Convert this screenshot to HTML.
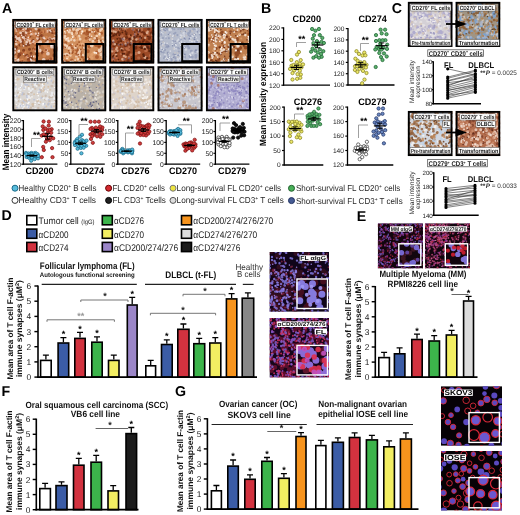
<!DOCTYPE html>
<html><head><meta charset="utf-8"><style>
html,body{margin:0;padding:0;background:#fff;}
svg{display:block;font-family:"Liberation Sans", sans-serif;text-rendering:geometricPrecision;filter:blur(0.35px);}
</style></head><body>
<svg width="520" height="515" viewBox="0 0 520 515">
<filter id="bl" x="-5%" y="-5%" width="110%" height="110%"><feGaussianBlur stdDeviation="0.45"/></filter>
<clipPath id="c1"><rect x="12.4" y="19" width="45" height="44.6"/></clipPath><g clip-path="url(#c1)">
<rect x="12.4" y="19" width="45" height="44.6" fill="#bc7444" />
<g filter="url(#bl)">
<path d="M26.6 25h0M42 21.4h0M36.6 35h0M14.1 41.6h0M13.2 38.2h0M14.7 22.2h0M31.4 56.5h0M17.2 28.4h0M40.9 62.2h0M38.5 36.5h0M57.3 20.2h0M51.7 31.5h0M18.2 23.5h0M25.9 56h0M19.9 45.1h0M41.4 35.4h0M37.1 20.9h0M14.2 27.6h0M43.4 37.9h0M26.2 45.3h0M32.7 32h0M48.7 50.6h0M22.9 44.8h0M36.1 58.8h0M45.7 31.4h0M57.5 23.5h0M31.1 53.3h0M18.5 40.8h0M13.2 49.1h0M47.3 44.7h0M52.5 32.6h0M44.1 45.7h0M38.7 39.3h0M50.9 62h0M33.7 48.9h0M14.3 50.7h0M41.8 64.3h0M50 31.3h0M29.5 49.2h0M12.5 39.5h0M19.3 23.5h0M14.2 53.8h0M17.5 29.5h0M29.8 58.6h0M15.2 38.9h0M37.2 59.2h0M49.9 58.3h0M24.5 37.4h0M28.3 59.2h0M56.4 25h0M19.7 28.8h0M22.4 40.6h0M39.1 30.2h0M11.6 37.5h0M28.8 44.4h0M56.2 50.2h0M35.6 46.8h0M43.2 20.5h0M53.7 54.3h0M52.5 55.2h0M29.8 36.6h0M16.3 47.6h0M14.3 21.1h0M21.2 25.6h0M27.4 20.5h0M11.4 25h0M16.2 34.9h0M12.6 58.7h0M40.3 24.9h0M23.3 34.2h0M28.5 23.7h0M51.3 64.3h0M33.3 40.5h0M15.4 22.8h0M27.5 30.3h0M50.4 25.5h0M12.5 62.3h0M36.2 24.8h0M36.9 19.3h0M36.2 63.6h0M52 50.4h0M23.7 35.1h0M19.3 54h0M36.4 54.3h0M26.9 28.4h0M49.5 63.9h0M51.5 55.6h0M49.9 52.5h0M22.1 42.1h0M28.1 19.4h0M12.7 31h0M23.6 50.3h0M56.4 38.8h0M55.4 64h0M56.3 35h0M21.8 28.6h0M20.6 27.5h0M40.7 60h0M50.9 40.3h0M42.1 55.3h0M15.4 48.8h0M54.2 54.5h0M46.7 40.3h0M19.8 54.8h0M27 55.3h0M57.1 36.4h0M30.3 62.1h0M45.5 25.9h0M17.4 25h0M53.9 55.6h0M18.3 56.5h0M57.5 48.6h0M27.9 43.6h0M17.6 18.7h0M57 48.3h0M36.1 61.5h0M31.8 58.6h0M50.2 27.8h0M23.2 31.7h0M22.7 45.3h0" stroke="#7a3418" stroke-width="3.0" stroke-linecap="round" opacity="0.8"/>
<path d="M23.6 37.5h0M17.6 60.4h0M28 39.4h0M38.8 60.1h0M31.2 60.8h0M35 42.8h0M36 18.9h0M32.1 26.5h0M11.6 55.2h0M19.5 40.1h0M45.5 43.9h0M26.7 42.2h0M37.5 54.5h0M16.4 44.1h0M23.1 30.9h0M47.7 41.7h0M37.8 53.4h0M54.3 38.7h0M40.2 41.6h0M35.5 50.3h0M32.7 42.9h0M33.9 61.9h0M44.3 58.8h0M55.7 30.1h0M37.7 62h0M50.9 24.4h0M17.1 38.6h0M14.8 29.2h0M14.8 49.2h0M48.2 59.8h0M18.7 51.4h0M42.4 24.7h0M52.9 63.1h0M21.7 62.4h0M30.1 40.7h0M57.9 56.8h0M19 38.1h0M35.6 33.8h0M20.6 32.8h0M45.3 18.9h0M37.4 38.5h0M12.2 33.4h0M40.7 41.9h0M14.4 63.9h0M48.5 63.3h0M16.3 30.4h0M13.3 54.3h0M24.1 24h0M31.2 60.5h0M49.9 30.1h0M18.4 60.8h0M38.2 50.6h0M15.6 20.7h0M43.7 37.8h0M14.8 61.7h0M41.2 55.4h0M15.3 57.9h0M14.5 58.2h0M32.7 33.8h0M37.4 61.2h0M24 24h0M36.2 29.1h0M16.5 25.5h0M13.8 27.4h0M26.1 32.2h0M47.1 31.5h0M34.9 26.3h0M27.7 18.8h0M23.2 18.7h0M45.9 43.7h0M20.3 40.1h0M55.3 23h0M49.9 38.1h0M34.7 56.9h0M29.9 41.6h0M43.7 63.8h0M27.5 56.8h0M44.6 47.6h0M30.4 34.2h0M14 24h0M14.7 52.5h0M23.4 25.6h0M15.4 57.2h0M52.3 49.2h0M24.7 29.3h0M25.2 39.4h0M18.8 38.8h0M23.8 62.8h0M57.1 43.5h0M22.9 63h0M25.9 34.6h0M11.5 35.8h0M33.7 41.4h0M20.8 41.5h0M11.6 30.3h0M15.6 36.6h0M13.4 19h0M25.7 28.8h0M38.9 42.7h0M46.7 48.6h0" stroke="#f2d8cc" stroke-width="2.8" stroke-linecap="round" opacity="0.85"/>
<path d="M45.1 59h0M29.7 33.2h0M57.7 25h0M45.4 48h0M13.5 56.9h0M53.3 47.2h0M45.9 55.8h0M17.9 42.4h0M35.1 56.9h0M49.2 56.5h0M38.9 59.6h0M43.5 50.3h0M22.2 19.5h0M17.7 34.8h0M16.3 56.9h0M37.7 47.3h0M40.8 49.7h0M34.4 18.2h0M48.9 52.9h0M35 42.9h0M42.4 21.1h0M46 29.8h0M14.9 30.4h0M45.7 27.6h0M46.2 63.5h0M34.6 35.8h0M33.9 49.9h0M47.4 46.8h0M41.6 21.6h0M18.3 29.8h0M46.3 32.2h0M38.1 18.6h0M14.3 30.5h0M43 50.3h0M43.2 31.6h0M35.7 39.7h0M33.3 23.5h0M53.4 27.3h0M57.4 61.6h0M12.2 39.4h0M49.9 63.1h0M32.5 30.5h0M21.3 62.1h0M21.3 45.1h0M18.1 42.4h0M56.2 24.2h0M50 41.7h0M53.1 50.8h0M22.3 59.8h0M34.2 19.2h0M11.6 40.9h0M32.6 32.1h0M18 34h0M26.3 57.2h0M11.5 53h0M50.8 23.6h0M54.9 51.2h0M53.8 31.5h0M28.9 36.3h0M58.3 45.5h0M28.4 37.9h0M24.3 20.2h0M16.2 56.9h0M24.8 61.6h0M23.1 30.4h0M35.4 26.8h0M28.9 62.6h0M53 55.8h0M41.1 60.6h0M55.6 43.6h0M45.2 20.3h0M45.8 39h0M46.8 48h0M24.9 20.3h0M55 23.9h0M33.6 34h0M25.4 52.4h0M57.3 30.1h0M42.2 32h0M37.6 36.4h0M19.3 25.5h0M21.2 60.2h0M34.8 28.3h0M54 64.4h0M32.5 24.5h0M20.4 22.2h0M27.5 22.2h0M22.6 30h0M38.2 59.3h0M46.6 37.2h0M30.9 42.4h0M29.1 33.8h0M14.3 30.9h0M56.9 23.9h0M35.1 47.3h0M52 28.1h0M24.1 29.6h0M30.2 38.8h0M56.2 57.5h0M52.4 19h0" stroke="#d88a58" stroke-width="2.6" stroke-linecap="round" opacity="0.8"/>
<path d="M12.9 51.1h0M53.5 40.1h0M39 18h0M29.8 61.2h0M50.2 57.9h0M57.1 29.6h0M16.5 25.2h0M36 49.8h0M55.7 51.6h0M41.8 53.6h0M32.9 43.7h0M13.3 54.5h0M22.3 60.9h0M41.7 32.2h0M17.4 29.7h0M41.3 50.6h0M16.7 21.3h0M36 45.2h0M29.6 28.4h0M39.6 18.5h0M25.6 39.5h0M56.5 48h0M52.9 40.1h0M22.4 29.5h0M56.5 50.8h0M25.8 19h0M34.8 49.4h0M31.1 30h0M42.8 61.1h0M22.1 19.6h0M27.3 37.6h0M43.5 27.2h0M48.9 52.4h0M35.1 27.6h0M57 32.5h0M49.9 28.8h0M21.8 53.4h0M25.3 62.4h0M34.7 26.7h0M21.9 37.4h0M42.7 62.2h0M18.3 36.3h0M21.4 63.4h0M18.1 20.4h0M14.2 36.3h0M53.6 59.2h0M45.8 64.5h0M55.2 33.3h0M20.1 61.6h0M46.5 19.5h0M42.6 35.6h0M29 33.5h0M19.4 18.1h0M24.6 34.4h0M56.3 23.8h0M56.7 27.7h0M28.2 56.3h0M50 38.2h0M13.7 40.1h0M28.9 60.8h0M20.5 35h0M53.6 19.4h0M30.7 55.8h0M47.4 19.9h0M13 20.9h0M54.6 30h0M46.5 59.9h0M27.3 30.7h0M56.4 46.8h0M23.7 51.4h0M26.3 30.8h0M11.6 53.2h0M54.5 47.5h0M55.7 19.1h0M22.4 40.1h0M56.4 62.5h0M29.6 29.7h0M31.6 41h0M55 26.5h0M49.1 52.4h0M50.1 54h0M39.9 33.3h0M26.4 34.9h0M48.2 21.7h0M20.7 53.1h0M23 21h0M13 43.8h0M26.7 63.7h0M52.9 64h0M23.8 21.9h0" stroke="#a04c28" stroke-width="2.0" stroke-linecap="round" opacity="0.85"/>
<path d="M15.9 41.2h0M44.8 38.8h0M22.4 37.4h0M40.6 49.4h0M46.6 57.5h0M42.6 23.6h0M50.9 31.7h0M38 35.4h0M46.1 27.3h0M23 29.4h0M18.6 59.2h0M38.6 33.2h0M30 64.2h0M35.2 28.8h0M49.4 48.4h0M58 22.8h0M33.7 56.2h0M50.9 60.6h0M13.3 31.7h0M17 26.8h0M57.1 45.2h0M55.1 35.3h0M52.1 38.9h0M23.6 54.2h0M55.8 22.9h0M39.4 46.9h0M21.6 35.2h0M18 27.5h0M23.4 45.9h0M42 27.5h0M11.9 33.2h0M43.3 26.6h0M26.1 27.5h0M48.8 43.5h0M14.4 22.7h0M30 43.6h0M41.4 22.2h0M19.1 50.4h0M30.7 31.2h0M25.9 62.4h0M26.1 44.4h0M28.2 37.4h0M52 64.4h0M28.5 27.2h0M45.6 27.5h0M11.7 60h0M31.3 56.2h0M30.5 59.1h0M33.1 25.6h0M12.1 43.7h0" stroke="#fff0ea" stroke-width="1.6" stroke-linecap="round" opacity="0.9"/>
</g>
</g>
<clipPath id="c2"><rect x="36" y="43" width="19.6" height="19.2"/></clipPath><g clip-path="url(#c2)">
<rect x="36" y="43" width="19.6" height="19.2" fill="#bc7444" />
<g filter="url(#bl)">
<path d="M48.8 61.3h0M36.9 55.2h0M43 52.7h0M38.2 48h0M46.3 61.6h0M37.3 52.4h0M52.4 62.5h0M39.3 44.7h0M55.4 62.7h0M45.4 43.1h0M55 50.2h0M54.5 55.2h0M52.8 45.4h0" stroke="#7a3418" stroke-width="4.050000000000001" stroke-linecap="round" opacity="0.8"/>
<path d="M52 46.7h0M43.7 59.9h0M52.9 45.9h0M39.7 50.5h0M46.2 50.1h0M37.7 47.2h0M50.7 61h0M35.9 53.9h0M51.4 42.8h0M53.1 44.5h0M47.9 53.7h0" stroke="#f2d8cc" stroke-width="3.78" stroke-linecap="round" opacity="0.85"/>
<path d="M48.5 48.5h0M44.1 54.4h0M44.2 56h0M44.7 51.3h0M35.5 55.1h0M45.6 47h0M51.5 58.5h0M44.9 45.8h0M45.2 44.3h0M37.8 51.1h0M37 51.4h0" stroke="#d88a58" stroke-width="3.5100000000000002" stroke-linecap="round" opacity="0.8"/>
<path d="M46 42.9h0M48.7 43.7h0M50.8 58.5h0M46 43.2h0M45.9 50h0M55.5 44.9h0M53.5 63.1h0M50.8 59.3h0M39.2 62.8h0M45.6 62.3h0" stroke="#a04c28" stroke-width="2.7" stroke-linecap="round" opacity="0.85"/>
<path d="M54.8 45.5h0M52 61.7h0M36.4 49.4h0M51.3 45.4h0M54.4 47.8h0" stroke="#fff0ea" stroke-width="2.16" stroke-linecap="round" opacity="0.9"/>
</g>
</g>
<rect x="37" y="44" width="17.6" height="17.2" fill="none" stroke="#000" stroke-width="2.0" />
<rect x="13.3" y="19.9" width="43.1" height="42.7" fill="none" stroke="#000" stroke-width="1.9" />
<rect x="15.7" y="21.4" width="39.3" height="6.1" fill="#fff" stroke="#444" stroke-width="0.5" />
<text x="35.3" y="26.5" font-size="6.0" font-weight="bold" text-anchor="middle" fill="#1a1a1a" textLength="37.5" lengthAdjust="spacingAndGlyphs" >CD200<tspan dy="-2.1" font-size="3.6">+</tspan><tspan dy="2.1"> </tspan>FL cells</text>
<clipPath id="c3"><rect x="61.2" y="19" width="45" height="44.6"/></clipPath><g clip-path="url(#c3)">
<rect x="61.2" y="19" width="45" height="44.6" fill="#d08e5c" />
<g filter="url(#bl)">
<path d="M98.5 24.7h0M83.8 60.9h0M70 30.2h0M84 32.9h0M61.9 26.5h0M67.8 61.6h0M92.1 59.7h0M68.1 54.6h0M65.6 42.7h0M90.1 34.8h0M101.2 43.9h0M87.5 59.1h0M65.1 64.3h0M89.8 36.4h0M97.7 30.3h0M106.8 44.9h0M77.1 53.6h0M81 26.2h0M95.1 20.3h0M98.7 29.8h0M90.2 63.9h0M87.7 48.9h0M74.9 18.1h0M61.8 25h0M89.2 38.1h0M84.3 59.7h0M66.4 28.6h0M90.9 19h0M60.3 34.5h0M65.2 34.6h0M70.7 45.2h0M87.9 27.5h0M89.5 40.1h0M66.5 61.6h0M71.6 25h0M64.7 47.7h0M101.2 54.4h0M79.1 30.3h0M60.7 48.1h0M86.6 34.3h0M90.5 38.7h0M104.2 52.2h0M71.9 60.1h0M62.3 42.8h0M79.3 29.1h0M62.9 54.3h0M60.8 43.7h0M104.4 24.6h0M69.6 46.3h0M84 47.9h0M98.4 26.1h0M74.7 32h0M62.5 59.4h0M97 51.3h0M60.5 57.4h0M95.2 39.7h0M95.1 39.1h0M70.8 22.9h0M71.1 19.8h0M76 52.9h0M92.9 57.4h0M93.6 30.4h0M86.2 38.3h0M97.3 42.4h0M72.7 47.9h0M105.6 28.1h0M101.6 18.7h0M72.4 29h0M95.2 62h0M95.3 33.2h0M101.6 33.3h0M71.4 60.3h0M89.8 50.3h0M91.5 63.6h0M82.3 57.1h0M93 58h0M80.7 51.8h0M87 32.3h0M70.2 47h0M63.9 60.4h0M67 19.3h0M65.2 61.3h0M76.4 24.6h0M61.6 19.9h0M92.8 47.5h0M93 52.3h0M63.3 45.5h0M77.3 56.1h0M98.7 59.5h0M63.3 58.4h0M103.2 62h0M65.2 27.6h0M65.5 19.6h0M100 55.8h0M90 56.4h0M89.9 31.4h0M64.9 22.6h0M95.8 27.6h0M75.2 37.7h0M61.2 30h0M73.5 51.4h0M77.5 33h0M105.5 41.5h0M100.2 46.8h0M61.7 37.2h0M80.7 54h0M76.5 50.8h0M85.5 28.1h0M100.7 22.2h0M98.7 25.9h0" stroke="#a85428" stroke-width="3.0" stroke-linecap="round" opacity="0.8"/>
<path d="M60.3 27.4h0M96 63.6h0M60.4 40.9h0M83.3 55.1h0M68.9 41h0M76.5 56.8h0M72.4 62h0M73.5 28h0M93.1 41.2h0M65.4 47.7h0M64 54.7h0M93 54.7h0M89.7 34.6h0M79.1 36.4h0M102 22h0M102 19.2h0M69.9 30.3h0M102.6 41.4h0M78 59.2h0M71.2 39.5h0M85.2 53.2h0M95.6 48.1h0M76.6 33.2h0M67.5 57.3h0M91.3 52.6h0M68.2 38.4h0M96.6 45h0M66.1 39.5h0M101.8 29.1h0M69.2 32.1h0M93.2 57.3h0M67.5 25.3h0M71.8 33.2h0M84.7 25.5h0M75.6 26.8h0M106 52h0M65 62.8h0M65 35.9h0M106.4 55h0M94.7 38.3h0M69.4 47.7h0M65.2 27.6h0M78.5 19.6h0M79 54.9h0M92.8 41.3h0M89.9 39.6h0M66.9 46.1h0M79.2 52.5h0M102.9 38h0M87.2 52.9h0M80 28.7h0M94.1 59h0M96.6 50.6h0M100.3 49.7h0M90.4 39.2h0M74.9 47.3h0M64.8 37.6h0M97 51.2h0M89.8 29.7h0M80.1 39.2h0M89.4 37.1h0M91.9 61.3h0M68.8 48.5h0M96.8 36.1h0M83.2 63.4h0M62 43.3h0M67.8 54.4h0M104.4 42.2h0M65 44.8h0M85.6 51.4h0M84.3 47.8h0M99.2 42.3h0M79.5 62.2h0M70.1 49.9h0M78.6 53.5h0M66 63.9h0M76.9 20.6h0M73.1 36.6h0M60.8 37.5h0M80 50.5h0M76.7 30.4h0M70.7 52.6h0M104.4 42.6h0M70.5 55.3h0M78.6 27.9h0M66.3 54.2h0M98.2 47.6h0M82.3 44.2h0M70.8 62.9h0M76.8 47.8h0M98.7 56h0M82.2 31.7h0M86 23.8h0M99.4 34.5h0M100.2 30.5h0M77.9 29.8h0M80.2 26.7h0M60.3 51.6h0M73.4 29.4h0M74.4 40.3h0" stroke="#f6dcc4" stroke-width="2.8" stroke-linecap="round" opacity="0.85"/>
<path d="M80.3 47.7h0M91.2 34.9h0M103.9 57.8h0M62.9 56.6h0M102.8 54.5h0M66.8 56.7h0M90 18.7h0M60.7 62.4h0M91 29.7h0M65 24.7h0M71.2 54.2h0M76.5 25.1h0M102.7 54.9h0M68.1 59.5h0M88.8 54.4h0M91.6 59.7h0M97.2 57.1h0M69.5 50.3h0M85.1 52.6h0M80.8 59.1h0M86.3 30.3h0M71.2 24.5h0M83.4 20.7h0M82.2 24.7h0M83.3 41.2h0M85.6 58.2h0M60.5 57.2h0M82.2 44.2h0M91.5 57.2h0M77.8 37.5h0M105.3 21.5h0M90.1 47.6h0M61.5 46.4h0M92.3 61.4h0M75.7 63.7h0M84.2 40.6h0M102.4 19.6h0M94 47.1h0M76.1 58.2h0M77.4 40.1h0M84.9 53.9h0M70.1 38.3h0M80.1 43.8h0M99.1 31.6h0M99.1 36.8h0M83.9 30.7h0M84 63.4h0M91 54.9h0M75.8 32.8h0M74.3 45.3h0M90 54.5h0M62.1 51.7h0M101.8 43.4h0M62.5 32h0M60.5 26.9h0M103.5 46.4h0M91.1 54.8h0M103 46.5h0M89.2 47.2h0M92.9 45.8h0M92.2 27.9h0M91.5 39.3h0M96 22.7h0M68.7 19.7h0M96.6 60.6h0M91 35.2h0M98.9 54.7h0M86.6 30h0M74.4 37.7h0M75.2 38.1h0M90.4 61.5h0M62.8 44.4h0M62.1 23.5h0M98.3 44.8h0M103.4 38.8h0M60.9 36h0M88 61.7h0M106.3 40.2h0M79.6 22.8h0M90.5 27.9h0M67.3 18.7h0M60.4 49.9h0M65.9 63h0M64.3 58.5h0M66.3 18.8h0M94 29.3h0M94.7 26.7h0M62.6 54.1h0M93.7 57.9h0M94.5 21.9h0M89.7 51.1h0M81.8 61.4h0M72.1 62.9h0M93.9 18.5h0M60.9 48.3h0M98.6 21.7h0M74.8 52h0M68 58.1h0M83.1 20.8h0M77.5 44.8h0" stroke="#e4a470" stroke-width="2.4" stroke-linecap="round" opacity="0.8"/>
<path d="M80.8 49.5h0M67 55.2h0M77.3 48.1h0M89.8 37.5h0M78.3 54.6h0M104.6 54.6h0M86.8 31.6h0M63 63.4h0M93.3 56.6h0M75.8 46.2h0M106.1 56.7h0M88.5 32.4h0M80.3 59.4h0M77.9 49.9h0M88.5 59.8h0M98.2 31.2h0M60.3 30.3h0M80.1 45.3h0M98.6 59.4h0M62.2 56.8h0M98.4 58.4h0M87.1 30.8h0M100.2 55.6h0M92.4 60.6h0M76.5 22h0M86.2 55.2h0M69.6 53h0M104 28.9h0M88.7 49.6h0M82.1 27.6h0M72.2 53h0M97.4 39.4h0M64.3 55.6h0M96.5 28.9h0M87.4 59.8h0M101.8 42.3h0M82.6 45.5h0M69.1 27h0M68.7 50.7h0M77.3 44.3h0M79.1 42.1h0M67.2 20.1h0M107.1 35.4h0M65.2 47.5h0M97.2 25.3h0M88.3 34.1h0M84.6 19h0M61.8 64.2h0M100.9 40.7h0M86.9 30.2h0M96.8 37.8h0M104.7 53.8h0M98.7 62.9h0M72.1 19.8h0M69.6 26.4h0M64.1 20.4h0M86.4 58.6h0M81.7 62.1h0M103 21h0M88.3 36.5h0" stroke="#98481e" stroke-width="1.8" stroke-linecap="round" opacity="0.85"/>
<path d="M65.8 62.7h0M72.3 44.3h0M90.3 62.6h0M91.7 36.3h0M81.3 25.4h0M105.6 64.2h0M70.6 19.8h0M72.2 34.4h0M102.6 60.2h0M99.5 20.2h0M97.2 51.1h0M90.6 63.9h0M62.8 24.7h0M95.7 61.8h0M92 31.9h0M88 53.3h0M65.2 33.1h0M72.3 23.8h0M82.8 25.9h0M71.4 24.7h0M92 18.6h0M93.9 27.1h0M61.9 61.2h0M70.6 61.5h0M100.9 59.4h0M66.8 38.8h0M64.8 61.3h0M99.8 47.3h0M81.5 33.8h0M98.9 40.3h0M89.7 24.7h0M70.6 20.6h0M93.7 43.8h0M67 58.6h0M72.7 37.2h0M67.5 30.6h0M99.7 33.6h0M68.1 40.9h0M75.1 60.1h0M65.6 63.6h0M62.9 59.7h0M91.6 27.8h0M82.6 31.3h0M72.3 27.4h0M77.3 64.2h0M107.1 61.1h0M64.8 31.5h0M102.3 20.7h0M94.3 31.7h0M106.2 18.7h0" stroke="#fff4ea" stroke-width="1.6" stroke-linecap="round" opacity="0.9"/>
</g>
</g>
<clipPath id="c4"><rect x="84.8" y="43" width="19.6" height="19.2"/></clipPath><g clip-path="url(#c4)">
<rect x="84.8" y="43" width="19.6" height="19.2" fill="#d08e5c" />
<g filter="url(#bl)">
<path d="M101.2 49.2h0M86.8 42h0M101.8 53.2h0M87.8 51.2h0M103.5 46.6h0M96.1 44.9h0M87.7 58.3h0M99.2 46.2h0M85.5 43.9h0M96.9 52.5h0M89.7 46.4h0M97 57h0" stroke="#a85428" stroke-width="4.050000000000001" stroke-linecap="round" opacity="0.8"/>
<path d="M101.3 54.4h0M88.2 43.4h0M99.6 50.7h0M99.4 43.2h0M101.3 49.1h0M102 60.3h0M94.4 42.3h0M103.5 52.1h0M102.6 47.6h0M87.8 59.6h0M91.7 45.5h0" stroke="#f6dcc4" stroke-width="3.78" stroke-linecap="round" opacity="0.85"/>
<path d="M91.8 54.6h0M83.9 53h0M93.4 52.9h0M86.4 57.1h0M101.4 60.3h0M90.7 57.1h0M92 57.9h0M85.1 60.5h0M104.4 52.5h0M94.9 53.2h0M95.4 42.4h0" stroke="#e4a470" stroke-width="3.24" stroke-linecap="round" opacity="0.8"/>
<path d="M104.7 46.7h0M87.7 44.2h0M89.2 59.3h0M84.4 44h0M98.9 46.1h0M84.2 54.7h0" stroke="#98481e" stroke-width="2.43" stroke-linecap="round" opacity="0.85"/>
<path d="M96.3 53.1h0M99 44.2h0M102.6 57.2h0M84.8 44.6h0M94.5 52.6h0" stroke="#fff4ea" stroke-width="2.16" stroke-linecap="round" opacity="0.9"/>
</g>
</g>
<rect x="85.8" y="44" width="17.6" height="17.2" fill="none" stroke="#000" stroke-width="2.0" />
<rect x="62.2" y="19.9" width="43.1" height="42.7" fill="none" stroke="#000" stroke-width="1.9" />
<rect x="64.5" y="21.4" width="39.3" height="6.1" fill="#fff" stroke="#444" stroke-width="0.5" />
<text x="84.2" y="26.5" font-size="6.0" font-weight="bold" text-anchor="middle" fill="#1a1a1a" textLength="37.5" lengthAdjust="spacingAndGlyphs" >CD274<tspan dy="-2.1" font-size="3.6">+</tspan><tspan dy="2.1"> </tspan>FL cells</text>
<clipPath id="c5"><rect x="109.2" y="19" width="45" height="44.6"/></clipPath><g clip-path="url(#c5)">
<rect x="109.2" y="19" width="45" height="44.6" fill="#9c4a26" />
<g filter="url(#bl)">
<path d="M121.3 23.7h0M127.3 24.4h0M136 58.1h0M115.1 44.7h0M143.3 25.7h0M147 61.7h0M126.5 37.6h0M147.7 42.5h0M126.8 61.9h0M144.7 33.8h0M119.5 33.6h0M128.7 63.7h0M146 60.5h0M146.5 57.5h0M110.7 42.1h0M153.2 61.5h0M119.9 37.7h0M137.9 35h0M133.1 21.2h0M128.6 41.5h0M109.2 24.5h0M153.8 54.2h0M152.2 47.5h0M146.2 59.2h0M149.8 19.6h0M138.4 30.4h0M140.1 30.7h0M133.7 61.1h0M137.4 29.7h0M132.7 38.2h0M152.9 31.4h0M122.6 48.2h0M113.9 45.7h0M153.1 41.9h0M120.8 39.7h0M133.3 24.9h0M114 24.1h0M122 36.9h0M121.8 29.3h0M112.3 43.5h0M147.7 46.4h0M135 48.3h0M117.7 51.1h0M129.9 43.5h0M137 39.9h0M122.8 29.3h0M118.6 41.9h0M126.2 45.3h0M108.8 34.4h0M148.7 29.1h0M134.4 40.9h0M121.6 64h0M122.1 54h0M115.7 21.1h0M149.1 38.5h0M111.1 36.1h0M128.9 52.3h0M113.3 28.5h0M153.3 52.4h0M115.5 33.7h0M124.8 49.5h0M137.2 57.6h0M146.8 42.1h0M142.9 52.6h0M143.9 40.1h0M145.1 51h0M151.2 23.9h0M149.1 18.2h0M144.2 45.3h0M131.6 62.9h0M135.1 37.5h0M145 58.7h0M136.7 35.7h0M129.5 39.3h0M142.2 31.7h0M126.6 43.9h0M126.3 33h0M145.2 57.6h0M131.7 38.7h0M116.9 32.2h0M115 44.8h0M135.5 22.1h0M151.4 33.1h0M147.8 57.1h0M153.3 27.5h0M128.2 60.4h0M108.7 20.2h0M134.8 41.2h0M151.5 54h0M133.5 64.5h0M132.5 42.1h0M140.4 36.2h0M125 45.7h0M124.7 62.2h0M140 42.5h0M112.9 35.4h0M127 44.2h0M135.2 59h0M153.5 40.7h0M128.9 47.1h0M155 34h0M133.1 56h0M116.2 32.8h0M154.2 56.5h0M132.3 23.1h0M150.2 50.1h0M146.8 64.1h0M149.9 37.6h0M115.6 31.5h0M132.2 41.5h0M117 26.5h0M137.8 46.1h0M124.8 64.3h0M138.1 20h0M127.5 54.7h0M122.6 50.2h0M108.4 32.2h0M147.8 45.3h0M139.6 27.2h0M131.6 43.8h0M120.7 48.1h0M133.2 64.5h0M135.2 37.2h0M113.9 25.3h0M143.9 23h0M112.9 25.9h0M132.8 56.4h0M137 55.6h0M111.1 18.6h0M144.4 33h0" stroke="#682810" stroke-width="3.0" stroke-linecap="round" opacity="0.8"/>
<path d="M141.8 34.5h0M116.2 30.4h0M112.9 60.1h0M135.6 34.3h0M129.3 36h0M110.8 59.5h0M135.6 62.7h0M128.9 46.9h0M119.9 20h0M151.9 57.8h0M123 59.9h0M146.5 32.2h0M136.5 62.7h0M131.5 62.3h0M119.6 36.2h0M142 28.3h0M122.7 58.8h0M131 54.9h0M119.6 26.1h0M125 26.7h0M153.9 31.5h0M134.6 23.4h0M133.3 36h0M127.2 21h0M114 56.5h0M124.7 29.4h0M117.2 31.2h0M119.3 19.6h0M139.4 33.9h0M115.5 50.9h0M112.6 30.6h0M147.4 24h0M129 57h0M146 25.4h0M124.8 51.7h0M125.9 62.7h0M118 62.3h0M131.9 28.6h0M129.5 24.1h0M141.4 30.2h0M150.5 45.4h0M125.5 29.5h0M136.8 27.9h0M149.2 23.7h0M132.3 43.3h0M120.9 54h0M126.3 48.6h0M134.9 32.5h0M126.5 22h0M116.5 57.7h0M123.3 48.9h0M113.3 44.2h0M125.2 41.3h0M122.2 21.1h0M122.8 28.6h0M114.1 51.4h0M121.5 36.8h0M150.9 54.1h0M149.7 58.1h0M114.4 30.9h0M109.6 49.7h0M139.4 34.4h0M127.6 48.7h0M141.1 29.6h0M148 34.4h0M137.8 26.5h0M113.6 60.5h0M142.7 51.2h0M110.1 19.9h0M115.8 27.2h0M122.4 35.7h0M110 32.5h0M138.2 26.4h0M147.7 44.6h0M141.9 29.9h0M128.6 49.9h0M124.6 18h0M147.4 54.2h0M121.7 20h0M148.3 46.3h0M110.4 29.4h0M113.4 54.9h0M118.1 60.6h0M143.4 22h0M140.8 36.3h0M143.3 56.6h0M121.4 22.2h0M152.7 37.8h0M151.9 50.2h0M142.9 56.7h0M137.7 39.1h0M110.8 50.5h0M128.3 41.9h0M151.8 23.9h0M144 20h0M141.2 55.5h0M120.5 43.5h0M153.8 47.7h0M133.8 29.6h0M111 34.7h0" stroke="#c47450" stroke-width="2.6" stroke-linecap="round" opacity="0.8"/>
<path d="M127.5 27.4h0M122.8 24.4h0M141.4 49.2h0M119.4 29.3h0M132.4 38.7h0M152.2 34.4h0M122.3 59.2h0M114.9 44.2h0M123.9 56h0M134 53.4h0M116.2 49.1h0M136.3 39.5h0M144.2 56.7h0M113.6 31.5h0M125.1 27.6h0M111 31.1h0M117.5 50.7h0M129.3 23.3h0M123.5 39.8h0M125.3 25.8h0M111.6 18.5h0M154.8 53h0M112.1 51.4h0M154.3 44.3h0M113.3 40.8h0M128.6 26.8h0M133.7 18.4h0M151.4 48h0M137.7 61.6h0M138.9 29.7h0M119.8 24.5h0M109.5 54.1h0M147.7 31.8h0M116.9 47.7h0M147.9 61.2h0M116.1 54.6h0M147.2 52.6h0M123.6 26.6h0M147 32.9h0M125.5 43.7h0M125.6 56.7h0M119.5 19.9h0M134.8 47.3h0M146.7 50.9h0M150.7 62h0M131.4 41.3h0M115.6 32h0M135.5 21.7h0M140.5 25.6h0M129 63.2h0M112.4 19.9h0M128.9 26.9h0M142.2 18.1h0M147.7 57.9h0M145.2 37.8h0M121.5 48.8h0M132.4 37.6h0M124.1 38.4h0M139.5 56.5h0M150.7 25.7h0" stroke="#e0b498" stroke-width="2.4" stroke-linecap="round" opacity="0.85"/>
<path d="M122.1 38.7h0M134.7 34.2h0M117.4 22h0M123.4 39.5h0M153.9 60.3h0M148.9 63.4h0M153.4 46.9h0M146.3 20.8h0M140 46.4h0M122.2 44.6h0M153 40.4h0M138.6 31.9h0M124.3 59.2h0M109.5 26.8h0M140.1 38.8h0M112.2 48.8h0M125.7 45.1h0M127.8 42.7h0M134.7 36.5h0M113.6 26.4h0M150 43.5h0M113.5 58.2h0M120.1 22.4h0M133.1 29.7h0M131.2 43.8h0M118.8 44.7h0M113.5 41.9h0M135.9 21.7h0M127.4 21.4h0M128.9 58.2h0" stroke="#7a6478" stroke-width="2.0" stroke-linecap="round" opacity="0.7"/>
<path d="M134.1 51.3h0M143.8 23.3h0M154.8 51.6h0M113 56.7h0M126.6 26h0M153.3 44.2h0M144.6 24.4h0M144.7 20.7h0M119.3 35.4h0M108.9 45.7h0M118.2 32h0M141.4 37.9h0M150 46.9h0M149.2 44.2h0M151.3 58.6h0M116.1 52.7h0M124.2 53.6h0M140.2 56.5h0M114 35.4h0M142.9 62.2h0M142.1 20h0M136.6 22.6h0M134 55.4h0M113.5 61.1h0M139.9 29.9h0M117.3 38.8h0M147.6 45.1h0M113.5 19h0M113.4 55.3h0M116.9 43.8h0M121.8 50h0M126.1 24.7h0M149.3 43.1h0M140.6 55.7h0M152.8 18.6h0M124.3 25h0M131.8 58.7h0M145.8 19.7h0M116.8 56.1h0M140.1 36.3h0M130.6 25.4h0M147.9 36.3h0M149.2 46.5h0M111.8 33.3h0M118.4 59.7h0M135.9 20h0M116.2 34.8h0M130.2 44.9h0M126.4 34.5h0M108.5 45h0M123.9 19h0M129.8 64h0M110.3 24.8h0M139.7 30.7h0M121 41.3h0M120.5 44.5h0M133 62.6h0M154.8 19.6h0M134.5 53.9h0M149.2 54.1h0M138 47.6h0M125.3 31.1h0M145.6 58.7h0M152.3 49.8h0M122.5 53.6h0M143 41.7h0M138.1 34.3h0M134.1 36.9h0M111 33.7h0M123.4 64.1h0M130.8 35.1h0M119.6 28.9h0M124.6 24.3h0M108.5 58.6h0M129.5 38.8h0M134.9 32.1h0M116.1 21.1h0M122.4 32.4h0M142.4 43.7h0M152.3 33.9h0" stroke="#501e0a" stroke-width="1.8" stroke-linecap="round" opacity="0.9"/>
</g>
</g>
<clipPath id="c6"><rect x="132.8" y="43" width="19.6" height="19.2"/></clipPath><g clip-path="url(#c6)">
<rect x="132.8" y="43" width="19.6" height="19.2" fill="#9c4a26" />
<g filter="url(#bl)">
<path d="M151.7 54.4h0M133.5 45.8h0M144.3 62.9h0M139.5 58.4h0M141.1 60.4h0M133.3 52.3h0M151.2 47.8h0M137.4 42.5h0M135.4 47.7h0M147 46.6h0M140.4 46.2h0M144.8 60.3h0M145.8 46.2h0M147.7 62.4h0" stroke="#682810" stroke-width="4.050000000000001" stroke-linecap="round" opacity="0.8"/>
<path d="M144.8 43.7h0M149.3 60.6h0M139.2 44.9h0M135.9 53.4h0M150.7 55.6h0M151.7 46.5h0M138.9 57.9h0M145.8 50.6h0M146.5 49.2h0M133 50.8h0M132.8 55.3h0" stroke="#c47450" stroke-width="3.5100000000000002" stroke-linecap="round" opacity="0.8"/>
<path d="M139 52.5h0M144.7 47.4h0M141.8 42.3h0M151.8 54h0M153.1 43.2h0M145.1 57.4h0" stroke="#e0b498" stroke-width="3.24" stroke-linecap="round" opacity="0.85"/>
<path d="M138.9 44h0M135.2 45h0M148.4 43.9h0" stroke="#7a6478" stroke-width="2.7" stroke-linecap="round" opacity="0.7"/>
<path d="M149.4 51h0M143.4 54.5h0M143.8 55.9h0M144.8 49h0M147.8 47.5h0M147.2 58.2h0M148.6 48.6h0M148.5 62.7h0M141.6 47.9h0" stroke="#501e0a" stroke-width="2.43" stroke-linecap="round" opacity="0.9"/>
</g>
</g>
<rect x="133.8" y="44" width="17.6" height="17.2" fill="none" stroke="#000" stroke-width="2.0" />
<rect x="110.2" y="19.9" width="43.1" height="42.7" fill="none" stroke="#000" stroke-width="1.9" />
<rect x="112.5" y="21.4" width="39.3" height="6.1" fill="#fff" stroke="#444" stroke-width="0.5" />
<text x="132.2" y="26.5" font-size="6.0" font-weight="bold" text-anchor="middle" fill="#1a1a1a" textLength="37.5" lengthAdjust="spacingAndGlyphs" >CD276<tspan dy="-2.1" font-size="3.6">+</tspan><tspan dy="2.1"> </tspan>FL cells</text>
<clipPath id="c7"><rect x="157.6" y="19" width="45" height="44.6"/></clipPath><g clip-path="url(#c7)">
<rect x="157.6" y="19" width="45" height="44.6" fill="#b6bccc" />
<g filter="url(#bl)">
<path d="M181.2 61.8h0M162.8 18.4h0M179 48.5h0M193 34.9h0M203.1 28.6h0M192.2 22.2h0M157.9 24.3h0M159.4 41.4h0M182.7 26.5h0M200.8 35h0M163.6 26.3h0M191.3 60.9h0M164.2 19.4h0M193.2 29.3h0M202.8 41.3h0M186.5 34h0M194.2 39.4h0M171.8 60.1h0M161.7 52.2h0M159.7 48.1h0M175.5 58.3h0M159.4 44.3h0M175.9 60.8h0M201 47.2h0M167.1 29.7h0M168.9 38.2h0M167.5 27.5h0M192.3 48h0M170.6 64.3h0M166.8 44.5h0M164 58.2h0M197.5 30.5h0M191.9 56.3h0M169.9 33.4h0M179.4 59.5h0M164.2 49.8h0M184.7 39.1h0M183.8 59.1h0M166.5 59.2h0M173.5 54.3h0M197.2 26.5h0M197.2 64.4h0M170.6 19.1h0M161.8 63.4h0M157 60.5h0M163.7 52.3h0M161.2 25.9h0M188.7 22.2h0M172.6 60.8h0M190.3 59.1h0M202.6 19.5h0M167.6 54.9h0M189 19.8h0M180.3 28.8h0M176.8 22.9h0M157.5 64.2h0M171.5 58.9h0M162.3 40.7h0M163 38h0M165 49.9h0M163.6 52.4h0M180.1 23.2h0M173.2 41.1h0M199.8 34.3h0M166.7 63.1h0M198.1 52.1h0M169.4 26.3h0M169 21.2h0M158.6 41.7h0M175.8 43.9h0M173.6 18.5h0M188.9 48.4h0M182.2 43.6h0M189 63.8h0M197.7 51.4h0M175.4 32.8h0M176.3 63.3h0M174.8 36h0M175.9 24.7h0M203.5 18.2h0M185.2 61.2h0M168.6 46.5h0M174.3 29.2h0M165.9 23.4h0M196.2 54.5h0M199.3 20.3h0M189.2 33.1h0M187 43.6h0M171.4 63.3h0M156.6 52.8h0M196.7 41.8h0M184.4 64.4h0M167.6 47.3h0M191.5 35.7h0M190.1 36.3h0M181.3 46.6h0M188.4 33h0M186.2 43.3h0M167.1 46.5h0M169.1 60.3h0M178.8 51.6h0M181.1 40.2h0M167 24.6h0M200.2 42.6h0M181.2 42.6h0M194.8 29.1h0M164.7 56.3h0M178.2 47.8h0M195.5 59.7h0M197.4 20h0M174.5 56.8h0M195 23.7h0M163.8 29.7h0M161.4 34.6h0M194.4 42.3h0M177.9 22.1h0M175.2 64.5h0M189.3 38.9h0M179.1 55.2h0M192.3 25h0M188.6 35.1h0M181.1 29.1h0M174 33.8h0M174.5 18.8h0M166 44.6h0M159.3 26.3h0M190.4 30.8h0M171.8 29.3h0M195.8 22.3h0M186.5 58h0M166.1 37.7h0M193.8 46.8h0M174.1 20h0M177.4 35.1h0M190.1 31.8h0M175.8 48.2h0M194.7 34.4h0M174.7 45h0M200.1 26.9h0M202.3 51.2h0" stroke="#949cb8" stroke-width="2.2" stroke-linecap="round" opacity="0.8"/>
<path d="M174.1 49h0M172.1 21.3h0M192.1 35.7h0M181.3 41.1h0M199 53.3h0M157.8 45.6h0M178.3 39.5h0M196.1 37.3h0M178.9 59.5h0M177.3 40.9h0M180.7 56.4h0M188.1 52.5h0M175.5 19.9h0M188.6 43.8h0M192.8 53.9h0M162.2 28.3h0M160.2 56.1h0M161.4 22.1h0M192 44.3h0M159.2 49.7h0M190 40.5h0M159.2 50.2h0M176.2 45.2h0M203.5 56.1h0M197.6 24.8h0M172.3 42.1h0M156.9 64.1h0M169.5 30.2h0M171.3 29.9h0M197 43.9h0M180.6 37.6h0M159 32.2h0M197.3 55.4h0M196.9 30h0M166.1 20.4h0M181.8 35.4h0M178.4 40.8h0M184 35h0M194.3 27.3h0M199.8 43.9h0M159 32.6h0M181.7 37.1h0M183.2 33.1h0M169.5 55.1h0M170.3 51.1h0M194.3 45.6h0M178 61.6h0M177.5 58.9h0M159.3 38.2h0M186.6 20.3h0M197.1 21.4h0M184.6 26.4h0M200 44.1h0M194.2 41.2h0M188.3 49.5h0M170.5 27.8h0M196 24.8h0M199.7 27.6h0M161.3 22.4h0M193.5 62.3h0M176.1 48.7h0M168.7 60.2h0M188.8 25.2h0M159.3 50.4h0M158.6 57h0M170.4 28.8h0M184 32.9h0M182.9 25.2h0M199.5 33.1h0M196.1 25.1h0M194.2 63.7h0M175 19.5h0M174.5 47.9h0M167.1 43.4h0M161 39.6h0M190.8 38h0M188.5 23.3h0M195.5 23.7h0M200 64.4h0M200.8 42.5h0M170.3 34.2h0M191.9 41.1h0M200.3 22.3h0M179.4 58.3h0M184.7 43.2h0M160.8 24.5h0M169.3 59.6h0M196.3 28.6h0M200.1 19.5h0M184.7 63.1h0M172.8 62h0M187.5 20.3h0M172.3 39h0M168.2 52.6h0M165 54.7h0M170.6 21.2h0M182.9 22.5h0M182.5 54.7h0M184.6 39.5h0M158.2 41.9h0M161.2 48.1h0M162.8 44.9h0M173.2 35.5h0M187.8 25.6h0M164.6 61.9h0M172.2 57.3h0M197.7 40.4h0M163.6 22.4h0M197.9 23.5h0M179.9 43h0M162.1 39.8h0M164.3 43h0M180.4 35.1h0M165.9 36.8h0M166.2 23.9h0M167.9 58.6h0M180.2 59.5h0M157.3 62h0M179.6 54.9h0M183.4 50.1h0" stroke="#dcdee6" stroke-width="1.8" stroke-linecap="round" opacity="0.85"/>
<path d="M167.4 53h0M163.8 30.3h0M158.1 36.3h0M181 31.6h0M198.5 21.9h0M183.8 28.9h0M184.6 54.5h0M190 20.9h0M168.2 45.9h0M202.8 19.9h0M185.7 50.2h0M194.9 33.9h0M194.7 39.5h0M199.9 18.5h0M200.8 37.2h0M175.7 22.1h0M168.1 52.2h0M188.5 25h0M172.8 24.5h0M165.9 28.2h0M172.2 63.5h0M203.5 54.9h0M179.1 41.2h0M193.2 60.3h0M191.9 47.7h0M166 47.1h0M196.3 54.7h0M160.9 51.4h0M173 25.6h0M202 49.3h0M191.6 24.3h0M195.5 61.7h0M199.1 52.7h0M195.7 55.4h0M184.3 38.3h0M195.4 54.6h0M197.5 31.9h0M201.8 42.8h0M201.1 23.4h0M202.1 54.7h0M168.4 57.1h0M167.5 27.2h0M178.1 29h0M179.8 60.3h0M188.8 51.1h0M175 54.5h0M193.9 49.8h0M200.9 56.5h0M175.7 22.1h0M187.3 57h0M172.6 45.7h0M195.9 55h0M156.8 40.8h0M157.4 23.2h0M194.8 37.5h0M185 39.3h0M172.4 28h0M173.2 57.4h0M185.7 31.6h0M160.7 30.6h0M189.6 38.6h0M187.7 55.6h0M162.3 49.8h0M158.6 56.3h0M165.3 30.7h0M201.6 34.9h0M167.1 59.5h0M185.3 59.7h0M175.1 41.3h0M201.5 41.6h0M203.1 26.8h0M195.6 25.6h0M181.4 18h0M164.8 62h0M178 55.7h0M168.4 34.4h0M161.3 43.8h0M197.1 41.9h0M174.3 61.3h0M198.6 49h0" stroke="#7880a4" stroke-width="1.4" stroke-linecap="round" opacity="0.8"/>
<path d="M160.2 47.1h0M177.5 62.6h0M173.6 48.8h0M186.3 35.5h0M181.1 49.5h0M199.2 41.2h0M173.7 63.5h0M159.3 56.9h0M188.7 44h0M177.6 53h0M198.5 52h0M191.8 19.6h0M171.9 24.4h0M201.4 59.5h0M163.4 45.4h0M183.7 20.2h0M175 52.8h0M186.8 31.1h0M192.4 31.6h0M182.2 37.6h0M202.6 48.2h0M194.4 49.5h0M174.5 62.9h0M190 50.2h0M169.6 25.5h0M183.6 56.5h0M193.9 34.2h0M163.2 42h0M197.8 25.6h0M191.3 26h0M171.3 20.5h0M170.6 35.8h0M202 62.8h0M165.4 32.4h0M201 27.2h0M171.7 38.4h0M161.7 30.1h0M175.1 36h0M201.9 30.4h0M166.2 60.3h0M177.8 57h0M186.5 54.3h0M171.4 25.1h0M192.2 39.9h0M182.9 49.3h0M192 30.8h0M173.6 60.8h0M181.5 31.4h0M186.2 30.1h0M192.9 19.9h0" stroke="#c8c4c4" stroke-width="2.0" stroke-linecap="round" opacity="0.8"/>
<path d="M195.5 44.4h0M173.2 61.8h0M169.1 29.3h0M159.9 43.6h0M192 49.6h0M176 55.6h0M161.8 32.3h0M186.9 63.1h0M186.4 50.2h0M193 36.4h0M200.8 52.6h0M172.7 36.3h0M194.5 34.3h0M165.3 58.6h0M181.6 42.3h0M188.1 60h0M162.9 33.8h0M159.7 37.3h0M180.2 57.7h0M188 44.9h0M175.6 44.7h0M169.5 57.4h0M193.7 57.1h0M163.7 49.3h0M192 41.3h0M198.8 59.9h0M191.5 56.3h0M187.1 58.9h0M162.8 50.8h0M189.7 46.5h0M169.5 21.1h0M185 56.4h0M169.4 27.9h0M167.1 22.4h0M188.4 63.4h0M194.3 34.8h0M189.5 21.4h0M196 33.2h0M156.8 47.3h0M163.1 30.8h0M159.4 38.8h0M182.7 55.6h0M158.5 56.6h0M161.8 28.5h0M186.2 33.8h0M172.2 44.5h0M166.8 55h0M166.4 57.1h0M194.6 43h0M158 54.3h0M157.9 41.5h0M176.5 20.9h0M186.2 51.8h0M184.1 36.6h0M180.7 45.4h0M167.2 58.4h0M203.4 55.5h0M201.8 33.4h0M203 21.3h0M179.1 24.2h0" stroke="#eef0f2" stroke-width="1.2" stroke-linecap="round" opacity="0.9"/>
</g>
</g>
<clipPath id="c8"><rect x="181.2" y="43" width="19.6" height="19.2"/></clipPath><g clip-path="url(#c8)">
<rect x="181.2" y="43" width="19.6" height="19.2" fill="#b6bccc" />
<g filter="url(#bl)">
<path d="M190 56.5h0M195.5 51.6h0M187.6 46h0M188.9 48h0M184.4 57.6h0M191.4 51.3h0M184.5 56.9h0M184.4 47.6h0M192.3 56.9h0M201.2 57.9h0M200.7 61.5h0M195.8 57.3h0M181.6 46.4h0M180.5 60.3h0M195.8 55.4h0" stroke="#949cb8" stroke-width="2.9700000000000006" stroke-linecap="round" opacity="0.8"/>
<path d="M185.9 49.5h0M183.7 55.4h0M201.6 48.5h0M181.2 45.7h0M187.9 61.1h0M197.6 51.6h0M182.4 44.3h0M183.5 58.5h0M190.4 63h0M199.9 58.8h0M190.5 59.4h0M183 44.3h0M192.4 52.8h0" stroke="#dcdee6" stroke-width="2.43" stroke-linecap="round" opacity="0.85"/>
<path d="M184.7 47.3h0M180.7 61.3h0M195.5 62h0M201.4 51.3h0M196 50.1h0M197.7 59.8h0M183.1 42.3h0M184.8 54.4h0M188.4 42.2h0" stroke="#7880a4" stroke-width="1.89" stroke-linecap="round" opacity="0.8"/>
<path d="M198.1 58.7h0M190.2 42.9h0M199.4 53.3h0M181.7 48.9h0M193.7 60.8h0" stroke="#c8c4c4" stroke-width="2.7" stroke-linecap="round" opacity="0.8"/>
<path d="M190.7 55.6h0M184.6 47.2h0M199.8 50.1h0M182.4 54.5h0M182.9 46.2h0M190.1 54.4h0" stroke="#eef0f2" stroke-width="1.62" stroke-linecap="round" opacity="0.9"/>
</g>
</g>
<rect x="182.2" y="44" width="17.6" height="17.2" fill="none" stroke="#000" stroke-width="2.0" />
<rect x="158.5" y="19.9" width="43.1" height="42.7" fill="none" stroke="#000" stroke-width="1.9" />
<rect x="160.9" y="21.4" width="39.3" height="6.1" fill="#fff" stroke="#444" stroke-width="0.5" />
<text x="180.6" y="26.5" font-size="6.0" font-weight="bold" text-anchor="middle" fill="#1a1a1a" textLength="37.5" lengthAdjust="spacingAndGlyphs" >CD270<tspan dy="-2.1" font-size="3.6">+</tspan><tspan dy="2.1"> </tspan>FL cells</text>
<clipPath id="c9"><rect x="206" y="19" width="45" height="44.6"/></clipPath><g clip-path="url(#c9)">
<rect x="206" y="19" width="45" height="44.6" fill="#c08050" />
<g filter="url(#bl)">
<path d="M234.9 50.9h0M225.7 21.1h0M239.1 20.5h0M227.1 36.7h0M236.6 51.3h0M216.3 48.3h0M237.5 40h0M211.7 60.4h0M233.2 20.9h0M216.2 64h0M215.7 36.3h0M242 56.4h0M234.8 52.6h0M206.8 22.4h0M250.9 55.4h0M206.8 20.3h0M216.3 61.4h0M215.3 49.3h0M248.7 47.8h0M248.2 30.3h0M212.2 18.8h0M240.6 22.8h0M250.7 51.1h0M213.8 55.6h0M212.7 41.9h0M210 54.7h0M246.8 60.7h0M205.1 57.7h0M231.1 56.3h0M228.6 46.9h0M232.9 55.3h0M208.6 20.5h0M230.6 31.6h0M223.7 18.4h0M240 19.1h0M244 55.8h0M226.5 23.7h0M235.6 27.7h0M225.2 23.1h0M250.9 43.4h0M221.6 22.4h0M239.3 57.6h0M244.9 22.7h0M222.3 32.1h0M240.8 24.9h0M233.5 63.6h0M241.1 18.3h0M208.5 23.3h0M237.5 45.9h0M229.4 39.2h0M224.1 46.5h0M235.5 60.7h0M239.4 55.1h0M247.9 57h0M238.7 19.4h0M237 57.6h0M225.2 58.9h0M213.5 61.9h0M225.8 50.9h0M216.9 32h0M221.4 33.1h0M209.5 38.6h0M251.1 48.5h0M248.8 53.5h0M244.3 64.3h0M240.4 30.8h0M216.7 37.2h0M206 28.8h0M246.7 60.9h0M220.4 53.9h0M241.4 59.5h0M242.3 42.8h0M209.9 56.5h0M219.7 47.2h0M222.3 43h0M250.4 25.5h0M230 48.3h0M230.3 61.7h0M224.2 60.6h0M237.4 63.1h0M209.2 27.9h0M218.5 60.2h0M205.6 30.1h0M238.6 64.1h0M213.3 38.4h0M237.3 50.2h0M240.1 53.1h0M216.7 30h0M206.3 50.2h0M214.8 30.1h0M250.3 48h0M232.8 48.6h0M233.1 50.4h0M219.3 21h0M208.1 18.7h0M222 24.6h0M210.3 41h0M250.6 50h0M217.9 53.9h0M213.4 22.7h0M219.2 37.1h0M237.4 38.7h0M239.2 22.4h0M248.8 34h0M244.1 19.4h0M244 28.5h0M245.2 55.4h0M236.5 30.9h0M205.5 26.9h0M247.5 25.4h0M236 45.4h0M236.1 26.4h0M211.8 22.5h0M251.2 35.8h0M235.7 44.5h0M215.5 21h0M205.7 57.7h0M211.1 62.9h0M222.1 51.7h0M211.5 54.7h0" stroke="#8a4420" stroke-width="2.8" stroke-linecap="round" opacity="0.85"/>
<path d="M216.8 35.1h0M229.6 23.2h0M216.7 55.1h0M218.4 35.7h0M240.9 28.4h0M214.1 28.2h0M223.1 35h0M235.1 40h0M245.9 20.4h0M236.2 57h0M216 19.4h0M225.6 23.4h0M226.6 51.2h0M209.4 23.5h0M227.5 26.1h0M215.8 38.5h0M210.6 21.2h0M222 39.9h0M249 43.9h0M208.4 28.4h0M240 44.2h0M245.9 62.9h0M245.3 23.1h0M249.4 42.5h0M216.3 26h0M245.6 27.9h0M208.9 30.4h0M248.4 39.5h0M239.4 21.5h0M226.3 32.8h0M214.7 48.9h0M222 23.6h0M251.3 40.4h0M213.5 18.5h0M235.7 42h0M206.2 39.9h0M239.8 43h0M216 41.3h0M233.4 48.3h0M211.8 55.4h0M249.4 52.5h0M245.3 35.1h0M247.4 26.5h0M215.7 45.9h0M247.4 21.8h0M215.2 19.7h0M225.6 24.5h0M214 52.9h0M232.4 61.8h0M223.9 49.6h0M205.6 62.2h0M216 40.2h0M229 62.2h0M228.1 64.2h0M234.2 28.1h0M244.2 27.4h0M252 39.3h0M215.6 62.8h0M220.1 37h0M221.1 49.2h0M206.1 35.4h0M212.6 56.6h0M205 46.3h0M217.1 39.2h0M231.4 51.2h0M211.5 29.2h0M210.7 62.7h0M212 24.4h0M229.5 45.1h0M246.7 20.7h0M216 25.8h0M232.5 39.1h0M224.2 59.4h0M236.1 58.1h0M250 30.5h0M249.3 37h0M207.4 60.6h0M209.9 18.8h0M218.6 31.5h0M250.4 58.6h0M224.7 42.7h0M244.9 55.6h0M235.7 41.9h0M210.5 29.4h0M235.9 45.3h0M242.7 59.9h0M250.2 27h0M208.6 59.8h0M231.8 26.5h0M237.5 29.9h0M216.1 35.1h0M229.6 49.6h0M208.5 52.5h0M234.3 40h0M236.6 55.3h0M205.5 40.2h0M236.9 51h0M235.4 26.4h0M250 54.6h0M215.9 38.1h0M250 27.7h0M224.2 62.8h0M247.3 28.8h0M239.6 34.8h0M236.2 53.7h0M211 28.4h0M215.1 30.4h0M206.7 24.3h0M224.1 37.6h0M208.7 45.1h0M249.3 44.9h0M221.7 50.8h0M225.5 26.2h0M227.6 18.8h0M236.8 25.5h0M222.4 62.9h0M241 56.9h0M235.2 47.6h0M238.1 63h0M214.2 53.7h0" stroke="#f4e6da" stroke-width="2.6" stroke-linecap="round" opacity="0.9"/>
<path d="M219.1 29.9h0M243.6 46h0M244.9 58.8h0M232.7 27.2h0M205.7 42.9h0M239.1 30.7h0M208.3 18.2h0M213.1 50.4h0M205.2 28.7h0M217.5 51.1h0M251.4 18.9h0M210.4 61.6h0M250.6 24.9h0M220.8 42.3h0M220 37.5h0M227.5 30h0M207.6 21.9h0M212.6 22.3h0M234.3 50.5h0M217.4 54.9h0M239.3 33.9h0M228.1 26.8h0M248.7 44.1h0M207.4 25.2h0M237.6 36h0M238.7 28.7h0M242.5 55.4h0M209.4 45.3h0M214 51h0M242.8 54.9h0M215.9 22.3h0M236.2 44.3h0M211.5 27h0M232.4 23h0M234.8 29.2h0M217.2 37.7h0M230.1 51.8h0M206.5 51.8h0M215.4 31.6h0M235.1 50.2h0M233.9 60h0M214.6 32.5h0M236.1 30.2h0M212.4 28.5h0M241.3 56.5h0M238.7 62.7h0M242.3 32.4h0M219.8 51.6h0M207.6 46.4h0M209.2 20.3h0M229.1 25h0M248.8 58.9h0M226.7 27.2h0M210.6 41.6h0M229.5 34.9h0M238.7 42.7h0M241.4 22.9h0M208.3 36h0M227.7 29.8h0M236.4 28.3h0M220 40.2h0M238.5 53.9h0M222.5 38.8h0M248.6 61.5h0M234.1 22.9h0M226.4 47.7h0M218.1 19.7h0M251.1 60.4h0M211.1 39.7h0M234.1 32h0M208.2 53h0M241.2 38.4h0M209 36.4h0M209.4 62.9h0M207.4 31.4h0M241.1 24.3h0M210 21.3h0M212.7 42.8h0M244.2 25.9h0M213.2 53.6h0" stroke="#dca070" stroke-width="2.0" stroke-linecap="round" opacity="0.8"/>
<path d="M225 33.8h0M210.8 29.3h0M250.7 23.5h0M217.2 52.5h0M246.9 60.1h0M227.2 62.6h0M233.4 31.5h0M226.9 51.4h0M239.5 24h0M214.1 62.7h0M210 55.9h0M220.9 29.6h0M217 39.9h0M251.6 24.9h0M245.2 33h0M213.1 52.7h0M221.1 26.7h0M224.7 56.3h0M245.6 44.8h0M205.5 53.6h0M233.5 59.9h0M249.7 33.2h0M244.9 56.2h0M217.5 35h0M222.6 34.4h0M222.8 23.1h0M215.7 60.4h0M224.3 47.6h0M246.7 53.2h0M216.5 60.9h0M242.8 64.2h0M239.2 53.2h0M243.2 29.8h0M235.8 35.7h0M244.5 24.2h0M230.3 33.7h0M243.6 34.1h0M244.7 57.5h0M246.3 24.5h0M249.1 52.7h0M236.8 48.4h0M207.3 58.5h0M230.7 39.2h0M220.9 54.5h0M241.8 58.5h0M215.1 33.9h0M216.7 22.7h0M220.4 19.2h0M242.4 28.6h0M208.3 21.2h0M239.8 27.2h0M226.7 36.7h0M242.7 62.5h0M219.6 47.5h0M247.1 39.9h0M247.3 52.2h0M219.6 58.7h0M231.9 22.9h0M232.6 56.6h0M229.4 40.6h0M224.6 59h0M236.3 27.7h0M222 34.9h0M250.1 50.4h0M210.9 60.6h0M206.6 45.5h0M225.3 51.4h0M225.2 22.3h0M229.6 56.2h0M242.1 34.6h0" stroke="#6a3018" stroke-width="1.6" stroke-linecap="round" opacity="0.9"/>
<path d="M215.4 52.7h0M242.7 28.2h0M246.5 64.2h0M225.4 35.7h0M238.4 61.3h0M214.5 32.1h0M220.5 52.1h0M213.8 43.5h0M228.5 49.1h0M211.7 62.6h0M252 44.1h0M242.4 26.5h0M247.8 43.7h0M240.7 58.5h0M222 61.1h0M214.7 19.1h0M228.6 59.9h0M247.3 62.5h0M229 61.5h0M231.3 24.7h0M234.7 55.4h0M224.9 46.1h0M217.2 30.9h0M224.8 41.9h0M227 22.3h0M205.3 33.9h0M238.7 52.9h0M216.1 29.9h0M229.3 26.2h0M233.3 60.1h0M214.5 45.3h0M238.9 52.9h0M238.5 51.1h0M217.8 57.1h0M248.5 20.4h0M249.4 38.6h0M209.1 21.2h0M242.5 49.6h0M211.7 39.4h0M235 64.5h0M220.8 53.7h0M216.5 27.3h0M212.6 37.1h0M234.1 32.1h0M212.6 28.2h0M209 27h0M219.8 41.5h0M213.6 40.4h0M225.7 63.3h0M227.9 62h0M227.2 27.2h0M232.8 24.7h0M213 21.4h0M238 63.1h0M224 34.5h0M225 34.4h0M237.5 36.3h0M212.2 58.3h0M231.9 18.3h0M244.9 51.9h0M221.7 47.4h0M248.3 36.7h0M225.3 31.9h0M231 48.9h0M239.5 62.2h0M211.8 35h0M245 54.9h0M232.7 49.6h0M221 62h0M230.8 36.8h0" stroke="#ffffff" stroke-width="1.6" stroke-linecap="round" opacity="0.9"/>
</g>
</g>
<clipPath id="c10"><rect x="229.6" y="43" width="19.6" height="19.2"/></clipPath><g clip-path="url(#c10)">
<rect x="229.6" y="43" width="19.6" height="19.2" fill="#c08050" />
<g filter="url(#bl)">
<path d="M232.5 44.4h0M248 59h0M229.2 48.9h0M239 52.5h0M236.5 61h0M236.2 53.3h0M248.7 55.6h0M238.9 49.1h0M237 54.9h0M245.6 47.5h0M236.6 50.2h0M236.4 61.4h0M240.2 47.8h0" stroke="#8a4420" stroke-width="3.78" stroke-linecap="round" opacity="0.85"/>
<path d="M235.8 59.4h0M232.1 56.6h0M229.1 46.1h0M229.9 59.1h0M231.8 46.8h0M229.8 47.6h0M244.4 57.3h0M248.3 62.1h0M240.5 61.5h0M230.5 61.6h0M238 46.1h0M244.8 60.2h0M236.9 44h0" stroke="#f4e6da" stroke-width="3.5100000000000002" stroke-linecap="round" opacity="0.9"/>
<path d="M247.5 58h0M241.5 62.7h0M229.4 43.2h0M231.3 42.5h0M243.9 55.4h0M231 45.4h0M232.5 54.9h0M243.1 62.6h0M236.4 62.8h0" stroke="#dca070" stroke-width="2.7" stroke-linecap="round" opacity="0.8"/>
<path d="M238 50.3h0M234.1 46.9h0M249.7 63.1h0M243.8 45.7h0M232.5 45.2h0M236.2 57.6h0M229.9 53.2h0" stroke="#6a3018" stroke-width="2.16" stroke-linecap="round" opacity="0.9"/>
<path d="M243.3 42.7h0M238.1 58.8h0M241 51.6h0M247.6 54.7h0M235.9 50.4h0M249 60.2h0M248.4 53.9h0" stroke="#ffffff" stroke-width="2.16" stroke-linecap="round" opacity="0.9"/>
</g>
</g>
<rect x="230.6" y="44" width="17.6" height="17.2" fill="none" stroke="#000" stroke-width="2.0" />
<rect x="206.9" y="19.9" width="43.1" height="42.7" fill="none" stroke="#000" stroke-width="1.9" />
<rect x="209.3" y="21.4" width="39.3" height="6.1" fill="#fff" stroke="#444" stroke-width="0.5" />
<text x="229" y="26.5" font-size="6.0" font-weight="bold" text-anchor="middle" fill="#1a1a1a" textLength="37.5" lengthAdjust="spacingAndGlyphs" >CD279<tspan dy="-2.1" font-size="3.6">+</tspan><tspan dy="2.1"> </tspan>FL T cells</text>
<clipPath id="c11"><rect x="12.4" y="66.3" width="45" height="45"/></clipPath><g clip-path="url(#c11)">
<rect x="12.4" y="66.3" width="45" height="45" fill="#dad6d2" />
<g filter="url(#bl)">
<path d="M18.1 73.5h0M29.4 97.8h0M11.6 103h0M48.3 89.5h0M11.7 102.8h0M30.9 96.8h0M38.2 99.5h0M30.6 110.4h0M56.3 109h0M40.3 80.2h0M29.1 77.9h0M53.9 102.5h0M48.4 103.9h0M58 97.6h0M26.4 100.9h0M23.7 94h0M18.8 105.6h0M34.4 78.2h0M54.8 69.2h0M55.1 100.9h0M18.4 101.1h0M38.3 107.9h0M39 85.4h0M55.3 69.4h0M47.9 70.1h0M24.4 70.6h0M52.3 86.1h0M45.5 77.4h0M45.7 95.8h0M16 88.5h0M45.3 75.4h0M42.2 78.4h0M28.8 108.5h0M55.7 112.2h0M31.5 92.2h0M49.4 101h0M32.8 105.9h0M30.3 110h0M33.6 70.9h0M46.6 72.1h0M43.3 67.8h0M57.8 90.7h0M46.2 71.5h0M41.3 83h0M23.1 103.6h0M13 87.8h0M15.5 105.3h0M53.4 66.9h0M33.2 87.3h0M45.2 99.6h0M27.5 109.1h0M20.1 71.7h0M49.7 70.9h0M20.1 88.8h0M27.2 73h0M55.1 87.6h0M48.3 77.1h0M54.3 75.7h0M54 94.1h0M57 101.5h0M41 90.3h0M51.6 86.1h0M16 108.2h0M49.3 97.4h0M46.4 76.2h0M33.2 104h0M56.6 108.7h0M18.9 97.4h0M37.4 84.3h0M19.3 71.7h0M33.5 88.5h0M24 82.6h0M37.4 101.1h0M39.1 72.9h0M53 82.6h0M56.5 111.4h0M18 92.7h0M56.8 83.4h0M37.1 80.1h0M12.7 74.9h0M17.2 78.7h0M41 91.8h0M56 97.5h0M28.4 109.9h0M41.2 90.8h0M51.9 96.8h0M28.3 93.7h0M25.5 110.9h0M22.9 111h0M14.4 65.8h0M37.4 75h0M35.3 70.9h0M50.7 96.7h0M43.6 108.9h0M58 97.2h0M44.9 65.4h0M13.7 85.3h0M56.9 80h0M38.1 65.7h0M30.9 107.7h0M39.1 104h0" stroke="#c8b8a8" stroke-width="2.4" stroke-linecap="round" opacity="0.8"/>
<path d="M12 74.8h0M19.8 104.4h0M16.2 109.1h0M24 106.7h0M35.6 80.5h0M56.8 84.3h0M44.2 68.5h0M50.4 111.4h0M16.6 100.4h0M24.1 72.3h0M28.5 96.4h0M56.2 112h0M58.1 94.6h0M42.1 72.9h0M45.5 91.2h0M28.3 107.6h0M23.4 72h0M18.8 72.3h0M39.1 102.9h0M18.9 88.9h0M38.4 91.6h0M30.8 90.8h0M12.1 68h0M31.3 76.4h0M47 76.7h0M50.1 76.6h0M15.8 87.7h0M29.6 81.1h0M47.4 75.7h0M42.9 104.5h0M32.7 88.9h0M54.8 93.7h0M19.9 68.6h0M15.3 80.9h0M15.6 95.8h0M31.3 79.8h0M35.5 109.3h0M22.9 72.6h0M25.8 80.5h0M54.2 98.5h0M31.6 73.1h0M13.5 71.1h0M51.2 95.8h0M18.8 94.7h0M14.1 89.1h0M27.2 70.1h0M46.3 99h0M35.4 73.2h0M42.9 85.7h0M42.5 69.6h0M53.8 65.5h0M21.9 84h0M20.7 69.4h0M43.7 112h0M27.1 77.8h0M42.9 75.8h0M30.2 97.7h0M31.6 72.6h0M14.7 90.8h0M58 108.5h0M16.1 88.9h0M34.4 74.4h0M42.9 88.6h0M49.4 79h0M55.3 103.6h0M33.7 71.9h0M34.1 71.3h0M43.6 98.1h0M38.6 111.2h0M13.5 98.9h0M49 70.6h0M26.5 67.8h0M38.8 99.3h0M27.8 98h0M28.6 98.8h0M24.4 111.3h0M32 65.5h0M15.7 99.4h0M52 95.2h0M18.7 106.3h0M45.1 70.7h0M29.3 96.9h0M11.6 67.3h0M28 106.4h0M58.2 80.3h0M54.1 102.2h0M52.1 92.9h0M57 95.6h0M55.9 91.9h0M20.6 89.7h0M34.1 81.2h0M29 89.3h0M39 75.8h0M24.4 88.9h0M35.1 85h0M42.6 74h0M36.4 78.3h0M47.6 98.4h0M48.1 89.6h0M23.1 108.8h0M35.4 82.9h0" stroke="#eef0f4" stroke-width="2.4" stroke-linecap="round" opacity="0.85"/>
<path d="M25 84.2h0M44.7 103.8h0M34.1 99.7h0M21.4 86.5h0M28.2 79.7h0M28.3 100.8h0M45.9 75h0M22.4 102.2h0M42.2 97.1h0M41.3 97.9h0M24.2 68.2h0M28.3 66.8h0M56.6 90h0M42.9 110.7h0M49.2 76.1h0M27.2 70.4h0M48.8 99.9h0M34.3 82.7h0M24.1 88.2h0M44.9 107.4h0M51.3 106.1h0M32 85.1h0M26.2 111.1h0M20 72.7h0M24.6 108.6h0M51.5 80.9h0M51.4 107.2h0M31.5 74.3h0M47.7 82.9h0M17 107.7h0M32.1 84h0M39.4 77.3h0M12.4 83.6h0M29.2 65.8h0M28.9 101.1h0M27 97.2h0M40.8 74.2h0M12.4 97h0M40.1 79.1h0M20.8 105.5h0M54.1 76.3h0M38.9 92.3h0M26.5 67h0M26.7 95.6h0M39.7 89.3h0M17.2 75.3h0M26 84.9h0M28.5 107.7h0M16.9 111.7h0M22.7 105.6h0M22.8 92.9h0M29.1 67.1h0M48.8 103.4h0M24.1 101.8h0M33.9 111.7h0M14 83.2h0M22.1 94.7h0M48 104.9h0M37.2 83.5h0M49 70.2h0M23.6 100.7h0M32.1 112h0M15.7 87h0M21.4 65.4h0M15.8 69.6h0M28.7 85.6h0M35.3 78.9h0M44.4 89.6h0M57.5 73.3h0M35.4 88.5h0M28.9 105.8h0M21.2 106.5h0M28.2 81.1h0M40.3 91.8h0M24.7 69.3h0M56.3 82.7h0M16.8 96.2h0M36.4 80.7h0M26.8 105h0M27.3 84.9h0M56.4 82.3h0" stroke="#b8c0d8" stroke-width="1.8" stroke-linecap="round" opacity="0.8"/>
<path d="M30.3 72.9h0M42.5 96.5h0M32.4 84.4h0M22.3 102.4h0M32.9 104.4h0M29 99.8h0M12.8 75.6h0M56.5 97.4h0M43.2 88.7h0M33.6 74.6h0M19.5 95.6h0M44 77.5h0M41.7 71.7h0M40.2 73.4h0M35.3 80.1h0M37.3 71.6h0M34.1 94.3h0M17.7 79.8h0M43.3 91h0M40.4 102h0M38.3 75.7h0M32.2 104.3h0M38 100.7h0M28.5 86.4h0M57 103.9h0M42.1 70.3h0M40.2 66.9h0M55.3 111h0M45.6 77.9h0M51.2 73.6h0M50.3 89.8h0M12.1 107.1h0M32.1 104.3h0M43.8 90.3h0M51.9 74.8h0M53.6 81.2h0M12.6 81.1h0M14.5 68.7h0M40.7 71h0M18.9 79.1h0M24.5 108.5h0M54 106.2h0M57.9 86h0M48.8 78.5h0M54.9 103.4h0M45.8 76h0M15.7 108.8h0M37.4 94.1h0M51.9 72h0M44.3 87.1h0M48.3 86.7h0M20.6 110.2h0M24.6 100.3h0M50.5 76.9h0M44.1 83.9h0M21.9 75.5h0M56.2 82.6h0M35.4 88.9h0M12.6 100.7h0M46.4 106.5h0" stroke="#d8c0a4" stroke-width="2.0" stroke-linecap="round" opacity="0.8"/>
<path d="M28.2 75.2h0M27.7 99.7h0M42.3 84.4h0M36.1 72.5h0M54.6 87.5h0M35.2 102.3h0M20.7 99.3h0M28 103.5h0M15.8 78.3h0M41.3 88h0M29.1 92.5h0M21.6 85.9h0M11.5 102.8h0M23.3 104.3h0M37.4 93.6h0M40.8 71.2h0M47.9 79h0M52 102.3h0M43.3 103.6h0M31.9 96.9h0M56.2 74.2h0M16.1 84.7h0M35.3 72.3h0M21.8 106h0M29.6 72.3h0M20 92.4h0M20.3 87.6h0M36.7 86h0M35.1 104.6h0M12.2 109h0M20.8 67.1h0M47.5 92.1h0M36.7 75.5h0M48.1 79.7h0M45.6 76h0M38.3 95.8h0M28.9 87.9h0M14.5 95.5h0M43.9 72.5h0M37.3 99.8h0M16.2 104.7h0M52.3 67.7h0M23.1 69.3h0M23.3 69.4h0M34.4 77.1h0M25.5 87h0M28.9 102.4h0M45.4 70.7h0M21.9 65.7h0M26.9 70.4h0" stroke="#ffffff" stroke-width="1.6" stroke-linecap="round" opacity="0.9"/>
</g>
</g>
<rect x="13.3" y="67.2" width="43.1" height="43.1" fill="none" stroke="#000" stroke-width="1.9" />
<rect x="16" y="69" width="37.8" height="6" fill="#fff" stroke="#444" stroke-width="0.5" />
<text x="34.9" y="74" font-size="6.0" font-weight="bold" text-anchor="middle" fill="#1a1a1a" textLength="36" lengthAdjust="spacingAndGlyphs" >CD200<tspan dy="-2.1" font-size="3.6">+</tspan><tspan dy="2.1"> </tspan>B cells</text>
<rect x="23.4" y="76.1" width="22.8" height="6" fill="#fff" stroke="#444" stroke-width="0.5" />
<text x="34.8" y="81.1" font-size="6.0" font-weight="bold" text-anchor="middle" fill="#1a1a1a" textLength="21" lengthAdjust="spacingAndGlyphs" >Reactive</text>
<clipPath id="c12"><rect x="61.2" y="66.3" width="45" height="45"/></clipPath><g clip-path="url(#c12)">
<rect x="61.2" y="66.3" width="45" height="45" fill="#bab2a8" />
<g filter="url(#bl)">
<path d="M93 102h0M107 75.1h0M61.9 100.9h0M79.6 109.1h0M78.6 80h0M63.6 109.9h0M84.3 86h0M80.7 101.4h0M99.2 87.7h0M68.6 84.4h0M102.1 84.5h0M91.3 91.6h0M81.9 92.3h0M71.7 91.5h0M100.8 69.1h0M77.5 106.7h0M106.2 65.9h0M89.7 95h0M99.8 87.4h0M66.4 79.4h0M93.7 99.5h0M69.8 95.5h0M91.1 96.2h0M61.2 86.1h0M75.5 93.4h0M76 71.3h0M91.7 78.8h0M97.4 79.7h0M85.9 103.3h0M65.6 99.7h0M63.4 109.3h0M61.4 99.3h0M77.5 73.7h0M78.8 88.9h0M79.7 71.1h0M84.8 79.4h0M105.7 83.3h0M80.7 76h0M105.7 80.4h0M90.6 104.4h0M78.7 100.8h0M73.3 70.4h0M62.2 86.4h0M101.3 74.8h0M80.9 101.2h0M73.2 72.5h0M84.6 85.3h0M104.3 107.5h0M71.4 91.7h0M79.8 66.9h0M81.1 108.3h0M74.4 92.8h0M93.6 68.3h0M103.6 70.4h0M74.4 98.9h0M61.1 82.9h0M66.2 87.5h0M60.9 72.4h0M70.7 69.1h0M64.5 74.4h0M84.5 71.7h0M98.8 84.9h0M72 76.6h0M99.7 67.5h0M95.1 69.9h0M104.6 84.5h0M88.3 105.9h0M64.9 68.3h0M92.8 92.9h0M94.1 78.4h0M83.6 74.1h0M80.7 78.5h0M87.7 79.4h0M73.1 95.5h0M64.2 103h0M83.5 76.1h0M65.6 89.2h0M83.9 99.1h0M77.8 84.7h0M102.2 78.2h0M106.3 107.2h0" stroke="#8c8ca0" stroke-width="2.0" stroke-linecap="round" opacity="0.8"/>
<path d="M106.7 109.6h0M72.3 103.6h0M89 74.9h0M107.1 95.7h0M98.3 91.5h0M63.9 105.9h0M68.4 77.5h0M89.2 74.4h0M81.9 98.8h0M64.7 96.4h0M65.1 87.7h0M90.7 97.6h0M62.2 74.3h0M105.3 83.7h0M80.2 82.9h0M92.9 100.1h0M90.8 84.2h0M87 89.5h0M69 109.9h0M105.5 101.8h0M106.9 87.2h0M99.6 76.6h0M95.1 98.9h0M104.3 104.5h0M101.5 77.9h0M97.2 87.6h0M74.9 82.6h0M97.7 104.9h0M99.9 96.8h0M68.2 72.6h0M86.9 75.3h0M76 70.1h0M67.5 99h0M70.7 105.2h0M75.7 105.2h0M74.4 77.9h0M78.8 65.9h0M80.7 83.2h0M60.8 105.8h0M77.8 65.3h0M105.3 76h0M72.1 66.4h0M64.9 98.7h0M87.6 89h0M71.8 78.8h0M105.8 82.8h0M106.7 107h0M66.1 105.2h0M61.2 98.7h0M98.3 98h0M86 103.5h0M67.5 90.7h0M72.7 84.1h0M69.2 98.6h0M87.1 101.9h0M89.7 93.5h0M103.5 103.5h0M86.8 80.6h0M103.8 82.7h0M65 81h0M93.4 109.1h0M90.5 96.4h0M104.3 101.9h0M81.1 87h0M95.9 80.2h0M65.4 94.4h0M98.2 77h0M92.3 107.3h0M66.2 71.7h0M83.4 81h0M104.8 112.1h0M81.1 102.6h0M89.9 73.5h0M105.9 73.5h0M63.8 86.6h0M61 87.9h0M79.6 110.2h0M79.6 105.2h0M96.8 92.9h0M71.4 79.6h0M83.3 83.9h0M90.5 89.1h0M75.4 93.8h0M107 74.8h0M76 65.9h0M64.6 67.9h0M80.1 104.6h0M93 110.7h0M99.5 92.8h0M87.5 65.9h0M78.2 77.6h0M89.4 68.4h0M85.7 83h0M83.3 84.3h0M65 99.7h0M97.8 93.4h0M65.6 93.5h0M101.1 111.7h0M95.8 67.5h0M101.5 96.6h0M73.2 108.5h0M99 107.4h0M71.8 92.4h0M78 79.2h0M96 94.3h0M75.8 90.8h0M103.8 91.9h0M103.1 91.9h0M106.8 66.7h0M81.8 91.3h0M94.4 110.8h0" stroke="#d8d0c6" stroke-width="2.6" stroke-linecap="round" opacity="0.85"/>
<path d="M89.5 87.8h0M90 90.4h0M93.3 109.8h0M60.9 80.4h0M101.4 68.1h0M97.3 66.8h0M90.7 102.9h0M71.4 83.2h0M70.8 98.4h0M85.1 93.8h0M75.5 92.9h0M105.1 101.9h0M104.9 76.9h0M84.5 83.4h0M76.5 103.1h0M68.4 91.6h0M96.6 109.3h0M61.1 78h0M83.4 109.3h0M67.9 104.8h0M78.9 91h0M103.8 68.3h0M75.7 72.6h0M66.5 79.6h0M93.1 92.6h0M65.9 103h0M84 72h0M98.8 103.9h0M70.4 109.5h0M98.3 76.1h0M60.2 106.1h0M99 69.9h0M96.2 101.6h0M90 104.4h0M106.5 80.7h0M99.4 108.6h0M74.9 97.4h0M92.4 105.2h0M86.8 78.3h0M72 90.8h0M66.6 105.7h0M102 76.7h0M93 96.9h0M65.9 101.9h0M96.2 79.7h0M64.8 78.5h0M96.5 87.2h0M98.5 72.8h0M65.2 81.7h0M101.6 72.9h0M63.7 100.7h0M64.5 96.7h0M64.1 76.9h0M91.4 106.4h0M79.4 86.4h0M61.7 81.3h0M71.6 102.4h0M93.8 102.2h0M85.2 98.2h0M66.2 83.4h0" stroke="#5a5a7c" stroke-width="1.6" stroke-linecap="round" opacity="0.85"/>
<path d="M74 78.6h0M94.9 75.4h0M75.5 78.6h0M100.8 95.3h0M82.8 83.2h0M103.5 109.5h0M81.3 91.9h0M100.7 77.4h0M72.4 70.1h0M83.8 101.4h0M67.6 85.6h0M106.8 87.9h0M78.2 104.8h0M102.1 83h0M66 95.2h0M95 108.7h0M91.2 79.8h0M84.4 78.8h0M81.2 87.3h0M103.1 107.9h0M103.7 87.8h0M105.5 71.8h0M103.5 95.4h0M101.2 84.7h0M106.8 66.5h0M100 103.8h0M77.8 104.2h0M70.2 100.7h0M82.2 84.6h0M69.4 102.9h0M94.6 69.5h0M106.2 75.7h0M77.8 84.8h0M87.3 107.1h0M104.6 95.1h0M77.4 70.3h0M63.4 89.7h0M87.6 86.3h0M106.4 84.7h0M76.7 85h0M68.3 109.4h0M88 90.8h0M80.2 77.1h0M75 88.5h0M81.2 111.3h0M86.7 75h0M62.7 72.8h0M76.5 102.1h0M102 76.4h0M96.9 86.1h0M85.5 90.3h0M62.2 68.4h0M91.6 97.7h0M78.1 108.5h0M98.7 79.5h0M63.3 91.3h0M91 75.8h0M62.3 88.2h0M61.8 99.9h0M89.6 78.4h0M81.1 76.2h0M68.9 73.8h0M98.5 86.6h0M93.8 81.6h0M98.1 93.3h0M90.9 83.8h0M86.6 74.3h0M106 96.9h0M85.2 95.3h0M64.9 81h0M71 104.9h0M60.8 86.2h0M101 102.1h0M94 79.5h0M71.1 98.4h0M74.2 99.3h0M76.6 101h0M87.1 103.6h0M106.5 83.1h0M106.6 65.8h0M101.4 66.7h0" stroke="#c8b49c" stroke-width="2.2" stroke-linecap="round" opacity="0.8"/>
<path d="M85.8 83.5h0M96.4 80.1h0M70 102.2h0M86.1 100.8h0M83.2 67h0M96.4 75.6h0M82.4 65.3h0M72.4 96.6h0M96.1 95.2h0M81 99.7h0M91.6 75h0M85.4 93.4h0M94.5 74.6h0M74.8 81.4h0M64.7 81.7h0M94.5 92.4h0M68.3 99.7h0M65.7 100.6h0M67.1 69.8h0M72 89.5h0M72.9 106.9h0M104.3 78.6h0M95.4 98h0M86.6 77.3h0M104.8 110.3h0M60.8 80.8h0M75.3 74.6h0M80.4 107.5h0M61.3 104.6h0M74.7 65.9h0M102.5 78.1h0M70.2 70.8h0M77.5 70.9h0M68.6 77.1h0M87.4 86.3h0M74.5 90h0M96.6 99.3h0M76.3 108.4h0M97.4 91.7h0M82.6 80.8h0M66.5 106.9h0M88.8 69.9h0M103.7 107h0M61.8 98.2h0M71.4 90.5h0M99.4 81.8h0M83.6 96.6h0M69.2 94.7h0M80.2 111.5h0M69 98.7h0" stroke="#ebe6e0" stroke-width="1.8" stroke-linecap="round" opacity="0.9"/>
</g>
</g>
<rect x="62.2" y="67.2" width="43.1" height="43.1" fill="none" stroke="#000" stroke-width="1.9" />
<rect x="64.8" y="69" width="37.8" height="6" fill="#fff" stroke="#444" stroke-width="0.5" />
<text x="83.7" y="74" font-size="6.0" font-weight="bold" text-anchor="middle" fill="#1a1a1a" textLength="36" lengthAdjust="spacingAndGlyphs" >CD274<tspan dy="-2.1" font-size="3.6">+</tspan><tspan dy="2.1"> </tspan>B cells</text>
<rect x="72.2" y="76.1" width="22.8" height="6" fill="#fff" stroke="#444" stroke-width="0.5" />
<text x="83.6" y="81.1" font-size="6.0" font-weight="bold" text-anchor="middle" fill="#1a1a1a" textLength="21" lengthAdjust="spacingAndGlyphs" >Reactive</text>
<clipPath id="c13"><rect x="109.2" y="66.3" width="45" height="45"/></clipPath><g clip-path="url(#c13)">
<rect x="109.2" y="66.3" width="45" height="45" fill="#ded4ca" />
<g filter="url(#bl)">
<path d="M110.1 78.2h0M113.7 72.3h0M133 73.5h0M145.6 69.8h0M137.5 105.8h0M114.1 75.5h0M144.2 87.4h0M152 81.2h0M126.9 110.3h0M124.4 110.7h0M150.1 74.7h0M133.9 109.5h0M113.7 105.2h0M144.6 100.5h0M136.4 70h0M153.2 70.1h0M145 99.3h0M123.1 97.5h0M127.5 100.6h0M110.2 109.2h0M126.3 103.1h0M130.4 103.5h0M122.4 90.9h0M109.4 88.3h0M111.9 105.7h0M140 85.3h0M154 109.8h0M153.2 69.2h0M141.3 99.5h0M136.7 66h0M151.6 85.9h0M136.2 103.6h0M121.1 66.7h0M151.6 78h0M110.1 71.7h0M155 100.1h0M118.1 72.2h0M150.4 96.5h0M135.6 71.5h0M127.6 109.8h0M108.4 85h0M110.9 112.2h0M113.1 110.1h0M147.7 99.7h0M110.2 98h0M131.4 88.4h0M115 89.4h0M145.9 71.5h0M149.4 85h0M120.7 76.5h0M129.8 95.7h0M135 107.1h0M132.2 89.4h0M154.7 75.4h0M109 80.7h0M122.9 71.1h0M127.9 66.9h0M151.5 88.1h0M149.5 98.1h0M142.5 101h0M122.4 99.6h0M117.9 91.4h0M136.2 101.8h0M116.1 81.5h0M146.9 103.1h0M154.2 70.9h0M118.1 70.3h0M142.2 100.3h0M138.7 101.9h0M132.4 91.7h0M151.5 95.8h0M139 93h0M131.4 100.9h0M135.1 71.4h0M128.2 85.1h0M128.5 91.7h0M125.2 83.7h0M128.3 82.8h0M153.9 69.5h0M109 99.2h0M126.8 86.4h0M136 82.5h0M119.4 66h0M149.3 109.4h0M121.6 87.2h0M123.4 68h0M150.2 104.6h0M119.5 77.3h0M141 102.7h0M130.3 83.5h0M119.2 102.8h0" stroke="#d0b89e" stroke-width="2.4" stroke-linecap="round" opacity="0.8"/>
<path d="M148.8 105.6h0M113.6 93.2h0M154.5 98.9h0M129.8 72.1h0M111 99.7h0M111.4 103.3h0M139.5 87.6h0M150.1 109.1h0M137.2 70h0M135.9 85.1h0M119.9 108.9h0M142.5 71h0M119 81.4h0M135.1 80.6h0M128.9 103.5h0M116.7 99.1h0M123.7 109.7h0M152.9 80.7h0M136.7 70.5h0M127.5 94.6h0M138.2 81.4h0M109.8 71.1h0M134.5 73.3h0M122.6 94.4h0M150.5 89.5h0M120.2 92.8h0M121.2 102.1h0M115.5 77.6h0M128.8 108h0M116 74.3h0M114.4 75.3h0M123.8 83.9h0M143.9 84.3h0M130.5 83.9h0M144.6 107.7h0M128.2 108.6h0M120 111.3h0M132.9 97.4h0M126.1 78.1h0M114.6 106.9h0M125.1 98.1h0M129.9 90.1h0M117.9 73.6h0M124 97.3h0M133.7 65.4h0M141.6 85.7h0M111.4 77.5h0M118.1 104h0M134.1 80.7h0M119.9 79h0M121.4 81.6h0M145.4 102.4h0M141 106.9h0M138.9 70.6h0M110.3 73h0M120.3 90.1h0M146.8 92.8h0M128.4 76.7h0M154.3 100.7h0M124.2 67.5h0M154.3 77.3h0M148 70.8h0M138.9 82.1h0M150 79.3h0M112.9 74.6h0M146.1 111.3h0M138.4 97.3h0M121.5 78.1h0M112.3 111.6h0M110.2 94.1h0M124.6 74.1h0M128.7 109h0M119.8 73h0M137.8 96.2h0M132.2 73.7h0M149.3 70.5h0M116.4 76.7h0M132.3 87.7h0M134.2 99.5h0M150.2 87.3h0M110.2 104.4h0M109.1 80.2h0M114.9 93.6h0M144.9 71.4h0M122 105.3h0M140.6 70.4h0M140.5 102.6h0M127.4 72.6h0M139.2 80.3h0M114.5 73h0M127.1 71.3h0" stroke="#c8c6d6" stroke-width="2.0" stroke-linecap="round" opacity="0.8"/>
<path d="M126.3 91.2h0M134.1 84.3h0M145.8 69.4h0M123.7 109.2h0M148.8 108.6h0M144.2 90.5h0M145.2 92.2h0M113.7 77.3h0M112.8 106.4h0M123.3 84.5h0M133.5 70h0M141.4 102.7h0M145.6 106.7h0M123.1 72.1h0M144 97.9h0M125.7 81.4h0M115.4 104.4h0M129.8 103.5h0M124.2 80.4h0M132.3 100.3h0M149.7 81.9h0M140.8 84.3h0M148.7 101h0M134.3 82.3h0M121.1 106.9h0M145.8 79.6h0M112.2 74.5h0M153.5 67.1h0M146.3 90.2h0M134.2 90.7h0M127.5 91.5h0M112.4 108.5h0M113 71.8h0M139.8 95.4h0M146.1 97.9h0M151.9 67.7h0M108.7 76.4h0M144.8 72.5h0M133.2 101.5h0M115.5 90.1h0M150.5 100.4h0M126.9 87.8h0M121.3 110.4h0M145 97.3h0M122.5 99.7h0M131.1 102.8h0M125.3 106.7h0M140.4 86.5h0M134.6 103.1h0M133.1 110.4h0M108.5 107.5h0M141.8 88.3h0M148.1 72.3h0M124.1 98.9h0M146.9 82.8h0M154.9 95.8h0M110.3 71.1h0M111.8 92.1h0M123.3 77.6h0M129.2 69h0M150.9 104.7h0M134.5 86.2h0M122.7 93.6h0M124.5 111.1h0M153.1 99.5h0M147 68.8h0M114 81.5h0M114.1 85.2h0M154.5 104.5h0M153.3 75.7h0M118.6 66.4h0M121.1 68h0M133 79.4h0M139.9 91.7h0M136.3 79.4h0M142.7 97.7h0M141.8 87.4h0M130 78.7h0M110.1 87.2h0M137.2 74h0M148.6 106.6h0M148.3 103.7h0M131.2 73.6h0M120.9 100h0M154.5 70.5h0M108.5 81.9h0M124.6 93.4h0M113.5 105h0M124.1 108h0M123.7 79.7h0M116.5 110.7h0M135.9 104.1h0M111.2 90.8h0M142.7 111.5h0M152.2 70.2h0M125.7 112.2h0M133.3 110.3h0M120.1 66.5h0M152.7 77.7h0M134.6 82.2h0M135.3 109.2h0" stroke="#f2eeea" stroke-width="2.4" stroke-linecap="round" opacity="0.85"/>
<path d="M152.7 106.5h0M120.3 103.9h0M109.1 84.9h0M152.6 77.3h0M125.5 92.6h0M119.3 98.6h0M138.9 69.8h0M151.4 68.7h0M140.9 81.7h0M114.9 69h0M155.1 102.9h0M129.8 102.6h0M153.8 108.8h0M133.2 78.2h0M132.6 111.4h0M142.5 96.8h0M147.8 84.5h0M134.5 105.2h0M117.6 105.7h0M109.4 90.5h0M135.2 72.2h0M151.5 86h0M116.9 84.6h0M136 85.5h0M108.3 69.6h0M141.7 71.5h0M120.2 103.3h0M148.7 106.7h0M116.4 65.5h0M143.6 93.4h0M125.3 66.2h0M128.5 76.4h0M135.8 111.4h0M118 68.8h0M140.8 70.4h0M118.7 85.9h0M154.5 80.5h0M123 87.6h0M115.8 84.2h0M141.1 80.5h0M145.6 74h0M113 94.8h0M129.5 108.5h0M113.1 100.4h0M139.7 82.7h0M114.2 94.1h0M143.8 87.5h0M130.4 97.5h0M136.8 85.2h0M116.9 87.1h0M134 107.4h0M155 91.5h0M123.6 75.8h0M137.8 100h0M119.8 97.7h0M155.2 83.7h0M152.3 85.8h0M138.9 106h0M117.8 81.5h0M154.5 68.4h0" stroke="#d4c2b0" stroke-width="2.0" stroke-linecap="round" opacity="0.8"/>
<path d="M122.6 87.7h0M143.2 94.9h0M151.9 96.8h0M108.3 68.7h0M109.9 85.6h0M109.5 90h0M137.9 74.8h0M148.4 84.7h0M153.3 82.1h0M137.3 90.8h0M120.6 102h0M108.4 77h0M123.3 106.8h0M131.7 67h0M122.3 93.9h0M146.2 70.4h0M144.8 83.7h0M132.8 85.1h0M128.8 111.9h0M151.4 108.4h0M142.8 98.2h0M114.9 67h0M147.3 96.9h0M137.8 80h0M120.8 108.6h0M133.2 66.2h0M124.2 81.7h0M111.4 111.3h0M150.6 103.6h0M108.4 84.9h0M113.4 99.4h0M146.2 102.4h0M145.4 71h0M108.8 69.7h0M147.8 104.3h0M132.5 76.3h0M148.5 71h0M123.5 65.4h0M154.4 84.8h0M144.4 103h0" stroke="#ffffff" stroke-width="1.6" stroke-linecap="round" opacity="0.9"/>
</g>
</g>
<rect x="110.2" y="67.2" width="43.1" height="43.1" fill="none" stroke="#000" stroke-width="1.9" />
<rect x="112.8" y="69" width="37.8" height="6" fill="#fff" stroke="#444" stroke-width="0.5" />
<text x="131.7" y="74" font-size="6.0" font-weight="bold" text-anchor="middle" fill="#1a1a1a" textLength="36" lengthAdjust="spacingAndGlyphs" >CD276<tspan dy="-2.1" font-size="3.6">+</tspan><tspan dy="2.1"> </tspan>B cells</text>
<rect x="120.2" y="76.1" width="22.8" height="6" fill="#fff" stroke="#444" stroke-width="0.5" />
<text x="131.6" y="81.1" font-size="6.0" font-weight="bold" text-anchor="middle" fill="#1a1a1a" textLength="21" lengthAdjust="spacingAndGlyphs" >Reactive</text>
<clipPath id="c14"><rect x="157.6" y="66.3" width="45" height="45"/></clipPath><g clip-path="url(#c14)">
<rect x="157.6" y="66.3" width="45" height="45" fill="#c8c6cc" />
<g filter="url(#bl)">
<path d="M183.9 111.7h0M193 108.9h0M201.9 69.2h0M191.9 75.9h0M171.9 81.4h0M203.1 68.1h0M177 71.3h0M203.5 88.6h0M189.6 89.7h0M192.7 81.1h0M176 100.3h0M189.6 107h0M171.1 105.2h0M191.2 92.2h0M175.8 91.9h0M160.2 69.9h0M171.2 71.1h0M158.9 99h0M191 94.2h0M166.3 99.2h0M195.4 94.4h0M167.3 91.8h0M175.2 77.9h0M163.6 105.9h0M186.3 109.1h0M164.7 77.7h0M180.5 68.1h0M170.8 90.7h0M179.2 108.1h0M183.7 95.3h0M184.1 102.2h0M173.8 65.3h0M202.7 102.5h0M162.6 70.6h0M167 96.2h0M162.8 66.2h0M179.8 65.6h0M168.8 83.3h0M166.2 65.4h0M168.8 76.8h0M171.8 84.8h0M173.5 80.5h0M157.5 104.7h0M191.3 88.5h0M156.7 76.3h0M198.9 86.8h0M166.3 103.8h0M198.5 71h0M180.1 91.7h0M162.1 80.3h0" stroke="#b08462" stroke-width="4.0" stroke-linecap="round" opacity="0.7"/>
<path d="M185.7 97h0M186.1 94.5h0M174.4 68.5h0M157.4 104.7h0M197.2 107.8h0M160.2 101.5h0M164.7 81.6h0M166 105.7h0M195.1 104.4h0M174.5 109.3h0M168.8 92.3h0M188.2 76.3h0M174.5 70h0M194 74h0M163 78.4h0M186.7 95.2h0M181.3 105.4h0M192 75.2h0M181.7 73.3h0M168 72.2h0M160.2 81.8h0M198.3 96.1h0M160.7 75.6h0M184.4 90.2h0M157.9 69.7h0M183.2 93.6h0M160.4 101.6h0M167.9 93h0M181.5 81.3h0M201.1 83.9h0M176.5 90.7h0M196.1 111.7h0M192.8 90.6h0M190.3 95.3h0M201.7 110.9h0M192.3 75.5h0M183.3 86h0M167.5 102h0M167 98.7h0M179.6 85.4h0M189.8 99.4h0M203.1 112.2h0M194.2 77.7h0M188.1 88.6h0M200.8 86.3h0M173.4 66.5h0M178.7 90.3h0M171.1 70.2h0M179.3 68.6h0M164.7 86.2h0M173 88.8h0M181.5 83.6h0M162.9 66.2h0M182.9 110.9h0M169.8 81.8h0M171.6 100.2h0M179.8 102.7h0M156.8 71.5h0M166.3 82.6h0M175.4 83.4h0M202 85.9h0M183.7 110.6h0M186.8 93.2h0M195.5 81h0M158.3 110.3h0M181.7 92.7h0M159.7 100.3h0M174.2 95.5h0M169.9 108.5h0M173.9 78.3h0M198.6 75.8h0M169.3 88.2h0M202.7 70.7h0M166.5 102.7h0M160.1 84.8h0M193.4 98.8h0M193.9 70.8h0M198.4 82.1h0M194.9 87.5h0M198.5 87.8h0M168.7 72.4h0M179.9 67.6h0M164.3 106.4h0M183.6 105.9h0M163.7 87.9h0M178.6 70.4h0M169 108.6h0M190.6 89.2h0M185.2 105.8h0M201.4 93.2h0M159 106.3h0M164.3 76.6h0M163 89.4h0M184 86.9h0M178.7 71.9h0M190.3 90.6h0M171.1 104.5h0M200.7 108.7h0M202.9 68.5h0M174.9 86.4h0M168.7 100.3h0M199.1 71.8h0M180.4 110.8h0M198.4 86.5h0M161.5 86.7h0M180.9 102.2h0M165.3 78.4h0M202.9 65.9h0M185.3 69.8h0M191.9 85.2h0M200.1 75.8h0M197.8 76h0M158.8 69.4h0M160.2 83.6h0M202.3 82h0M190.3 66.9h0M180.8 90.7h0M161.2 92.6h0M177.6 80.7h0M195.6 97.8h0M162.3 70.3h0" stroke="#dcdde6" stroke-width="2.2" stroke-linecap="round" opacity="0.85"/>
<path d="M159.1 77.7h0M186.5 110.8h0M202.1 105.9h0M162.4 102.5h0M192.4 87.5h0M203.4 93.5h0M162.2 75.4h0M162.7 94h0M185.9 105.6h0M157.1 65.8h0M202.3 77.6h0M169 106h0M161.8 102.6h0M198.7 91.7h0M185.2 65.6h0M185.1 94.1h0M192.8 89.6h0M162 75.8h0M187.3 69h0M161.6 77.1h0M194 91h0M173.4 110.6h0M183.9 76.5h0M183.2 105.5h0M173.9 85.7h0M183.7 111.7h0M186.6 73.8h0M184 80.4h0M178.8 98.8h0M157.6 89.2h0M171.4 93.5h0M195.2 87.3h0M186.2 78.9h0M168.6 89.3h0M181.6 75.8h0M192.6 88.8h0M173.3 77.2h0M195.9 107.7h0M200.7 77h0M159.9 95h0" stroke="#a47050" stroke-width="2.4" stroke-linecap="round" opacity="0.75"/>
<path d="M157.8 105.5h0M188.5 81.1h0M177.3 97.4h0M164.1 82.5h0M193.6 97.3h0M184.1 70.2h0M166.8 77.4h0M158.1 95.4h0M183.5 108.7h0M182.7 108.5h0M178.6 89.6h0M169.8 87.1h0M200.6 88.2h0M156.7 81.9h0M165.9 94.6h0M180.5 87.7h0M200.2 101.1h0M160.7 66.7h0M189.5 93.3h0M187.3 88.8h0M158.3 86.5h0M195.9 93.6h0M158.7 71.1h0M199.1 90.9h0M164.3 98.5h0M200.1 106h0M186.9 103.2h0M160.7 87.1h0M194.7 81.3h0M163.4 106h0M189.7 65.7h0M159.6 91.5h0M201.4 94.3h0M197.8 70.2h0M183.7 73.8h0M172.2 72.3h0M178.4 67.5h0M187.5 95.7h0M199.1 101.4h0M160.2 106.1h0M182.1 109.3h0M179.7 69.1h0M189.7 73.4h0M202.9 90.6h0M199 88.5h0M171.9 96.4h0M190 86.9h0M169.6 85.1h0M190.2 76h0M164 88h0M187.5 68.4h0M169.4 111h0M169.2 101.6h0M171 69.3h0M179.5 106.2h0M193.1 67.6h0M189.7 94.5h0M179.3 96.5h0M181.1 73.9h0M189.3 71.4h0M171.2 105.3h0M183.3 89.3h0M190 88.4h0M174.6 91.3h0M157.6 81.8h0M158.5 112.1h0M199.3 96h0M164 105.5h0M169.9 103.1h0M187.2 93.7h0M191.4 77.9h0M195.8 90.8h0M192.2 104.8h0M168.6 84.6h0M173.6 68.9h0M197.8 97.5h0M179.6 90.9h0M197.9 68.6h0M173.4 97.6h0M181.7 88.7h0M168.8 75.8h0" stroke="#e8e4e0" stroke-width="1.8" stroke-linecap="round" opacity="0.85"/>
<path d="M188.1 81.3h0M200.7 107.7h0M202.2 78.3h0M180.8 70.2h0M173.5 68.8h0M180.2 110.3h0M192.4 82.4h0M169.6 109.1h0M159.1 105h0M196.8 68.5h0M201.3 95.7h0M174.9 85.3h0M185.2 90.1h0M197.4 107.4h0M171.9 65.7h0M193.2 95.7h0M187.4 68.8h0M160.2 107.5h0M173.7 87.5h0M202.3 74.5h0M186.5 68.2h0M183 100h0M164 101h0M202.1 104.1h0M193.8 109.8h0M190.3 91h0M195.3 103.2h0M186.2 96.7h0M165 81.2h0M171.9 105.7h0M193.3 79h0M203.3 68.1h0M159.5 80.7h0M160.2 109.9h0M173.5 83.5h0M196.8 90.3h0M186.2 86h0M178.2 110.3h0M169.6 90h0M179.1 71.9h0M163.5 89.1h0M194.1 85.6h0M159.4 109.2h0M163.1 106.9h0M158.7 95.8h0M163.5 77.5h0M176.4 100.8h0M177.1 85h0M175.5 89.8h0M169.8 110.1h0M165.5 71.5h0M182.4 81.8h0M190.5 67.2h0M188.4 82.4h0M200.2 79.4h0M176.9 80.2h0M181.7 78.5h0M188.1 84.6h0M189.9 79h0M178.1 91.5h0M190.4 96h0M176.8 69.3h0M161.9 72.2h0M165.2 73.9h0M187.7 81.3h0M199.3 76.3h0M168.2 73.9h0M163.4 97.4h0M183.8 77.1h0M194.7 97.1h0M176.7 93.9h0M187.5 86h0M160.9 82.4h0M201.1 82.9h0M186.6 69.5h0M193 105.9h0M174.1 82.8h0M180.7 77.2h0M166.5 71.3h0M188.9 89.2h0M201.5 110.5h0" stroke="#a8aac0" stroke-width="1.6" stroke-linecap="round" opacity="0.8"/>
</g>
</g>
<rect x="158.5" y="67.2" width="43.1" height="43.1" fill="none" stroke="#000" stroke-width="1.9" />
<rect x="161.2" y="69" width="37.8" height="6" fill="#fff" stroke="#444" stroke-width="0.5" />
<text x="180.1" y="74" font-size="6.0" font-weight="bold" text-anchor="middle" fill="#1a1a1a" textLength="36" lengthAdjust="spacingAndGlyphs" >CD270<tspan dy="-2.1" font-size="3.6">+</tspan><tspan dy="2.1"> </tspan>B cells</text>
<rect x="168.6" y="76.1" width="22.8" height="6" fill="#fff" stroke="#444" stroke-width="0.5" />
<text x="180" y="81.1" font-size="6.0" font-weight="bold" text-anchor="middle" fill="#1a1a1a" textLength="21" lengthAdjust="spacingAndGlyphs" >Reactive</text>
<clipPath id="c15"><rect x="206" y="66.3" width="45" height="45"/></clipPath><g clip-path="url(#c15)">
<rect x="206" y="66.3" width="45" height="45" fill="#b0acd0" />
<g filter="url(#bl)">
<path d="M246.1 109.7h0M244.4 66.5h0M211.1 111.2h0M246.1 94.2h0M234.1 85.8h0M225 72.1h0M230.8 78.2h0M210.7 106.2h0M232 106.5h0M218.8 92.4h0M218 104.3h0M214.8 95.7h0M231.1 80.6h0M208.8 88.2h0M229.6 103.8h0M214.5 74h0M219.4 103h0M215.9 95.1h0M206.5 69.2h0M238.3 88.7h0M210.3 87.5h0M249.2 83.7h0M231.2 85.1h0M228.8 67.3h0M246.5 92.5h0M221.3 78.7h0M213.8 109.2h0M244.5 83.1h0M233.3 91.3h0M214.4 66.9h0M239.6 72.9h0M231.6 66.1h0M206 73h0M235.7 94.1h0M251.6 96.3h0M229.5 65.9h0M250 88.3h0M245.3 67.3h0M244.3 87.7h0M215.2 84.4h0M208.5 92.6h0M215.3 98.3h0M213.2 97.7h0M234 98.8h0M249.7 79.2h0M237.1 84h0M247 104.1h0M240.9 93.5h0M217.3 108h0M250.5 109.9h0M220.9 103.9h0M236.9 104.8h0M242.7 86.7h0M223.6 102.7h0M235.8 90.7h0M246.1 66.8h0M205.6 87.1h0M209.6 104.9h0M209.1 106.8h0M215.6 71.6h0M240.4 97.1h0M224.3 93.3h0M231 109.9h0M228.9 90.7h0M226.7 84.7h0M237.4 70.5h0M237.5 108.9h0M240.8 90.8h0M221.6 69.9h0M209.3 90.6h0M246.4 106h0M213.6 100.5h0M242.9 87.9h0M245.3 74.1h0M220.8 89.5h0M239.2 86.4h0M219.2 106h0M223.4 85h0M215.5 88h0M238.2 82.3h0M236.1 88.5h0M205.6 110.5h0M218.5 91h0M250.1 75h0M208 75h0M212.2 105.3h0M229.3 67.3h0M217.8 89.3h0M213.2 79.7h0M247.5 86.2h0M216 93.4h0M210.3 89.7h0M235.4 69.5h0M230.8 79.8h0M240 94.2h0M247.7 93.8h0M213.6 74h0M238.1 103.4h0M207.9 84.9h0M218.3 87.3h0M246 91.6h0M240 101.2h0M218.1 94.4h0M222.6 87.6h0M229.9 96.7h0M212.9 104.7h0M212.6 80h0M244.9 111.6h0M222.2 110h0M206.8 110.2h0M214.4 66.9h0M240.8 72.9h0M240.4 65.6h0M210.8 82.1h0M209 87.4h0M221.3 100h0M228.2 110.7h0M244.6 73.3h0M248.1 107.4h0M231.6 90.1h0M213 80.4h0M215.3 74.5h0M233.9 80.5h0M241.1 92.2h0M243.9 69.4h0M244.8 89.2h0M234.7 76.5h0M237.7 84.4h0M238.9 92.8h0M211.6 79.4h0M240.3 66.1h0M234.7 90.9h0M238.6 80.8h0M227.4 87.7h0M240.2 68.7h0M229 77.5h0M232.7 77.5h0M214.7 76.2h0M247.1 82.4h0M246.4 99.9h0M217.6 91.3h0" stroke="#8c84c0" stroke-width="2.0" stroke-linecap="round" opacity="0.85"/>
<path d="M205.4 109.1h0M234.7 70.6h0M229.4 88.6h0M236.5 78.9h0M247.8 94.6h0M208.4 103.8h0M246.6 79.6h0M238.4 105.7h0M246.5 68.6h0M244.3 77h0M242.7 97.6h0M226.9 107.7h0M242.8 112h0M250.1 92.2h0M239.5 96.8h0M223.8 88.7h0M228.9 75.4h0M217.3 105h0M244.8 98.1h0M237.4 89.3h0M231.9 96.6h0M205.3 86.2h0M250.6 75h0M227 68.9h0M217 104h0M206.5 102.8h0M242.5 106.1h0M217.1 109.1h0M222.5 86.5h0M249.7 90.9h0M237 70.5h0M205.2 77.7h0M210 104h0M216.7 110.3h0M236.9 74.3h0M238.4 80.2h0M229.8 68.9h0M244.1 102.3h0M232.3 97.8h0M221 71.3h0M220.3 100.1h0M231.5 71.6h0M216.3 87.6h0M205.7 67.4h0M226.1 71.6h0M246.8 71.4h0M240.2 102.6h0M219.8 90.8h0M251.6 94.3h0M223.2 111.2h0M217.2 110.2h0M219.6 85.1h0M219.8 95.9h0M246.5 97.7h0M213.6 111.8h0M239 89.1h0M244.9 70.3h0M233.1 102.2h0M241.5 96.9h0M207.9 87.8h0M217.6 93.9h0M223.7 86.7h0M230.3 93h0M246.8 78.6h0M217.9 74h0M210.3 105.2h0M248.2 71.2h0M221.9 107.8h0M245.6 111.3h0M251.6 79.6h0M208.1 77h0M228.6 66h0M216.9 87.5h0M237 72.6h0M210.8 80.8h0M209.3 71h0M209.8 102.9h0M246.3 67.3h0M242.8 104.9h0M235.6 79.4h0M243.5 69.1h0M207.2 110.2h0M215.4 108.3h0M240.4 67.5h0M209.4 95.7h0M211.9 96.6h0M236.6 76.2h0M227.4 75.3h0M246 94.9h0M237.5 94.5h0M207.9 106.9h0M241.6 89.5h0M232.8 88.4h0M240.5 90.4h0M218.1 89.6h0M215 65.5h0M229.5 106.2h0M238.8 75.1h0M228.9 92.7h0M232.2 86.9h0M228.9 97.6h0M246.4 89.5h0M241.9 97.3h0M210.6 77.5h0M219.7 81.9h0M228.1 79.1h0M251.9 99.8h0M222.4 98.2h0M248.5 72.8h0M234.6 110.4h0M222.6 106.5h0M242.8 80.3h0M211.8 103.2h0M224.5 81.8h0M226.8 99.5h0M247 108.4h0M241 73.6h0M222.4 65.6h0M214.4 81.3h0M213.3 87.7h0M211.2 96h0" stroke="#dcd8ec" stroke-width="1.8" stroke-linecap="round" opacity="0.85"/>
<path d="M224.3 76.9h0M237.2 80.7h0M206.1 104.7h0M240.4 106.6h0M218.8 77.7h0M237.7 72.2h0M250.4 96h0M230.8 67.7h0M218.3 85.2h0M251.1 72.1h0M232.8 69h0M250.6 100.4h0M243.2 100.5h0M213.4 76.6h0M206.8 91.2h0M208.8 74.2h0M213.2 108.5h0M242.1 78.7h0M250.6 72.8h0M211.6 83.2h0" stroke="#a87060" stroke-width="3.0" stroke-linecap="round" opacity="0.8"/>
<path d="M242.9 69.9h0M242.1 90.9h0M242.5 81.1h0M207 70h0M239 89.1h0M240.9 74.6h0M218.1 75.2h0M245 98.3h0M212.3 99.4h0M206.8 87.2h0M217.1 101.2h0M238.8 97.4h0M214.3 67.3h0M235.1 97.9h0M205.4 104.7h0M247.2 82.3h0M229.4 95.9h0M248.5 95.8h0M229.2 101.4h0M228 66.8h0M230.7 84.8h0M220.8 83.8h0M215.4 80h0M240.1 106.9h0M226.5 105h0M210.9 89.5h0M240 102h0M223.2 73.2h0M250.2 93.9h0M235.7 81.6h0M210.3 92.1h0M224 107.1h0M236.2 100.8h0M231.8 100.7h0M211.3 112.1h0M232.3 93.4h0M213.9 69.6h0M238.1 99.4h0M236.3 77.3h0M227.9 101.4h0M235.1 108.1h0M209.2 101.7h0M205.6 94.7h0M230.1 68.8h0M224.7 96.7h0M245.8 68.9h0M229 102.7h0M210.5 107.3h0M249.1 81.4h0M214.8 72.1h0M215.3 85h0M238.2 109.3h0M231.2 110.1h0M225.1 96.2h0M205 85h0M206.1 71.5h0M243 70.7h0M219.1 90h0M229.7 66.7h0M210.2 97.1h0M224 69.6h0M227.5 82.8h0M252 67.6h0M213.5 68.8h0M230.9 110.4h0M241.5 70.6h0M230.4 82.1h0M250.9 98.5h0M233.4 77.4h0M225.5 90.1h0M222.8 91.8h0M209.2 85.1h0M251.4 84.1h0M228.8 100.7h0M243.2 99.9h0M222.9 98.8h0M214.4 94.3h0M205.8 74.3h0M213.2 81.8h0M239.7 66.3h0M246.2 69.6h0" stroke="#c4c0e0" stroke-width="2.0" stroke-linecap="round" opacity="0.8"/>
<path d="M249.7 109.9h0M233.9 104.8h0M249.2 86.4h0M245.2 66.9h0M241.7 95.8h0M241.5 72.3h0M208.9 89.9h0M233.5 97.6h0M213.4 92h0M250.5 77.2h0M243.5 110.5h0M236.6 86h0M224.7 87.3h0M210.9 68.8h0M218.1 73.5h0M247.3 82.3h0M246.1 91.8h0M247.2 107.4h0M238.4 86.4h0M216.5 91.8h0M219.7 104.2h0M207 95.2h0M220.9 85h0M230.5 111.5h0M251.7 82.1h0M250 110.2h0M229.7 91.8h0M214.3 102.4h0M227.8 101.1h0M248.3 94.6h0M237.7 91.1h0M211.2 86.9h0M207.9 73.8h0M251.1 83.2h0M211.4 85.7h0M207.8 93.8h0M215.7 75.5h0M234.9 108.8h0M205.6 98.9h0M232.4 88.2h0M224.8 65.8h0M221.5 89.9h0M220.8 112h0M221 105h0M243.1 102.6h0M228.1 88.8h0M244.6 70.8h0M215.6 65.9h0M228.1 86.6h0M249.9 109h0M224.1 88.6h0M209.9 100.7h0M229.4 73.2h0M246.2 67.3h0M214 87.7h0M251.9 71.8h0M217.5 102.5h0M220.8 109h0M205.9 76.5h0M219.6 105.2h0M209.8 97h0M246.7 111.1h0M242.9 67.7h0M227.7 75.6h0M210.7 76.7h0M239.5 92.3h0M211.1 78.7h0M208.1 108.8h0M240.4 87.5h0M250.2 111.3h0M214.7 77.3h0M214 94.8h0M233 89.7h0M241.4 90.2h0M219.8 96.7h0M249.6 67.6h0M227.8 71.9h0M240.1 85.6h0M244.4 96.8h0M250.1 92.5h0M233 111.1h0" stroke="#7870a8" stroke-width="1.2" stroke-linecap="round" opacity="0.85"/>
</g>
</g>
<rect x="206.9" y="67.2" width="43.1" height="43.1" fill="none" stroke="#000" stroke-width="1.9" />
<rect x="209.6" y="69" width="37.8" height="6" fill="#fff" stroke="#444" stroke-width="0.5" />
<text x="228.5" y="74" font-size="6.0" font-weight="bold" text-anchor="middle" fill="#1a1a1a" textLength="36" lengthAdjust="spacingAndGlyphs" >CD279<tspan dy="-2.1" font-size="3.6">+</tspan><tspan dy="2.1"> </tspan>T cells</text>
<rect x="217" y="76.1" width="22.8" height="6" fill="#fff" stroke="#444" stroke-width="0.5" />
<text x="228.4" y="81.1" font-size="6.0" font-weight="bold" text-anchor="middle" fill="#1a1a1a" textLength="21" lengthAdjust="spacingAndGlyphs" >Reactive</text>
<path d="M23.4 120L23.4 164.8" stroke="#000" stroke-width="1.3" />
<path d="M21.4 164.2L23.4 164.2" stroke="#000" stroke-width="1.1700000000000002" />
<text x="21" y="166.6" font-size="6.8" text-anchor="end" fill="#222" >120</text>
<path d="M21.4 155.5L23.4 155.5" stroke="#000" stroke-width="1.1700000000000002" />
<text x="21" y="157.9" font-size="6.8" text-anchor="end" fill="#222" >140</text>
<path d="M21.4 146.8L23.4 146.8" stroke="#000" stroke-width="1.1700000000000002" />
<text x="21" y="149.2" font-size="6.8" text-anchor="end" fill="#222" >160</text>
<path d="M21.4 138L23.4 138" stroke="#000" stroke-width="1.1700000000000002" />
<text x="21" y="140.5" font-size="6.8" text-anchor="end" fill="#222" >180</text>
<path d="M21.4 129.3L23.4 129.3" stroke="#000" stroke-width="1.1700000000000002" />
<text x="21" y="131.8" font-size="6.8" text-anchor="end" fill="#222" >200</text>
<path d="M21.4 120.6L23.4 120.6" stroke="#000" stroke-width="1.1700000000000002" />
<text x="21" y="123" font-size="6.8" text-anchor="end" fill="#222" >220</text>
<path d="M22.8 164.2L57.4 164.2" stroke="#000" stroke-width="1.3" />
<g fill="#58bcdc" stroke="#1a6a88" stroke-width="0.75"><circle cx="31.2" cy="160.7" r="1.65"/><circle cx="31.4" cy="152.9" r="1.65"/><circle cx="35.3" cy="152.9" r="1.65"/><circle cx="28.6" cy="153.5" r="1.65"/><circle cx="26" cy="152.9" r="1.65"/><circle cx="37.7" cy="154.4" r="1.65"/><circle cx="33.5" cy="153.6" r="1.65"/><circle cx="26.7" cy="157" r="1.65"/><circle cx="36.6" cy="153.7" r="1.65"/><circle cx="35.5" cy="156.7" r="1.65"/><circle cx="30.4" cy="156" r="1.65"/><circle cx="38" cy="158.3" r="1.65"/><circle cx="32.7" cy="155.8" r="1.65"/><circle cx="27.4" cy="155.2" r="1.65"/><circle cx="38" cy="156" r="1.65"/><circle cx="29" cy="157.8" r="1.65"/><circle cx="30.2" cy="154.3" r="1.65"/><circle cx="31.8" cy="154.3" r="1.65"/><circle cx="34.2" cy="156" r="1.65"/><circle cx="35.1" cy="154.6" r="1.65"/><circle cx="26.4" cy="154.2" r="1.65"/><circle cx="31.8" cy="157.6" r="1.65"/><circle cx="28.6" cy="156" r="1.65"/><circle cx="34.7" cy="159.1" r="1.65"/></g>
<path d="M26.6 155.6L37.4 155.6" stroke="#000" stroke-width="1.2" />
<path d="M32 156.2L32 154.9" stroke="#000" stroke-width="0.9" />
<path d="M29.5 156.2L34.5 156.2" stroke="#000" stroke-width="0.9" />
<path d="M29.5 154.9L34.5 154.9" stroke="#000" stroke-width="0.9" />
<g fill="#d03c3c" stroke="#801414" stroke-width="0.75"><circle cx="52.5" cy="157.2" r="1.65"/><circle cx="43.6" cy="121.5" r="1.65"/><circle cx="48.9" cy="121.7" r="1.65"/><circle cx="41.8" cy="157.2" r="1.65"/><circle cx="49.8" cy="140.2" r="1.65"/><circle cx="47" cy="139" r="1.65"/><circle cx="47.8" cy="130.2" r="1.65"/><circle cx="51.6" cy="129.2" r="1.65"/><circle cx="42.7" cy="126.4" r="1.65"/><circle cx="48.7" cy="125.6" r="1.65"/><circle cx="45.3" cy="135.5" r="1.65"/><circle cx="50.6" cy="137.1" r="1.65"/><circle cx="43.3" cy="129.9" r="1.65"/><circle cx="53.2" cy="138.3" r="1.65"/><circle cx="52.1" cy="148.1" r="1.65"/><circle cx="45.9" cy="141.7" r="1.65"/><circle cx="51.2" cy="132.8" r="1.65"/><circle cx="47.7" cy="133.2" r="1.65"/><circle cx="43.2" cy="146.9" r="1.65"/><circle cx="45.5" cy="128.5" r="1.65"/><circle cx="41.7" cy="135.6" r="1.65"/><circle cx="43.8" cy="150" r="1.65"/><circle cx="43.7" cy="134.3" r="1.65"/><circle cx="49.8" cy="130" r="1.65"/></g>
<path d="M42.1 136.3L52.9 136.3" stroke="#000" stroke-width="1.2" />
<path d="M47.5 139.2L47.5 133.3" stroke="#000" stroke-width="0.9" />
<path d="M45 139.2L50 139.2" stroke="#000" stroke-width="0.9" />
<path d="M45 133.3L50 133.3" stroke="#000" stroke-width="0.9" />
<text x="39.5" y="174" font-size="9.4" font-weight="bold" text-anchor="middle" textLength="28.2" lengthAdjust="spacingAndGlyphs" >CD200</text>
<path d="M70.8 120L70.8 164.8" stroke="#000" stroke-width="1.3" />
<path d="M68.8 164.2L70.8 164.2" stroke="#000" stroke-width="1.1700000000000002" />
<text x="68.4" y="166.6" font-size="6.8" text-anchor="end" fill="#222" >0</text>
<path d="M68.8 153.3L70.8 153.3" stroke="#000" stroke-width="1.1700000000000002" />
<text x="68.4" y="155.7" font-size="6.8" text-anchor="end" fill="#222" >50</text>
<path d="M68.8 142.4L70.8 142.4" stroke="#000" stroke-width="1.1700000000000002" />
<text x="68.4" y="144.8" font-size="6.8" text-anchor="end" fill="#222" >100</text>
<path d="M68.8 131.5L70.8 131.5" stroke="#000" stroke-width="1.1700000000000002" />
<text x="68.4" y="133.9" font-size="6.8" text-anchor="end" fill="#222" >150</text>
<path d="M68.8 120.6L70.8 120.6" stroke="#000" stroke-width="1.1700000000000002" />
<text x="68.4" y="123" font-size="6.8" text-anchor="end" fill="#222" >200</text>
<path d="M70.2 164.2L104.8 164.2" stroke="#000" stroke-width="1.3" />
<g fill="#58bcdc" stroke="#1a6a88" stroke-width="0.75"><circle cx="81.4" cy="153.3" r="1.65"/><circle cx="82" cy="134.8" r="1.65"/><circle cx="77.6" cy="148.7" r="1.65"/><circle cx="78.8" cy="141.6" r="1.65"/><circle cx="79.8" cy="136.7" r="1.65"/><circle cx="85.1" cy="141.8" r="1.65"/><circle cx="75.3" cy="141.4" r="1.65"/><circle cx="82.2" cy="140.2" r="1.65"/><circle cx="75" cy="145.1" r="1.65"/><circle cx="86.5" cy="140.6" r="1.65"/><circle cx="80.8" cy="147.9" r="1.65"/><circle cx="82.6" cy="143.8" r="1.65"/><circle cx="80.5" cy="141.7" r="1.65"/><circle cx="77.1" cy="139.2" r="1.65"/><circle cx="86.2" cy="145.8" r="1.65"/><circle cx="78.5" cy="145.8" r="1.65"/><circle cx="76.9" cy="142.7" r="1.65"/><circle cx="84.4" cy="144.9" r="1.65"/><circle cx="80" cy="144" r="1.65"/><circle cx="83.4" cy="141.3" r="1.65"/><circle cx="83.6" cy="147.7" r="1.65"/><circle cx="77.1" cy="141" r="1.65"/><circle cx="74.7" cy="143" r="1.65"/><circle cx="81.5" cy="145.7" r="1.65"/></g>
<path d="M75.1 143.3L85.9 143.3" stroke="#000" stroke-width="1.2" />
<path d="M80.5 144.5L80.5 142.1" stroke="#000" stroke-width="0.9" />
<path d="M78 144.5L83 144.5" stroke="#000" stroke-width="0.9" />
<path d="M78 142.1L83 142.1" stroke="#000" stroke-width="0.9" />
<g fill="#d03c3c" stroke="#801414" stroke-width="0.75"><circle cx="92.8" cy="142.8" r="1.65"/><circle cx="98.9" cy="121.7" r="1.65"/><circle cx="98.8" cy="128.5" r="1.65"/><circle cx="94.9" cy="121.7" r="1.65"/><circle cx="91.9" cy="127.9" r="1.65"/><circle cx="94.5" cy="129.5" r="1.65"/><circle cx="97.1" cy="136.3" r="1.65"/><circle cx="90.5" cy="134.4" r="1.65"/><circle cx="91" cy="138.9" r="1.65"/><circle cx="100.3" cy="136.8" r="1.65"/><circle cx="102" cy="130" r="1.65"/><circle cx="90.5" cy="129" r="1.65"/><circle cx="93.9" cy="134.7" r="1.65"/><circle cx="97.4" cy="131.4" r="1.65"/><circle cx="102.2" cy="134.2" r="1.65"/><circle cx="102.4" cy="127.5" r="1.65"/><circle cx="95.9" cy="127.6" r="1.65"/><circle cx="99.3" cy="133" r="1.65"/><circle cx="92.6" cy="132.6" r="1.65"/><circle cx="92.2" cy="136.1" r="1.65"/><circle cx="94.8" cy="132.6" r="1.65"/><circle cx="90.6" cy="121.7" r="1.65"/><circle cx="99.8" cy="130.5" r="1.65"/><circle cx="100.1" cy="126.4" r="1.65"/></g>
<path d="M91.1 131.1L101.9 131.1" stroke="#000" stroke-width="1.2" />
<path d="M96.5 132.7L96.5 129.5" stroke="#000" stroke-width="0.9" />
<path d="M94 132.7L99 132.7" stroke="#000" stroke-width="0.9" />
<path d="M94 129.5L99 129.5" stroke="#000" stroke-width="0.9" />
<text x="90" y="174" font-size="9.4" font-weight="bold" text-anchor="middle" textLength="28.2" lengthAdjust="spacingAndGlyphs" >CD274</text>
<path d="M117.8 120L117.8 164.8" stroke="#000" stroke-width="1.3" />
<path d="M115.8 164.2L117.8 164.2" stroke="#000" stroke-width="1.1700000000000002" />
<text x="115.4" y="166.6" font-size="6.8" text-anchor="end" fill="#222" >0</text>
<path d="M115.8 153.3L117.8 153.3" stroke="#000" stroke-width="1.1700000000000002" />
<text x="115.4" y="155.7" font-size="6.8" text-anchor="end" fill="#222" >50</text>
<path d="M115.8 142.4L117.8 142.4" stroke="#000" stroke-width="1.1700000000000002" />
<text x="115.4" y="144.8" font-size="6.8" text-anchor="end" fill="#222" >100</text>
<path d="M115.8 131.5L117.8 131.5" stroke="#000" stroke-width="1.1700000000000002" />
<text x="115.4" y="133.9" font-size="6.8" text-anchor="end" fill="#222" >150</text>
<path d="M115.8 120.6L117.8 120.6" stroke="#000" stroke-width="1.1700000000000002" />
<text x="115.4" y="123" font-size="6.8" text-anchor="end" fill="#222" >200</text>
<path d="M117.2 164.2L151.8 164.2" stroke="#000" stroke-width="1.3" />
<g fill="#58bcdc" stroke="#1a6a88" stroke-width="0.75"><circle cx="123.2" cy="153.3" r="1.65"/><circle cx="122.3" cy="148.9" r="1.65"/><circle cx="126.2" cy="150.9" r="1.65"/><circle cx="129.9" cy="151.8" r="1.65"/><circle cx="120.6" cy="151.8" r="1.65"/><circle cx="132.4" cy="151" r="1.65"/><circle cx="123.8" cy="150.7" r="1.65"/><circle cx="128" cy="152.4" r="1.65"/><circle cx="122.5" cy="151.9" r="1.65"/><circle cx="128.7" cy="150.5" r="1.65"/><circle cx="131.1" cy="151" r="1.65"/><circle cx="121.5" cy="150.5" r="1.65"/><circle cx="127.1" cy="151.4" r="1.65"/><circle cx="125.1" cy="151.9" r="1.65"/><circle cx="125" cy="150.4" r="1.65"/><circle cx="122.7" cy="150.5" r="1.65"/><circle cx="132" cy="153.3" r="1.65"/><circle cx="130" cy="150.3" r="1.65"/><circle cx="123.7" cy="151.9" r="1.65"/><circle cx="127.3" cy="150.5" r="1.65"/><circle cx="132.2" cy="149.6" r="1.65"/><circle cx="128.2" cy="151.4" r="1.65"/><circle cx="131.9" cy="152.1" r="1.65"/><circle cx="120.8" cy="150.9" r="1.65"/></g>
<path d="M121.1 151.2L131.9 151.2" stroke="#000" stroke-width="1.2" />
<path d="M126.5 151.5L126.5 150.9" stroke="#000" stroke-width="0.9" />
<path d="M124 151.5L129 151.5" stroke="#000" stroke-width="0.9" />
<path d="M124 150.9L129 150.9" stroke="#000" stroke-width="0.9" />
<g fill="#d03c3c" stroke="#801414" stroke-width="0.75"><circle cx="140" cy="143.5" r="1.65"/><circle cx="139.7" cy="121.7" r="1.65"/><circle cx="146" cy="135.4" r="1.65"/><circle cx="148.6" cy="127.9" r="1.65"/><circle cx="139.9" cy="128.9" r="1.65"/><circle cx="142.5" cy="131.5" r="1.65"/><circle cx="145.5" cy="126.5" r="1.65"/><circle cx="140.4" cy="135" r="1.65"/><circle cx="140.7" cy="125.5" r="1.65"/><circle cx="139.5" cy="132.3" r="1.65"/><circle cx="138.1" cy="124.4" r="1.65"/><circle cx="148.2" cy="133.6" r="1.65"/><circle cx="144.9" cy="132.7" r="1.65"/><circle cx="147.2" cy="130.5" r="1.65"/><circle cx="143.1" cy="126.4" r="1.65"/><circle cx="148.3" cy="124.6" r="1.65"/><circle cx="137.7" cy="133.6" r="1.65"/><circle cx="143.4" cy="135" r="1.65"/><circle cx="137.5" cy="127.9" r="1.65"/><circle cx="147" cy="125.6" r="1.65"/><circle cx="144" cy="128.2" r="1.65"/><circle cx="141.3" cy="133.1" r="1.65"/><circle cx="149.5" cy="125.5" r="1.65"/><circle cx="149.3" cy="131.6" r="1.65"/></g>
<path d="M138.1 130L148.9 130" stroke="#000" stroke-width="1.2" />
<path d="M143.5 131.5L143.5 128.6" stroke="#000" stroke-width="0.9" />
<path d="M141 131.5L146 131.5" stroke="#000" stroke-width="0.9" />
<path d="M141 128.6L146 128.6" stroke="#000" stroke-width="0.9" />
<text x="135.4" y="174" font-size="9.4" font-weight="bold" text-anchor="middle" textLength="28.2" lengthAdjust="spacingAndGlyphs" >CD276</text>
<path d="M166.2 120L166.2 164.8" stroke="#000" stroke-width="1.3" />
<path d="M164.2 164.2L166.2 164.2" stroke="#000" stroke-width="1.1700000000000002" />
<text x="163.8" y="166.6" font-size="6.8" text-anchor="end" fill="#222" >0</text>
<path d="M164.2 153.3L166.2 153.3" stroke="#000" stroke-width="1.1700000000000002" />
<text x="163.8" y="155.7" font-size="6.8" text-anchor="end" fill="#222" >50</text>
<path d="M164.2 142.4L166.2 142.4" stroke="#000" stroke-width="1.1700000000000002" />
<text x="163.8" y="144.8" font-size="6.8" text-anchor="end" fill="#222" >100</text>
<path d="M164.2 131.5L166.2 131.5" stroke="#000" stroke-width="1.1700000000000002" />
<text x="163.8" y="133.9" font-size="6.8" text-anchor="end" fill="#222" >150</text>
<path d="M164.2 120.6L166.2 120.6" stroke="#000" stroke-width="1.1700000000000002" />
<text x="163.8" y="123" font-size="6.8" text-anchor="end" fill="#222" >200</text>
<path d="M165.6 164.2L200.2 164.2" stroke="#000" stroke-width="1.3" />
<g fill="#58bcdc" stroke="#1a6a88" stroke-width="0.75"><circle cx="177.6" cy="135.9" r="1.65"/><circle cx="178.1" cy="128.9" r="1.65"/><circle cx="180.3" cy="133.8" r="1.65"/><circle cx="176.9" cy="132.5" r="1.65"/><circle cx="174.1" cy="131.1" r="1.65"/><circle cx="169.9" cy="131.2" r="1.65"/><circle cx="171.6" cy="133.4" r="1.65"/><circle cx="168.8" cy="133.3" r="1.65"/><circle cx="175" cy="132.6" r="1.65"/><circle cx="174" cy="134.6" r="1.65"/><circle cx="179.1" cy="131.9" r="1.65"/><circle cx="172.9" cy="132.2" r="1.65"/><circle cx="170.1" cy="134.5" r="1.65"/><circle cx="170.3" cy="132.7" r="1.65"/><circle cx="178.3" cy="133.4" r="1.65"/><circle cx="173.8" cy="132.8" r="1.65"/><circle cx="176.1" cy="133.7" r="1.65"/><circle cx="176.4" cy="130.3" r="1.65"/><circle cx="172.9" cy="133.9" r="1.65"/><circle cx="171.5" cy="131.2" r="1.65"/><circle cx="169.1" cy="132.1" r="1.65"/><circle cx="180.3" cy="130.2" r="1.65"/><circle cx="180.4" cy="132.5" r="1.65"/><circle cx="171.4" cy="132.4" r="1.65"/></g>
<path d="M169.1 132.5L179.9 132.5" stroke="#000" stroke-width="1.2" />
<path d="M174.5 133L174.5 132.1" stroke="#000" stroke-width="0.9" />
<path d="M172 133L177 133" stroke="#000" stroke-width="0.9" />
<path d="M172 132.1L177 132.1" stroke="#000" stroke-width="0.9" />
<g fill="#d03c3c" stroke="#801414" stroke-width="0.75"><circle cx="185.4" cy="150.7" r="1.65"/><circle cx="194.7" cy="139.8" r="1.65"/><circle cx="187.1" cy="145.2" r="1.65"/><circle cx="184.4" cy="146.4" r="1.65"/><circle cx="192.9" cy="144.8" r="1.65"/><circle cx="190.1" cy="144.8" r="1.65"/><circle cx="194.2" cy="147.8" r="1.65"/><circle cx="191.5" cy="146.5" r="1.65"/><circle cx="189.1" cy="148" r="1.65"/><circle cx="195.4" cy="144.3" r="1.65"/><circle cx="183.5" cy="144.4" r="1.65"/><circle cx="185.6" cy="143.5" r="1.65"/><circle cx="186.2" cy="147.1" r="1.65"/><circle cx="195.4" cy="146.3" r="1.65"/><circle cx="192.2" cy="150.4" r="1.65"/><circle cx="184.9" cy="145" r="1.65"/><circle cx="187.1" cy="148.9" r="1.65"/><circle cx="188.5" cy="144.2" r="1.65"/><circle cx="191.1" cy="142.4" r="1.65"/><circle cx="191.4" cy="144" r="1.65"/><circle cx="194" cy="143.5" r="1.65"/><circle cx="186.2" cy="144.5" r="1.65"/><circle cx="187.3" cy="144.1" r="1.65"/><circle cx="189.4" cy="142.8" r="1.65"/></g>
<path d="M184.1 145.4L194.9 145.4" stroke="#000" stroke-width="1.2" />
<path d="M189.5 146.1L189.5 144.6" stroke="#000" stroke-width="0.9" />
<path d="M187 146.1L192 146.1" stroke="#000" stroke-width="0.9" />
<path d="M187 144.6L192 144.6" stroke="#000" stroke-width="0.9" />
<text x="183" y="174" font-size="9.4" font-weight="bold" text-anchor="middle" textLength="28.2" lengthAdjust="spacingAndGlyphs" >CD270</text>
<path d="M215.4 120L215.4 164.8" stroke="#000" stroke-width="1.3" />
<path d="M213.4 164.2L215.4 164.2" stroke="#000" stroke-width="1.1700000000000002" />
<text x="213" y="166.6" font-size="6.8" text-anchor="end" fill="#222" >0</text>
<path d="M213.4 153.3L215.4 153.3" stroke="#000" stroke-width="1.1700000000000002" />
<text x="213" y="155.7" font-size="6.8" text-anchor="end" fill="#222" >50</text>
<path d="M213.4 142.4L215.4 142.4" stroke="#000" stroke-width="1.1700000000000002" />
<text x="213" y="144.8" font-size="6.8" text-anchor="end" fill="#222" >100</text>
<path d="M213.4 131.5L215.4 131.5" stroke="#000" stroke-width="1.1700000000000002" />
<text x="213" y="133.9" font-size="6.8" text-anchor="end" fill="#222" >150</text>
<path d="M213.4 120.6L215.4 120.6" stroke="#000" stroke-width="1.1700000000000002" />
<text x="213" y="123" font-size="6.8" text-anchor="end" fill="#222" >200</text>
<path d="M214.8 164.2L249.4 164.2" stroke="#000" stroke-width="1.3" />
<g fill="#ffffff" stroke="#333" stroke-width="0.75"><circle cx="227.3" cy="147.2" r="1.65"/><circle cx="226.7" cy="136.9" r="1.65"/><circle cx="229.8" cy="139.5" r="1.65"/><circle cx="224.2" cy="139" r="1.65"/><circle cx="220.8" cy="146.1" r="1.65"/><circle cx="218.5" cy="137.5" r="1.65"/><circle cx="227.8" cy="142.3" r="1.65"/><circle cx="224.4" cy="147.2" r="1.65"/><circle cx="221.3" cy="139.7" r="1.65"/><circle cx="229.4" cy="145.3" r="1.65"/><circle cx="222.9" cy="143.8" r="1.65"/><circle cx="227.5" cy="139" r="1.65"/><circle cx="218.1" cy="139.7" r="1.65"/><circle cx="225.7" cy="139.9" r="1.65"/><circle cx="222" cy="136.9" r="1.65"/><circle cx="218.5" cy="144.3" r="1.65"/><circle cx="219.7" cy="140.1" r="1.65"/><circle cx="222.6" cy="139" r="1.65"/><circle cx="225.7" cy="143.9" r="1.65"/><circle cx="228.5" cy="139.5" r="1.65"/><circle cx="220.6" cy="142.8" r="1.65"/><circle cx="218" cy="142.3" r="1.65"/><circle cx="226.7" cy="139.5" r="1.65"/><circle cx="229.6" cy="143" r="1.65"/></g>
<path d="M218.6 141.4L229.4 141.4" stroke="#000" stroke-width="1.2" />
<path d="M224 142.4L224 140.5" stroke="#000" stroke-width="0.9" />
<path d="M221.5 142.4L226.5 142.4" stroke="#000" stroke-width="0.9" />
<path d="M221.5 140.5L226.5 140.5" stroke="#000" stroke-width="0.9" />
<g fill="#111" stroke="#000" stroke-width="0.75"><circle cx="238.1" cy="137.6" r="1.65"/><circle cx="234" cy="123.2" r="1.65"/><circle cx="244.1" cy="135.3" r="1.65"/><circle cx="243" cy="130.5" r="1.65"/><circle cx="240" cy="131.5" r="1.65"/><circle cx="242.8" cy="123.9" r="1.65"/><circle cx="234.9" cy="132.4" r="1.65"/><circle cx="238.5" cy="128.8" r="1.65"/><circle cx="236.1" cy="125.2" r="1.65"/><circle cx="234.6" cy="129" r="1.65"/><circle cx="232.6" cy="131" r="1.65"/><circle cx="237.5" cy="132.4" r="1.65"/><circle cx="236.6" cy="129.9" r="1.65"/><circle cx="240.9" cy="129.4" r="1.65"/><circle cx="243.8" cy="127.8" r="1.65"/><circle cx="238.2" cy="130.8" r="1.65"/><circle cx="232.7" cy="128.5" r="1.65"/><circle cx="241.2" cy="135.7" r="1.65"/><circle cx="233.2" cy="137.6" r="1.65"/><circle cx="244.5" cy="131.7" r="1.65"/><circle cx="241.9" cy="132.4" r="1.65"/><circle cx="242.3" cy="128.9" r="1.65"/><circle cx="233.5" cy="131.9" r="1.65"/><circle cx="240" cy="127.2" r="1.65"/></g>
<path d="M233.1 130.5L243.9 130.5" stroke="#000" stroke-width="1.2" />
<path d="M238.5 131.7L238.5 129.4" stroke="#000" stroke-width="0.9" />
<path d="M236 131.7L241 131.7" stroke="#000" stroke-width="0.9" />
<path d="M236 129.4L241 129.4" stroke="#000" stroke-width="0.9" />
<text x="232.2" y="174" font-size="9.4" font-weight="bold" text-anchor="middle" textLength="28.2" lengthAdjust="spacingAndGlyphs" >CD279</text>
<path d="M31.5 147V138.5H40.5" fill="none" stroke="#888" stroke-width="0.8"/>
<text x="36.5" y="137.9" font-size="9" font-weight="bold" text-anchor="middle" >**</text>
<path d="M79 136V124.5H88" fill="none" stroke="#888" stroke-width="0.8"/>
<text x="84" y="123.9" font-size="9" font-weight="bold" text-anchor="middle" >**</text>
<path d="M125.5 150V133H134" fill="none" stroke="#888" stroke-width="0.8"/>
<text x="130.2" y="132.4" font-size="9" font-weight="bold" text-anchor="middle" >**</text>
<path d="M178 124.8H191.5V133.5" fill="none" stroke="#888" stroke-width="0.8"/>
<text x="186.2" y="124.2" font-size="9" font-weight="bold" text-anchor="middle" >**</text>
<path d="M220 131V123H230" fill="none" stroke="#888" stroke-width="0.8"/>
<text x="225.5" y="122.4" font-size="9" font-weight="bold" text-anchor="middle" >**</text>
<text x="8.8" y="142" font-size="9.4" font-weight="bold" text-anchor="middle" textLength="56.5" lengthAdjust="spacingAndGlyphs" transform="rotate(-90 8.8 142)" >Mean intensity</text>
<circle cx="15.0" cy="188.2" r="3.0" fill="#58bcdc" stroke="#1a6a88" stroke-width="1"/>
<text x="18.6" y="191.1" font-size="8.6" fill="#282828" textLength="78" lengthAdjust="spacingAndGlyphs" >Healthy CD20<tspan dy="-3.0" font-size="5.2">+</tspan><tspan dy="3.0"> </tspan> B cells</text>
<circle cx="15.0" cy="200.4" r="3.0" fill="#fff" stroke="#333" stroke-width="1"/>
<text x="18.6" y="203.3" font-size="8.6" fill="#282828" textLength="77.5" lengthAdjust="spacingAndGlyphs" >Healthy CD3<tspan dy="-3.0" font-size="5.2">+</tspan><tspan dy="3.0"> </tspan>  T cells</text>
<circle cx="108.6" cy="188.2" r="3.0" fill="#d42a30" stroke="#600" stroke-width="1"/>
<text x="112.4" y="191.1" font-size="8.6" fill="#282828" textLength="52.6" lengthAdjust="spacingAndGlyphs" >FL CD20<tspan dy="-3.0" font-size="5.2">+</tspan><tspan dy="3.0"> </tspan> cells</text>
<circle cx="108.6" cy="200.4" r="3.0" fill="#222" stroke="#000" stroke-width="1"/>
<text x="112.4" y="203.3" font-size="8.6" fill="#282828" textLength="53.6" lengthAdjust="spacingAndGlyphs" >FL CD3<tspan dy="-3.0" font-size="5.2">+</tspan><tspan dy="3.0"> </tspan> Tcells</text>
<circle cx="173.0" cy="188.2" r="3.0" fill="#ece440" stroke="#777" stroke-width="1"/>
<text x="176.6" y="191.1" font-size="8.6" fill="#282828" textLength="104.6" lengthAdjust="spacingAndGlyphs" >Long-survival FL CD20<tspan dy="-3.0" font-size="5.2">+</tspan><tspan dy="3.0"> </tspan> cells</text>
<circle cx="173.0" cy="200.4" r="3.0" fill="#ddd" stroke="#555" stroke-width="1"/>
<text x="176.6" y="203.3" font-size="8.6" fill="#282828" textLength="107.2" lengthAdjust="spacingAndGlyphs" >Long-survival FL CD3<tspan dy="-3.0" font-size="5.2">+</tspan><tspan dy="3.0"> </tspan> T cells</text>
<circle cx="291.5" cy="188.3" r="3.0" fill="#48b058" stroke="#1f5f2c" stroke-width="1"/>
<text x="295.9" y="191.2" font-size="8.6" fill="#282828" textLength="104.3" lengthAdjust="spacingAndGlyphs" >Short-survival FL CD20<tspan dy="-3.0" font-size="5.2">+</tspan><tspan dy="3.0"> </tspan> cells</text>
<circle cx="291.5" cy="200.6" r="3.0" fill="#465c94" stroke="#1f2f5f" stroke-width="1"/>
<text x="295.9" y="203.5" font-size="8.6" fill="#282828" textLength="106.8" lengthAdjust="spacingAndGlyphs" >Short-survival FL CD3<tspan dy="-3.0" font-size="5.2">+</tspan><tspan dy="3.0"> </tspan> T cells</text>
<text x="2" y="13" font-size="14.2" font-weight="bold" >A</text>
<text x="261" y="13.4" font-size="14.2" font-weight="bold" >B</text>
<text x="391.8" y="13.4" font-size="14.2" font-weight="bold" >C</text>
<text x="1.6" y="220.2" font-size="14.2" font-weight="bold" >D</text>
<text x="356.8" y="221.4" font-size="14.2" font-weight="bold" >E</text>
<text x="1.6" y="396" font-size="14.2" font-weight="bold" >F</text>
<text x="175" y="396" font-size="14.2" font-weight="bold" >G</text>
<path d="M283.6 27.3L283.6 85.8" stroke="#000" stroke-width="1.3" />
<path d="M281.4 85.2L283.6 85.2" stroke="#000" stroke-width="1.1700000000000002" />
<text x="280" y="87.6" font-size="6.6" text-anchor="end" fill="#222" >120</text>
<path d="M281.4 73.7L283.6 73.7" stroke="#000" stroke-width="1.1700000000000002" />
<text x="280" y="76.1" font-size="6.6" text-anchor="end" fill="#222" >140</text>
<path d="M281.4 62.3L283.6 62.3" stroke="#000" stroke-width="1.1700000000000002" />
<text x="280" y="64.7" font-size="6.6" text-anchor="end" fill="#222" >160</text>
<path d="M281.4 50.8L283.6 50.8" stroke="#000" stroke-width="1.1700000000000002" />
<text x="280" y="53.2" font-size="6.6" text-anchor="end" fill="#222" >180</text>
<path d="M281.4 39.4L283.6 39.4" stroke="#000" stroke-width="1.1700000000000002" />
<text x="280" y="41.7" font-size="6.6" text-anchor="end" fill="#222" >200</text>
<path d="M281.4 27.9L283.6 27.9" stroke="#000" stroke-width="1.1700000000000002" />
<text x="280" y="30.3" font-size="6.6" text-anchor="end" fill="#222" >220</text>
<path d="M283 85.2L330 85.2" stroke="#000" stroke-width="1.3" />
<g fill="#ece86a" stroke="#8a8420" stroke-width="0.75"><circle cx="292.5" cy="79.5" r="1.65"/><circle cx="298.9" cy="52" r="1.65"/><circle cx="299.9" cy="63.8" r="1.65"/><circle cx="300.8" cy="74.5" r="1.65"/><circle cx="297.1" cy="78.8" r="1.65"/><circle cx="299.8" cy="70.7" r="1.65"/><circle cx="294.1" cy="70.5" r="1.65"/><circle cx="297.5" cy="74.1" r="1.65"/><circle cx="300.7" cy="60.1" r="1.65"/><circle cx="290.1" cy="68.9" r="1.65"/><circle cx="297.8" cy="65.7" r="1.65"/><circle cx="291.5" cy="65.8" r="1.65"/><circle cx="301.5" cy="67.4" r="1.65"/><circle cx="292.5" cy="73.1" r="1.65"/><circle cx="297" cy="54.6" r="1.65"/><circle cx="300.3" cy="77.8" r="1.65"/><circle cx="294.8" cy="66.4" r="1.65"/><circle cx="296.8" cy="62.2" r="1.65"/><circle cx="293" cy="67.4" r="1.65"/><circle cx="299.6" cy="66.9" r="1.65"/><circle cx="303" cy="64.4" r="1.65"/><circle cx="293.6" cy="64.9" r="1.65"/><circle cx="296.8" cy="68.2" r="1.65"/><circle cx="291.3" cy="60" r="1.65"/></g>
<path d="M290.6 67.4L302.4 67.4" stroke="#000" stroke-width="1.2" />
<path d="M296.5 69.5L296.5 65.3" stroke="#000" stroke-width="0.9" />
<path d="M294 69.5L299 69.5" stroke="#000" stroke-width="0.9" />
<path d="M294 65.3L299 65.3" stroke="#000" stroke-width="0.9" />
<g fill="#5cb06c" stroke="#1f6534" stroke-width="0.75"><circle cx="313.4" cy="57.7" r="1.65"/><circle cx="312.1" cy="29" r="1.65"/><circle cx="316.1" cy="46" r="1.65"/><circle cx="321.7" cy="56.8" r="1.65"/><circle cx="321.5" cy="41.9" r="1.65"/><circle cx="316.9" cy="41.1" r="1.65"/><circle cx="312.8" cy="38.7" r="1.65"/><circle cx="316.1" cy="56.2" r="1.65"/><circle cx="311.1" cy="51.7" r="1.65"/><circle cx="313.4" cy="43.1" r="1.65"/><circle cx="321" cy="53.9" r="1.65"/><circle cx="312.6" cy="48.6" r="1.65"/><circle cx="319.8" cy="35.1" r="1.65"/><circle cx="319.9" cy="49.4" r="1.65"/><circle cx="318.9" cy="29" r="1.65"/><circle cx="319" cy="57.7" r="1.65"/><circle cx="314" cy="35.2" r="1.65"/><circle cx="322.3" cy="37.9" r="1.65"/><circle cx="315.3" cy="50.6" r="1.65"/><circle cx="318.1" cy="43.6" r="1.65"/><circle cx="317.8" cy="52.6" r="1.65"/><circle cx="323.3" cy="51.2" r="1.65"/><circle cx="323.9" cy="43" r="1.65"/><circle cx="315.4" cy="30.7" r="1.65"/></g>
<path d="M311.6 45L323.4 45" stroke="#000" stroke-width="1.2" />
<path d="M317.5 47.8L317.5 42.3" stroke="#000" stroke-width="0.9" />
<path d="M315 47.8L320 47.8" stroke="#000" stroke-width="0.9" />
<path d="M315 42.3L320 42.3" stroke="#000" stroke-width="0.9" />
<text x="306.8" y="22.3" font-size="9.4" font-weight="bold" text-anchor="middle" textLength="28.4" lengthAdjust="spacingAndGlyphs" >CD200</text>
<path d="M348 28L348 85.6" stroke="#000" stroke-width="1.3" />
<path d="M345.8 85L348 85" stroke="#000" stroke-width="1.1700000000000002" />
<text x="344.4" y="87.4" font-size="6.6" text-anchor="end" fill="#222" >100</text>
<path d="M345.8 73.7L348 73.7" stroke="#000" stroke-width="1.1700000000000002" />
<text x="344.4" y="76.1" font-size="6.6" text-anchor="end" fill="#222" >120</text>
<path d="M345.8 62.4L348 62.4" stroke="#000" stroke-width="1.1700000000000002" />
<text x="344.4" y="64.8" font-size="6.6" text-anchor="end" fill="#222" >140</text>
<path d="M345.8 51.2L348 51.2" stroke="#000" stroke-width="1.1700000000000002" />
<text x="344.4" y="53.5" font-size="6.6" text-anchor="end" fill="#222" >160</text>
<path d="M345.8 39.9L348 39.9" stroke="#000" stroke-width="1.1700000000000002" />
<text x="344.4" y="42.3" font-size="6.6" text-anchor="end" fill="#222" >180</text>
<path d="M345.8 28.6L348 28.6" stroke="#000" stroke-width="1.1700000000000002" />
<text x="344.4" y="31" font-size="6.6" text-anchor="end" fill="#222" >200</text>
<path d="M347.4 85L394.5 85" stroke="#000" stroke-width="1.3" />
<g fill="#ece86a" stroke="#8a8420" stroke-width="0.75"><circle cx="362.1" cy="83.3" r="1.65"/><circle cx="356.5" cy="51.2" r="1.65"/><circle cx="359.4" cy="68.9" r="1.65"/><circle cx="357.4" cy="71.9" r="1.65"/><circle cx="363" cy="67.4" r="1.65"/><circle cx="366.5" cy="64.8" r="1.65"/><circle cx="359" cy="53.9" r="1.65"/><circle cx="360.7" cy="62.4" r="1.65"/><circle cx="362.5" cy="55.5" r="1.65"/><circle cx="357.7" cy="64" r="1.65"/><circle cx="355" cy="66.3" r="1.65"/><circle cx="364.3" cy="52.6" r="1.65"/><circle cx="360.2" cy="65.2" r="1.65"/><circle cx="364.3" cy="62.1" r="1.65"/><circle cx="357.6" cy="60.7" r="1.65"/><circle cx="355.4" cy="58.7" r="1.65"/><circle cx="363" cy="70.9" r="1.65"/><circle cx="366.5" cy="73" r="1.65"/><circle cx="365.4" cy="55.3" r="1.65"/><circle cx="364.5" cy="79.6" r="1.65"/><circle cx="357.2" cy="66.2" r="1.65"/><circle cx="363.6" cy="64.9" r="1.65"/><circle cx="365.9" cy="67.5" r="1.65"/><circle cx="354.9" cy="69.9" r="1.65"/></g>
<path d="M354.8 64.8L366.6 64.8" stroke="#000" stroke-width="1.2" />
<path d="M360.7 67.2L360.7 62.4" stroke="#000" stroke-width="0.9" />
<path d="M358.2 67.2L363.2 67.2" stroke="#000" stroke-width="0.9" />
<path d="M358.2 62.4L363.2 62.4" stroke="#000" stroke-width="0.9" />
<g fill="#5cb06c" stroke="#1f6534" stroke-width="0.75"><circle cx="375.7" cy="67" r="1.65"/><circle cx="385.1" cy="29.7" r="1.65"/><circle cx="387" cy="48.9" r="1.65"/><circle cx="381" cy="57.1" r="1.65"/><circle cx="380.2" cy="43.7" r="1.65"/><circle cx="383.4" cy="47.8" r="1.65"/><circle cx="379.3" cy="53" r="1.65"/><circle cx="387.2" cy="44.7" r="1.65"/><circle cx="379" cy="49" r="1.65"/><circle cx="379.4" cy="40.2" r="1.65"/><circle cx="376" cy="41" r="1.65"/><circle cx="384" cy="53.4" r="1.65"/><circle cx="375.3" cy="49.5" r="1.65"/><circle cx="376.7" cy="46.8" r="1.65"/><circle cx="386.7" cy="56.5" r="1.65"/><circle cx="381.5" cy="49.6" r="1.65"/><circle cx="385.4" cy="40.2" r="1.65"/><circle cx="382.6" cy="40.2" r="1.65"/><circle cx="380.4" cy="46.6" r="1.65"/><circle cx="376" cy="35.1" r="1.65"/><circle cx="380.6" cy="29.7" r="1.65"/><circle cx="386.5" cy="34.2" r="1.65"/><circle cx="382.5" cy="60" r="1.65"/><circle cx="381.7" cy="33.4" r="1.65"/></g>
<path d="M375.9 45.7L387.7 45.7" stroke="#000" stroke-width="1.2" />
<path d="M381.8 48.6L381.8 42.9" stroke="#000" stroke-width="0.9" />
<path d="M379.3 48.6L384.3 48.6" stroke="#000" stroke-width="0.9" />
<path d="M379.3 42.9L384.3 42.9" stroke="#000" stroke-width="0.9" />
<text x="372.6" y="22.3" font-size="9.4" font-weight="bold" text-anchor="middle" textLength="28.4" lengthAdjust="spacingAndGlyphs" >CD274</text>
<path d="M284.2 106.5L284.2 165.6" stroke="#000" stroke-width="1.3" />
<path d="M282 165L284.2 165" stroke="#000" stroke-width="1.1700000000000002" />
<text x="280.6" y="167.4" font-size="6.6" text-anchor="end" fill="#222" >0</text>
<path d="M282 150.5L284.2 150.5" stroke="#000" stroke-width="1.1700000000000002" />
<text x="280.6" y="152.9" font-size="6.6" text-anchor="end" fill="#222" >50</text>
<path d="M282 136.1L284.2 136.1" stroke="#000" stroke-width="1.1700000000000002" />
<text x="280.6" y="138.4" font-size="6.6" text-anchor="end" fill="#222" >100</text>
<path d="M282 121.6L284.2 121.6" stroke="#000" stroke-width="1.1700000000000002" />
<text x="280.6" y="124" font-size="6.6" text-anchor="end" fill="#222" >150</text>
<path d="M282 107.1L284.2 107.1" stroke="#000" stroke-width="1.1700000000000002" />
<text x="280.6" y="109.5" font-size="6.6" text-anchor="end" fill="#222" >200</text>
<path d="M283.6 165L323.3 165" stroke="#000" stroke-width="1.3" />
<g fill="#ece86a" stroke="#8a8420" stroke-width="0.75"><circle cx="291.3" cy="141.8" r="1.65"/><circle cx="294.1" cy="121.6" r="1.65"/><circle cx="299.5" cy="122.8" r="1.65"/><circle cx="300.1" cy="137.8" r="1.65"/><circle cx="290.6" cy="123" r="1.65"/><circle cx="292.6" cy="128.5" r="1.65"/><circle cx="290.3" cy="126.8" r="1.65"/><circle cx="296.8" cy="137.3" r="1.65"/><circle cx="296.8" cy="121.6" r="1.65"/><circle cx="301.4" cy="131.4" r="1.65"/><circle cx="295" cy="126.9" r="1.65"/><circle cx="295" cy="130.5" r="1.65"/><circle cx="288.8" cy="121.6" r="1.65"/><circle cx="288.8" cy="129.3" r="1.65"/><circle cx="298.4" cy="134.5" r="1.65"/><circle cx="289.9" cy="136.1" r="1.65"/><circle cx="298.2" cy="129.1" r="1.65"/><circle cx="295.3" cy="124" r="1.65"/><circle cx="301.5" cy="124.9" r="1.65"/><circle cx="298.4" cy="125.6" r="1.65"/><circle cx="292" cy="121.8" r="1.65"/><circle cx="300.6" cy="129.2" r="1.65"/><circle cx="290.4" cy="132.6" r="1.65"/><circle cx="296.7" cy="127.8" r="1.65"/></g>
<path d="M289.1 128.6L300.9 128.6" stroke="#000" stroke-width="1.2" />
<path d="M295 130.3L295 126.9" stroke="#000" stroke-width="0.9" />
<path d="M292.5 130.3L297.5 130.3" stroke="#000" stroke-width="0.9" />
<path d="M292.5 126.9L297.5 126.9" stroke="#000" stroke-width="0.9" />
<g fill="#5cb06c" stroke="#1f6534" stroke-width="0.75"><circle cx="311.3" cy="125.9" r="1.65"/><circle cx="318.4" cy="108.5" r="1.65"/><circle cx="309.4" cy="117.5" r="1.65"/><circle cx="320.1" cy="124.2" r="1.65"/><circle cx="314.3" cy="115.8" r="1.65"/><circle cx="319.2" cy="119.4" r="1.65"/><circle cx="317.6" cy="122.1" r="1.65"/><circle cx="312.9" cy="120.6" r="1.65"/><circle cx="310.3" cy="123.2" r="1.65"/><circle cx="316.9" cy="116.9" r="1.65"/><circle cx="316.5" cy="125.9" r="1.65"/><circle cx="314.8" cy="118.7" r="1.65"/><circle cx="307.4" cy="125.9" r="1.65"/><circle cx="319.4" cy="114.8" r="1.65"/><circle cx="307.8" cy="121.8" r="1.65"/><circle cx="311.8" cy="114" r="1.65"/><circle cx="312.1" cy="117.3" r="1.65"/><circle cx="307.6" cy="115.9" r="1.65"/><circle cx="309.8" cy="120.3" r="1.65"/><circle cx="313.7" cy="125.9" r="1.65"/><circle cx="316.4" cy="114.1" r="1.65"/><circle cx="307.8" cy="118.1" r="1.65"/><circle cx="309.5" cy="114.4" r="1.65"/><circle cx="314.1" cy="111.8" r="1.65"/></g>
<path d="M307.9 118.9L319.7 118.9" stroke="#000" stroke-width="1.2" />
<path d="M313.8 120.3L313.8 117.4" stroke="#000" stroke-width="0.9" />
<path d="M311.3 120.3L316.3 120.3" stroke="#000" stroke-width="0.9" />
<path d="M311.3 117.4L316.3 117.4" stroke="#000" stroke-width="0.9" />
<text x="308" y="105" font-size="9.4" font-weight="bold" text-anchor="middle" textLength="28.4" lengthAdjust="spacingAndGlyphs" >CD276</text>
<path d="M347.5 106.5L347.5 165.6" stroke="#000" stroke-width="1.3" />
<path d="M345.3 165L347.5 165" stroke="#000" stroke-width="1.1700000000000002" />
<text x="343.9" y="167.4" font-size="6.6" text-anchor="end" fill="#222" >120</text>
<path d="M345.3 150.5L347.5 150.5" stroke="#000" stroke-width="1.1700000000000002" />
<text x="343.9" y="152.9" font-size="6.6" text-anchor="end" fill="#222" >140</text>
<path d="M345.3 136.1L347.5 136.1" stroke="#000" stroke-width="1.1700000000000002" />
<text x="343.9" y="138.4" font-size="6.6" text-anchor="end" fill="#222" >160</text>
<path d="M345.3 121.6L347.5 121.6" stroke="#000" stroke-width="1.1700000000000002" />
<text x="343.9" y="124" font-size="6.6" text-anchor="end" fill="#222" >180</text>
<path d="M345.3 107.1L347.5 107.1" stroke="#000" stroke-width="1.1700000000000002" />
<text x="343.9" y="109.5" font-size="6.6" text-anchor="end" fill="#222" >200</text>
<path d="M346.9 165L393.3 165" stroke="#000" stroke-width="1.3" />
<g fill="#fff" stroke="#444" stroke-width="0.75"><circle cx="359.7" cy="159.2" r="1.65"/><circle cx="366.9" cy="141.8" r="1.65"/><circle cx="358.8" cy="149.8" r="1.65"/><circle cx="366.1" cy="154.2" r="1.65"/><circle cx="354.8" cy="150.8" r="1.65"/><circle cx="360.6" cy="146.9" r="1.65"/><circle cx="363.5" cy="148.8" r="1.65"/><circle cx="362.4" cy="152.3" r="1.65"/><circle cx="358.2" cy="144.5" r="1.65"/><circle cx="355.7" cy="147.9" r="1.65"/><circle cx="366.9" cy="146.6" r="1.65"/><circle cx="365.9" cy="150.9" r="1.65"/><circle cx="364" cy="146.2" r="1.65"/><circle cx="357" cy="151.8" r="1.65"/><circle cx="357.9" cy="148" r="1.65"/><circle cx="360.4" cy="151.1" r="1.65"/><circle cx="364.1" cy="151.2" r="1.65"/><circle cx="362.2" cy="157.1" r="1.65"/><circle cx="365.3" cy="147.6" r="1.65"/><circle cx="367.3" cy="149" r="1.65"/><circle cx="359.2" cy="153.5" r="1.65"/><circle cx="361.8" cy="151" r="1.65"/><circle cx="361" cy="149" r="1.65"/><circle cx="364.9" cy="148.8" r="1.65"/></g>
<path d="M355.1 149.9L366.9 149.9" stroke="#000" stroke-width="1.2" />
<path d="M361 151.1L361 148.8" stroke="#000" stroke-width="0.9" />
<path d="M358.5 151.1L363.5 151.1" stroke="#000" stroke-width="0.9" />
<path d="M358.5 148.8L363.5 148.8" stroke="#000" stroke-width="0.9" />
<g fill="#6a88c0" stroke="#25376a" stroke-width="0.75"><circle cx="383.9" cy="143.3" r="1.65"/><circle cx="378.6" cy="108.5" r="1.65"/><circle cx="383.3" cy="134.6" r="1.65"/><circle cx="381" cy="128.7" r="1.65"/><circle cx="384.8" cy="121.1" r="1.65"/><circle cx="374.7" cy="122.5" r="1.65"/><circle cx="380.4" cy="122.8" r="1.65"/><circle cx="382.7" cy="122.7" r="1.65"/><circle cx="382.5" cy="113.8" r="1.65"/><circle cx="377.4" cy="137.7" r="1.65"/><circle cx="385.2" cy="130.2" r="1.65"/><circle cx="376.3" cy="118.3" r="1.65"/><circle cx="373.7" cy="135.8" r="1.65"/><circle cx="376.3" cy="130.5" r="1.65"/><circle cx="383" cy="108.5" r="1.65"/><circle cx="378.8" cy="114.6" r="1.65"/><circle cx="377.9" cy="121.5" r="1.65"/><circle cx="385.1" cy="124.5" r="1.65"/><circle cx="377.4" cy="126.4" r="1.65"/><circle cx="382" cy="132" r="1.65"/><circle cx="373.5" cy="131.5" r="1.65"/><circle cx="378.6" cy="132.8" r="1.65"/><circle cx="376.3" cy="134.4" r="1.65"/><circle cx="376.6" cy="124.1" r="1.65"/></g>
<path d="M373.9 125.9L385.7 125.9" stroke="#000" stroke-width="1.2" />
<path d="M379.8 128.6L379.8 123.2" stroke="#000" stroke-width="0.9" />
<path d="M377.3 128.6L382.3 128.6" stroke="#000" stroke-width="0.9" />
<path d="M377.3 123.2L382.3 123.2" stroke="#000" stroke-width="0.9" />
<text x="372.4" y="105" font-size="9.4" font-weight="bold" text-anchor="middle" textLength="28.4" lengthAdjust="spacingAndGlyphs" >CD279</text>
<path d="M296.5 47V42.5H306" fill="none" stroke="#888" stroke-width="0.8"/>
<text x="301.8" y="41.9" font-size="9" font-weight="bold" text-anchor="middle" >**</text>
<path d="M360.5 51V43.5H369" fill="none" stroke="#888" stroke-width="0.8"/>
<text x="365.2" y="42.9" font-size="9" font-weight="bold" text-anchor="middle" >**</text>
<path d="M294.5 119V114H304" fill="none" stroke="#888" stroke-width="0.8"/>
<text x="299.8" y="113.4" font-size="9" font-weight="bold" text-anchor="middle" >**</text>
<path d="M358.5 138V125H368" fill="none" stroke="#888" stroke-width="0.8"/>
<text x="363.8" y="124.4" font-size="9" font-weight="bold" text-anchor="middle" >**</text>
<text x="265.9" y="94" font-size="9.0" font-weight="bold" text-anchor="middle" textLength="104" lengthAdjust="spacingAndGlyphs" transform="rotate(-90 265.9 94)" >Mean intensity expression</text>
<clipPath id="c16"><rect x="407.9" y="1.9" width="44.6" height="45.1"/></clipPath><g clip-path="url(#c16)">
<rect x="407.9" y="1.9" width="44.6" height="45.1" fill="#d4d0d6" />
<g filter="url(#bl)">
<path d="M438.6 22.2h0M421.5 15.7h0M426.9 6h0M440.2 8.8h0M433.9 44.6h0M444.8 39.4h0M415.5 38.8h0M407.5 11.5h0M419.7 32.8h0M452.7 10.9h0M430.1 14.4h0M440.6 1.4h0M449.1 15h0M415.2 39.8h0M440.9 38h0M447.9 22.3h0M426.9 38.2h0M429.9 12.4h0M435.5 21.5h0M442.4 42h0M443.8 4.1h0M432.6 21.9h0M409 14.5h0M407.2 34.2h0M416.8 9.3h0M447.2 13.6h0M438.9 32.2h0M436.4 4.5h0M417 39.7h0M425.1 15.1h0M430 2.5h0M440 37.3h0M451.9 15.8h0M439.1 45.1h0M447 22.6h0M451.4 26.5h0M433.2 28h0M415.6 19.3h0M430.4 38h0M433 17.2h0M452.1 4.6h0M415.1 17.3h0M452.5 22.9h0M425.6 39.7h0M417.7 38.6h0M410.4 28.9h0M450.7 29.3h0M418.3 10.9h0M444.4 13.4h0M450.2 21.1h0M411.6 35.2h0M441.3 32.5h0M407.4 18.3h0M429.8 44h0M411.3 21.2h0M423.2 30.4h0M428 15.9h0M429.4 26.5h0M408.8 16h0M418.7 14h0M423.5 13.9h0M424 33.1h0M417.8 45.8h0M410.5 14.8h0M440.7 31.7h0M421.1 14.3h0M440.2 18.6h0M444.4 43.7h0M414 32.6h0M417.8 27.5h0" stroke="#a8a4cc" stroke-width="3.6" stroke-linecap="round" opacity="0.8"/>
<path d="M448.6 30.8h0M447.7 16.9h0M420.2 26.4h0M423.7 25.6h0M418.7 10.7h0M435.3 6.2h0M417.6 5.2h0M439 8.3h0M419.7 41.3h0M431.2 22.9h0M422.2 25.2h0M443.1 17.9h0M413.3 9.6h0M439.6 23.4h0M450.2 11.3h0M440.2 19.3h0M420 34.7h0M421.8 11.3h0M427.8 20.9h0M410.8 47.3h0M425.5 18h0M412.8 7.8h0M415.5 4.3h0M432.5 31.3h0M446.5 13.2h0M444.4 36.1h0M409.6 10.2h0M416.3 41.9h0M441.7 3.9h0M418.2 8.5h0M436.1 21.1h0M450.9 40.3h0M420.2 13.7h0M430.3 20h0M443.9 10h0M447.3 28.6h0M425.2 46.5h0M423.1 37.2h0M451.8 42.9h0M452.7 21.8h0M443 40.2h0M420.8 22.2h0M449.8 37.7h0M421.1 37.4h0M412.3 19.4h0M433.6 15.4h0M407.4 28h0M435.5 32.1h0M414.7 4.2h0M409 26.5h0M408.6 10.5h0M430.1 18.6h0M438.8 7.2h0M431 20.8h0M416 43.7h0M450.3 46.3h0M418.6 2h0M439.4 43.3h0M423.1 14.9h0M444.5 26.9h0M434.5 34.4h0M431.2 39.5h0M432.8 35.7h0M407.4 23.6h0M449 23.8h0M439.1 25.9h0M450.3 4.5h0M420.1 8.7h0M447.5 46.8h0M415.8 14.4h0M418.4 29.4h0M440 12.9h0M445.4 22.2h0M430.1 18.1h0M428.1 2.5h0M408.7 46.5h0M420.4 17.4h0M452.5 15.5h0M411.2 41.9h0M425.5 31.4h0M420.8 6.9h0M417.1 37h0M432 32.1h0M440.9 27.9h0M438.6 10h0M415.5 21.5h0M446.1 11.4h0M443.2 39.9h0M441.2 6h0M412.9 39h0" stroke="#e8e4e6" stroke-width="3.0" stroke-linecap="round" opacity="0.85"/>
<path d="M417.1 2h0M434.1 33.7h0M445.3 34.5h0M434.7 17.9h0M450.1 13.5h0M428 6.1h0M433.7 33.2h0M430.9 18.5h0M409 30.8h0M408.9 36.6h0M435.7 41.5h0M437.7 36.8h0M420 45.2h0M434.2 26.7h0M424.8 40.6h0M436.4 27h0M435.5 37.9h0M453 10.2h0M451.7 14.3h0M427.2 35.5h0M444.8 17h0M421.2 25.9h0M429.3 19.8h0M420.9 1.4h0M450.3 17.4h0M449.5 30.4h0M412 9.3h0M424.3 10.2h0M411.8 37h0M429.8 8.1h0M430.9 32.9h0M445.9 21.4h0M416.8 2.7h0M434.4 25.7h0M453.2 12.6h0M409.4 25.9h0M439.3 11.9h0M419.7 9.8h0M446.3 28h0M419.7 17.8h0M418.8 2h0M445.6 37.1h0M421.6 17.1h0M450.3 13.3h0M439.6 44.1h0M421.1 37.8h0M421.7 47h0M413.6 9.1h0M439.4 17.1h0M428.2 41.3h0" stroke="#9490bc" stroke-width="2.2" stroke-linecap="round" opacity="0.8"/>
<path d="M414.3 11.5h0M435.6 12h0M428 11.2h0M436.5 31.7h0M409.2 38h0M450.6 15.1h0M443.6 15.4h0M448.8 45.9h0M439.8 20.2h0M423 9.6h0M448 44.8h0M439.9 44.1h0M422.5 4.8h0M429.2 48h0M434.6 40.3h0M437.2 20.3h0M429.6 12.3h0M425.1 46.1h0M449.8 29.8h0M439.8 16.2h0M436.9 43.4h0M410.4 46.8h0M415 3.1h0M408 20h0M441.3 12.3h0M450.9 37h0M413.4 37.7h0M416.8 34.4h0M409.2 38.6h0M423.2 33.3h0M410.2 24.4h0M424.9 7.8h0M426.6 46.7h0M408.6 46.2h0M422.8 38.8h0M444.8 28.3h0M435.7 46.6h0M427.6 39h0M429.4 16.2h0M453.3 7.5h0M451.3 35.9h0M415.1 42.7h0M408.7 34.8h0M451.7 36.8h0M449.7 33.7h0M440.9 43.6h0M450.2 18.2h0M415 18.8h0M411.8 43.5h0M426.9 46.9h0M412 22.4h0M435 18.3h0M440 13.4h0M408.3 42.7h0M432 16.2h0M443.5 5.8h0M421 24.1h0M446.8 28.5h0M428.4 30.4h0M450.3 18.5h0M415.6 26.3h0M413.2 12.4h0M437.6 22.1h0M415.2 1h0M452.2 40.6h0M436.5 27.2h0M429.2 46.5h0M453.1 45.5h0M437.1 31.9h0M450.1 11.8h0" stroke="#d8c8b8" stroke-width="2.6" stroke-linecap="round" opacity="0.8"/>
<path d="M429.9 27.7h0M422 28.7h0M434.1 44.4h0M428.4 20.1h0M432.5 1h0M408.3 2.2h0M447.8 41.7h0M442.2 13.1h0M435.5 8h0M432 25.7h0M438.5 6.6h0M450.1 28.6h0M453.4 5.3h0M440.8 39.4h0M453.2 12h0M422.1 42.9h0M439.5 6.1h0M435.2 14.9h0M444.2 5.9h0M440.6 19.8h0M414.3 12.8h0M444.1 45.5h0M451.9 2.8h0M448 30.4h0M425.1 2.7h0M440.3 26.1h0M417 26.1h0M410.6 45.3h0M446.4 35.4h0M453.2 9.3h0M429.5 45.9h0M449 31.1h0M412.1 24.2h0M432.7 26.2h0M420.3 11.3h0M421 12.5h0M451.8 8.8h0M416.5 47.2h0M412.9 2.5h0M425.2 27.1h0M437.5 41.8h0M449.6 1.6h0M444.2 11.2h0M435.3 39.7h0M412.6 26.4h0M450.3 20.2h0M436.7 37h0M423.9 6h0M439.2 1.9h0M450.1 23.6h0M432.7 7.6h0M431.9 21.6h0M437.3 5.3h0M420.3 26.4h0M442.9 32.1h0M408.1 45.2h0M425.3 30.9h0M452.8 40.3h0M423.7 12.9h0M430.6 24.5h0M413.2 29.6h0M446.2 9.3h0M435.7 26.2h0M416.8 41.2h0M413.3 37.7h0M410.3 42.8h0M419.6 33.7h0M437.9 32.6h0M442.8 13.7h0M427.4 28.8h0" stroke="#bcb4cc" stroke-width="2.0" stroke-linecap="round" opacity="0.8"/>
<path d="M440.1 20.2h0M423.4 30.3h0M411.2 26.3h0M425.6 33.1h0M422.2 3.6h0M439.4 16h0M410.2 3h0M451.2 24.6h0M413.4 3.9h0M432.9 21.4h0M409.1 26.5h0M430.6 28.2h0M412 1.2h0M436 1h0M430.6 19.2h0M447.3 25.8h0M413.8 7.7h0M445.1 11.8h0M434.6 17.4h0M421.1 18.2h0M435.8 17.9h0M422.5 17.8h0M446.5 46.9h0M442.4 36.7h0M424.6 35.2h0M438.2 47.4h0M418.1 1h0M430.8 34.2h0M421.7 46.7h0M416.1 31.2h0M446.6 47.3h0M424.9 35.3h0M413.6 24.5h0M413.2 37.5h0M431.8 3.6h0M452.3 24.1h0M446.7 44.1h0M434.3 21.6h0M438.6 24.4h0M415.4 1h0" stroke="#f6f4f4" stroke-width="1.6" stroke-linecap="round" opacity="0.9"/>
</g>
</g>
<rect x="408.8" y="2.8" width="42.7" height="43.2" fill="none" stroke="#000" stroke-width="1.9" />
<rect x="410.8" y="4.8" width="40.2" height="6.2" fill="#fff" stroke="#444" stroke-width="0.5" />
<text x="430.9" y="10" font-size="6.0" font-weight="bold" text-anchor="middle" fill="#1a1a1a" textLength="38.4" lengthAdjust="spacingAndGlyphs" >CD270<tspan dy="-2.1" font-size="3.6">+</tspan><tspan dy="2.1"> </tspan>FL cells</text>
<rect x="410.8" y="39.4" width="40.2" height="6.4" fill="#fff" stroke="#444" stroke-width="0.5" />
<text x="430.9" y="44.8" font-size="6.0" font-weight="bold" text-anchor="middle" fill="#1a1a1a" textLength="38.4" lengthAdjust="spacingAndGlyphs" >Pre-transformation</text>
<clipPath id="c17"><rect x="455.6" y="1.9" width="44.6" height="45.1"/></clipPath><g clip-path="url(#c17)">
<rect x="455.6" y="1.9" width="44.6" height="45.1" fill="#a09484" />
<g filter="url(#bl)">
<path d="M490.2 44.1h0M487.9 26h0M493.7 16.5h0M467.7 37.9h0M495.8 27.2h0M479.2 29.9h0M472.7 20.9h0M457.8 28.6h0M492.1 17.5h0M487.3 35.4h0M486.6 9.1h0M475.4 29.3h0M495.7 1.9h0M459.4 10h0M491.5 8.3h0M479.5 15.1h0M486.9 21h0M467.3 25.9h0M496.2 41.5h0M479.5 34.6h0M497.6 34.3h0M483.4 37.2h0M459.9 27.8h0M466.8 24.4h0M458.6 14.4h0M478.7 39.2h0M500.2 46.8h0M483.6 39h0M472.8 6.6h0M468.9 32.8h0M480.8 6.2h0M464.7 33.2h0M498.4 21.9h0M478.8 43.1h0M489.1 32.6h0M479.9 39.4h0M469.8 3.4h0M492.4 32.9h0M459.3 45.2h0M476.2 22.4h0M458.3 7.9h0M492.2 34.2h0M481.2 25.9h0M471.2 38h0M500.2 5h0M467 37.3h0M486.7 37.7h0M461 20.2h0M476.5 2h0M481 8.7h0M477.9 37h0M458.9 45h0M489.4 18h0M459 33.3h0M474.7 47.8h0M476.5 29.8h0M470.4 7.9h0M473.7 11.2h0M478.2 12.6h0M488.4 41.3h0M486.2 14.3h0M457.1 36.3h0M473.2 46.9h0M460.2 29.9h0M494.6 15.5h0M472.9 13.1h0M455.3 46.2h0M473.3 39.8h0M454.8 43.3h0M477.4 40h0M468.8 11.9h0M476.1 20.2h0M470.1 9.2h0M456 1.8h0M461.4 10.5h0M493.5 32.2h0M480.7 4.3h0M469.3 45.7h0M496.3 43.2h0M471.4 31.5h0M466.3 31.2h0M479.4 28.6h0M457.1 11.8h0M467.8 25.3h0M469.1 18.6h0M477.7 27.4h0M471.3 17.2h0M481.3 30.4h0M489.1 30.5h0M460.2 17.6h0M484.4 34.5h0M496.8 35.3h0M482.5 29.7h0M467.1 28h0M471.6 16.6h0M464.9 45.9h0M499.7 15.3h0M478.6 4.1h0M493.2 13.5h0M494.3 11.9h0" stroke="#78a4d8" stroke-width="3.2" stroke-linecap="round" opacity="0.85"/>
<path d="M478.5 33.4h0M482.4 43.6h0M488.8 23.5h0M472.8 19.6h0M475.8 39.8h0M456 15.2h0M487.2 6h0M491.9 17.5h0M495.8 12.1h0M490.6 41.3h0M469.8 27.5h0M490.7 45.3h0M481.3 43h0M496.1 46.6h0M464.2 22.4h0M483.2 29.7h0M459.4 28h0M497.5 26.4h0M463 15.4h0M497 20.7h0M458.5 14.3h0M481.3 8.6h0M477.5 23.7h0M485.6 14h0M463.4 22.8h0M463.1 27.3h0M472.9 41h0M463.2 25.8h0M467.6 7.4h0M460.9 27.2h0M478.8 30h0M486.3 4.5h0M499.8 45.1h0M466.7 8.9h0M491.6 4.9h0M484.5 15.5h0M499.6 7.2h0M477.5 6.8h0M460.6 34.6h0M491.3 8.2h0M500.9 8h0M468.4 12.6h0M466.4 29h0M455.1 38.9h0M492.6 45.9h0M484.8 7.1h0M468 7h0M498.1 29.4h0M487.9 37h0M489.6 46.5h0M463.1 18.1h0M476.6 29.7h0M477.9 12.7h0M469.3 32.6h0M458.1 39.8h0M458.7 20.9h0M495.3 9.6h0M478.8 10.7h0M459.9 29.7h0M496.5 20.2h0M497.3 16.2h0M486.2 41.8h0M462.9 35.3h0M467.7 19.6h0M461.3 43.2h0M468.1 19.7h0M494 20.1h0M481.5 28.6h0M491.3 22h0M495.8 11.7h0M500.9 1.4h0M492.5 25.3h0M495.4 8.4h0M458.8 37.2h0M473.9 13.9h0M494 29.1h0M464.3 28.1h0M482.5 3.2h0M479 29.1h0M463.3 43.2h0M472.1 27.3h0M469.4 21.3h0M500.3 18.9h0M476.4 13h0M473.6 14.3h0M499.4 45h0M461.3 37.2h0M496.3 32.4h0M498.4 13.7h0M497.2 37.7h0" stroke="#8a5a30" stroke-width="2.6" stroke-linecap="round" opacity="0.85"/>
<path d="M486.3 22.7h0M488.3 45.4h0M462.9 2.2h0M484.3 4h0M496.5 41h0M501 7.1h0M474.6 3.9h0M487.3 6.3h0M459.7 10.5h0M462.1 41.9h0M497.5 33.9h0M487.2 21.3h0M464.1 10h0M458.4 5.1h0M467.8 26.9h0M457.9 27.4h0M477.9 15.3h0M458.3 19.9h0M494.3 35.7h0M487.7 15.1h0M462.6 37.2h0M458.6 22.7h0M471.4 9.9h0M457 15.1h0M481.3 24.5h0M492.5 31h0M499.5 11.5h0M468.8 17.5h0M461.3 14.1h0M477.9 19.2h0M468.2 37.5h0M488.6 44.3h0M479.9 28.3h0M482.4 44.4h0M469.9 41.1h0M478.2 37.1h0M491.1 14.6h0M482.3 22.2h0M462.3 18.9h0M499.1 16.8h0M460.7 33.2h0M476.6 29.6h0M460.5 25.6h0M475.5 27.9h0M476.7 26.9h0M500.7 6.3h0M457.1 17.4h0M460.2 2.5h0M489.5 40.3h0M454.9 9.7h0M464.5 18.8h0M500.8 4.6h0M472.7 25.8h0M464 16.8h0M487.4 33h0M491.7 33.8h0M470.2 7.3h0M455.4 32.3h0M491.7 34h0M482.7 20.1h0M456.8 22h0M459.8 14.8h0M490.3 28.5h0M496.2 41.4h0M488.2 45h0M461.7 35.8h0M484.1 26.8h0M460.2 24.4h0M496.8 34.5h0M497.9 37.6h0" stroke="#d8ccc0" stroke-width="2.4" stroke-linecap="round" opacity="0.8"/>
<path d="M457.7 19.8h0M494 34.8h0M477.4 22.3h0M472.9 18.2h0M471.1 23.1h0M482.1 8.2h0M462.5 30.6h0M481.3 24h0M478.8 17.6h0M501.1 14.9h0M479.4 15h0M482.6 15.3h0M474.3 3.2h0M470.4 22.3h0M483.3 37.3h0M457 16.1h0M465.9 22.6h0M496.9 44.7h0M488.3 44.9h0M477.9 30h0M460.9 35h0M467 27h0M465.4 25h0M473 42.3h0M479 37h0M466.6 24.7h0M479.2 15.5h0M473.9 1.9h0M461.6 16.5h0M486.3 28.3h0M487.8 5.2h0M464.8 44.6h0M461 9.1h0M480.5 22.6h0M495.3 41.2h0M481.8 22.1h0M475.3 47.4h0M459.8 23.6h0M490.2 32.5h0M459.1 39.2h0M497.8 36h0M462.6 43.2h0M461.3 1.6h0M487.3 33.4h0M491 25.8h0M457.9 2.7h0M484.7 36.7h0M470.7 36.9h0M472.2 22.4h0M486.6 33.3h0M484.8 7.4h0M486.7 37.7h0M489.6 30.6h0M482.2 12.4h0M501 46.7h0M466.7 31.8h0M489.7 23.2h0M468.1 17.5h0M461.9 38.7h0M478.8 48h0" stroke="#a8b4cc" stroke-width="2.4" stroke-linecap="round" opacity="0.8"/>
<path d="M464.5 47.2h0M484.8 26.8h0M459.6 4h0M477.8 6.6h0M484.1 12h0M497.5 31.4h0M456.9 41.4h0M486.4 11.1h0M472 32.7h0M496.2 19.7h0M492.3 45.2h0M499 30.1h0M492.9 4.4h0M487.8 41.1h0M470.8 40.9h0M470.9 40.2h0M470 27h0M483.6 6.6h0M458.5 17.3h0M474.7 31h0M499.4 45.3h0M460.5 34.3h0M460 4h0M459.3 43.1h0M487.6 25.4h0M481.5 30.4h0M459.5 23.3h0M496.9 2.4h0M487.7 4.3h0M479.5 9.2h0M458.1 3.9h0M474.5 46.7h0M461.4 21.7h0M468.9 18.1h0M464.8 19.6h0M500.3 7.5h0M493.3 38.3h0M476 33.5h0M480.3 47.6h0M457.1 36.6h0M492.8 31.7h0M499.9 3.4h0M483.1 36h0M458 26.1h0M492.7 32.5h0M472.4 39.4h0M497.2 11.7h0M466.2 39.6h0M489.8 21.1h0M500.8 46.9h0M482.3 18.8h0M458.7 1.5h0M472.9 21.3h0M458.6 11.5h0M494.9 36h0M471.3 5.9h0M498 43.5h0M490.2 33.1h0M486.5 13.6h0M480.6 1h0" stroke="#b88048" stroke-width="2.0" stroke-linecap="round" opacity="0.85"/>
<path d="M469.6 9.6h0M459.7 35h0M475.2 15.8h0M491 31.1h0M486 43.5h0M463.2 22.1h0M457.9 35.5h0M489.6 2.4h0M470.6 4.3h0M492.7 29.4h0M466.1 33.8h0M498 42.1h0M472.6 2h0M471.8 13.3h0M487.5 16.5h0M494.1 14h0M496.2 44.6h0M479.9 2.6h0M491.3 41.2h0M460.9 35.2h0M458.9 15.9h0M468.1 8.3h0M484.5 47.4h0M478.1 45.3h0M467 7h0M467.7 39.5h0M469.8 17.3h0M495.2 29.6h0M473.1 41.9h0M461.2 10.4h0M483.4 24.1h0M486.5 39.2h0M486.5 9.1h0M488.3 12h0M459 14.9h0M472.5 24.7h0M460.1 30.8h0M472.3 47.5h0M477 40.1h0M492.2 29.4h0" stroke="#4a3420" stroke-width="1.4" stroke-linecap="round" opacity="0.85"/>
</g>
</g>
<rect x="456.6" y="2.8" width="42.7" height="43.2" fill="none" stroke="#000" stroke-width="1.9" />
<rect x="458.8" y="4.8" width="36.6" height="6.2" fill="#fff" stroke="#444" stroke-width="0.5" />
<text x="477.1" y="10" font-size="6.0" font-weight="bold" text-anchor="middle" fill="#1a1a1a" textLength="34.8" lengthAdjust="spacingAndGlyphs" >CD270<tspan dy="-2.1" font-size="3.6">+</tspan><tspan dy="2.1"> </tspan>DLBCL</text>
<rect x="457.9" y="39.4" width="41.3" height="6.4" fill="#fff" stroke="#444" stroke-width="0.5" />
<text x="478.5" y="44.8" font-size="6.0" font-weight="bold" text-anchor="middle" fill="#1a1a1a" textLength="39.5" lengthAdjust="spacingAndGlyphs" >Transformation</text>
<clipPath id="c18"><rect x="407.9" y="110.9" width="44.6" height="45.1"/></clipPath><g clip-path="url(#c18)">
<rect x="407.9" y="110.9" width="44.6" height="45.1" fill="#d2d6de" />
<g filter="url(#bl)">
<path d="M437.8 113.9h0M449.3 155.5h0M449.8 113.7h0M416.9 124.8h0M415 122h0M411.4 137.5h0M447.6 125.7h0M445.8 150.7h0M433.6 150.6h0M418.7 138.7h0M436.9 110.1h0M452.9 122.2h0M431 147.1h0M429.2 115.8h0M453 150.8h0M429.9 125.1h0M407.2 124.6h0M452.6 145.5h0M413.8 140.5h0M410.9 133.1h0M451.3 111.2h0M430.3 155.5h0M411.5 131.1h0M444.2 149.6h0M431.8 137.1h0M432.1 141.6h0M452.5 141h0M417.4 120.8h0M429.8 141.3h0M443.9 122.8h0M415.8 114.1h0M442.3 111.3h0M407.4 130.7h0M444.5 156.1h0M419.3 126.4h0M412 116.2h0M416 147.3h0M440 142.8h0M443 119.4h0M452 134.9h0M419.3 147.8h0M418.5 110.7h0M442.3 115.9h0M453.1 149.5h0M422.5 155.4h0M434.5 135.5h0M420.1 152.3h0M435.5 123.5h0M421.4 124h0M422.2 154h0M433.8 139.4h0M441.6 112.8h0M435 146.8h0M410.7 153.8h0M429.8 110.7h0M452.3 129.1h0M445.4 156h0M408.5 122.8h0M429.8 124h0M440.1 127h0M429.2 129.3h0M443.1 135.4h0M424.9 151h0M427.4 156.6h0M413 114.3h0M439.4 151.8h0M409.3 126h0M440.9 143.9h0M432.7 142.2h0M447.5 137.2h0M424.5 119.7h0M422.5 148.4h0M446.9 127h0M417.8 156h0M409.4 128.2h0M425.9 142.8h0M408.8 142h0M408.7 119.6h0M427.5 146h0M415.9 140.7h0" stroke="#a06a40" stroke-width="3.6" stroke-linecap="round" opacity="0.85"/>
<path d="M408 117.3h0M421.2 113.5h0M444.5 137h0M445.5 131.9h0M432.9 111.2h0M450.4 124.7h0M436.8 149.9h0M425.9 126.1h0M442.5 147.8h0M449.3 128.9h0M422.7 133.7h0M434.6 141.6h0M445.5 139.6h0M418.7 146.4h0M443 149.3h0M411.5 128.8h0M446.6 128.3h0M414.4 111.7h0M439.7 111.3h0M423 131.5h0M414.8 131.4h0M441.2 113.3h0M422 141.4h0M435.8 136.4h0M420.1 126.6h0M450.4 132.6h0M420.3 132.1h0M412.3 136.8h0M450.8 140.5h0M407.1 149.6h0M416.1 111.6h0M419.9 135h0M407 156.5h0M425.9 110.3h0M438.7 156h0M408 117.4h0M412.3 127.1h0M424.7 111.4h0M451.7 146h0M420.1 139.6h0M429.2 147.6h0M418.1 154.9h0M441 139.4h0M433.3 140.6h0M408 151.8h0M429.6 119.2h0M423.6 143.9h0M443.5 120.1h0M424.8 156.5h0M409.9 128.4h0M451.3 143.9h0M431.1 131.1h0M410.2 145.3h0M422.7 113.4h0M452 114h0M428.7 142.6h0M432.2 128.5h0M441.3 121.4h0M439.6 129.7h0M451.9 150.1h0M417.3 151.9h0M427.6 126h0M413.8 118.1h0M408.6 120.3h0M425 142.1h0M449.1 142.4h0M451.8 154.4h0M447.3 123.5h0M408.9 137.8h0M424 156.1h0M408.1 154.4h0M420.1 141.9h0M440.8 132.5h0M442.9 149.5h0M412.7 148.3h0M452.8 148.7h0M434.5 138.1h0M411.5 136.3h0M420.7 120.9h0M450.3 122.1h0" stroke="#bcd2ea" stroke-width="2.8" stroke-linecap="round" opacity="0.85"/>
<path d="M416.1 150.3h0M431.8 151.2h0M415 152.4h0M426.4 151.6h0M435.4 125.9h0M423.5 115.1h0M432.7 113.3h0M449.1 122h0M421.8 128.1h0M429.2 153.5h0M410.5 126.5h0M432.1 134.2h0M447.6 135.4h0M438 141.4h0M424.3 130.7h0M416.7 115.2h0M451.6 141.7h0M412.4 149.6h0M426 129.4h0M443.7 123.9h0M438.7 146.7h0M438.1 117.7h0M412.5 145.4h0M435.3 127h0M450.6 135.9h0M453 118.5h0M445.5 156.3h0M414.8 119.4h0M428.9 124.9h0M434.3 114.9h0M408.6 114.4h0M412 126h0M443.6 137.3h0M414.5 138h0M452.8 155.2h0M413.3 142.8h0M410.9 150.6h0M422 139.6h0M449.5 131.1h0M421.7 112.6h0M438.1 141.6h0M438.6 113.8h0M422.7 122.8h0M414.2 115.1h0M417.5 150.4h0M447.3 138.6h0M421.9 125.4h0M448.9 116.4h0M412.3 154.5h0M419.6 154.9h0M420.6 114.6h0M421.8 150.4h0M446.9 138.6h0M431.6 130.6h0M423 154.1h0M425.2 115h0M434.2 127.6h0M421.7 154.4h0M437.9 131.8h0M449.9 118.6h0M415.3 155.7h0M412.1 144.8h0M420.3 114.9h0M451 143.8h0M421.9 119.8h0M440.3 145.4h0M420.7 111.7h0M423.3 135.6h0M421.1 146.1h0M428.9 120.1h0" stroke="#f4f2f0" stroke-width="2.4" stroke-linecap="round" opacity="0.9"/>
<path d="M432.2 116.4h0M439.9 155.8h0M417.7 118.2h0M433.9 121.4h0M412.1 133.6h0M415.6 142h0M430.4 120.4h0M449.2 135.6h0M443.7 146.9h0M418.8 120.4h0M420.4 134h0M441.3 115.7h0M419.1 110.7h0M444.2 153.7h0M434.5 137.5h0M426.9 125.3h0M424.4 109.9h0M417.8 132.4h0M422.7 138.9h0M414 128h0M450.2 120.2h0M452.9 110h0M452.1 155.6h0M449.5 156.8h0M452.4 133.5h0M444.8 118.4h0M445 117.9h0M446.9 146.1h0M438.8 146.5h0M422.1 148h0M449.9 140h0M438.7 121h0M425.6 143.5h0M434.3 135.7h0M413.2 110.6h0M429.3 148.6h0M453.1 116.6h0M452.6 123.1h0M452.3 129.4h0M444.2 136.8h0M436.8 113h0M413.1 152.6h0M409.5 138.8h0M451.2 139.9h0M433.7 143.2h0M443.6 123.6h0M412.2 124.4h0M436.2 120.1h0M423.3 131.8h0M422.8 140.4h0M450.6 135.2h0M444.2 120.9h0M448.5 150.3h0M412.1 110.7h0M426.4 121.6h0M407.3 117.6h0M445.2 133h0M436.6 133.3h0M411.9 156.3h0M450.6 130.9h0M451.9 141.6h0M426.4 115.4h0M452.9 111.7h0M426.4 125.2h0M440.9 128h0M409.5 128.3h0M408.2 137.6h0M450.4 141.2h0M451.6 136.5h0M432.8 136.8h0" stroke="#c08858" stroke-width="2.4" stroke-linecap="round" opacity="0.85"/>
<path d="M408 124.7h0M428.7 135.3h0M448.8 143.2h0M422.6 156.3h0M435.3 113.3h0M431.2 123.8h0M425.5 138.7h0M446 144h0M451.1 136.8h0M412.1 137.5h0M447.7 125.5h0M452.3 113.2h0M435.4 120.5h0M434.3 121.1h0M431.6 118.7h0M450 153.3h0M430.8 117.9h0M432.5 119.5h0M450 149.6h0M412.6 116.7h0M436.8 122h0M412.6 118.1h0M408.7 150.6h0M413.3 113.3h0M420 111.1h0M443.4 145.9h0M431.8 156.2h0M449.9 137.2h0M414.3 145.2h0M407.2 154.9h0M443.6 141.7h0M412.7 147.9h0M443.5 154.3h0M427 127.5h0M447.7 129.9h0M438.2 145.4h0M416.5 136.5h0M444.5 156.1h0M418.5 125.8h0M428.4 117.7h0M407 141h0M441.5 129.6h0M413.3 128.9h0M412.6 139.3h0M410 122.8h0M409.4 133.6h0M449.7 142.1h0M412.6 116.4h0M438.1 114h0M434.5 111.6h0M411.6 151.5h0M425.6 125h0M409.2 144.3h0M432.7 143.6h0M411.4 127.9h0M421.8 110.3h0M427.1 134.7h0M430.2 143.9h0M427.9 132.1h0M415.3 129h0" stroke="#6a3a1c" stroke-width="1.8" stroke-linecap="round" opacity="0.85"/>
<path d="M417.7 130.2h0M437.4 132.5h0M417.5 145.3h0M413.2 149.1h0M448.1 119.4h0M415.3 136.2h0M408.7 134h0M429.8 147h0M415.7 145.2h0M410.5 134.3h0M426.5 127.4h0M429.4 125.7h0M439.8 141.4h0M407 129.9h0M420.8 140.8h0M445.6 146.7h0M448.8 153.5h0M432.4 110.8h0M440 151.4h0M449.4 130.2h0M412.6 133.2h0M414.1 123.8h0M415.3 149.5h0M451.9 148.8h0M434.3 151.4h0M449.5 129.8h0M424.5 123.9h0M415.8 148.3h0M421.9 129.1h0M447 137.9h0M408.7 139.1h0M411.4 133.4h0M418.3 146.6h0M433.4 131.2h0M442.2 152.5h0M426.3 142.8h0M414 154.7h0M410.6 140.5h0M424.9 114.6h0M412.9 128.6h0M413.8 134.6h0M453.2 145.8h0M447.8 131.3h0M415.4 111.8h0M433.3 129.1h0M438.5 124.5h0M420.1 139.9h0M449.3 131.1h0M442.8 111.1h0M430.6 151h0" stroke="#8a5a38" stroke-width="2.8" stroke-linecap="round" opacity="0.8"/>
</g>
</g>
<rect x="408.8" y="111.9" width="42.7" height="43.2" fill="none" stroke="#000" stroke-width="1.9" />
<rect x="413.7" y="113.8" width="36.5" height="6.2" fill="#fff" stroke="#444" stroke-width="0.5" />
<text x="431.9" y="119" font-size="6.0" font-weight="bold" text-anchor="middle" fill="#1a1a1a" textLength="34.7" lengthAdjust="spacingAndGlyphs" >CD279<tspan dy="-2.1" font-size="3.6">+</tspan><tspan dy="2.1"> </tspan>T cells</text>
<rect x="442.5" y="121" width="8" height="6.2" fill="#fff" stroke="#444" stroke-width="0.5" />
<text x="446.5" y="126.2" font-size="6.0" font-weight="bold" text-anchor="middle" fill="#1a1a1a" textLength="6.2" lengthAdjust="spacingAndGlyphs" >FL</text>
<rect x="410" y="147.4" width="41" height="6.4" fill="#fff" stroke="#444" stroke-width="0.5" />
<text x="430.5" y="152.8" font-size="6.0" font-weight="bold" text-anchor="middle" fill="#1a1a1a" textLength="39.2" lengthAdjust="spacingAndGlyphs" >Pre-transformation</text>
<clipPath id="c19"><rect x="455.6" y="110.9" width="44.6" height="45.1"/></clipPath><g clip-path="url(#c19)">
<rect x="455.6" y="110.9" width="44.6" height="45.1" fill="#b46e4e" />
<g filter="url(#bl)">
<path d="M455.8 146.5h0M474.9 113.9h0M484.4 156h0M471.9 116.1h0M479.3 112.7h0M500 139.6h0M476.8 113.4h0M472 109.9h0M460.9 132.7h0M468.5 132.3h0M486.3 112h0M498.5 139.4h0M480.2 111.7h0M499.1 127.8h0M465.9 142.9h0M477 119.6h0M459.3 151.2h0M492.4 155.6h0M486.3 130.3h0M497.3 113.2h0M475.8 150.7h0M479.7 147.5h0M490.8 123.7h0M499.2 111.4h0M490.3 110.4h0M460 111.6h0M463.4 136.4h0M474 136.7h0M496.7 125.6h0M457.6 152.3h0M500.3 155.4h0M496.9 135.6h0M459.4 153.5h0M499.1 126.8h0M462.9 112.4h0M473.4 120.8h0M470.7 126.1h0M491.9 129.2h0M462.4 137.9h0M477.2 113.4h0M476.5 123.6h0M466.5 152.2h0M501.2 133h0M496.2 129.8h0M494.9 133.9h0M468.9 124.8h0M496.6 150.8h0M497.9 153.4h0M466.1 111.3h0M486.5 137.6h0M470.2 121.5h0M488.5 146.4h0M461.4 125.3h0M469.7 123.1h0M490.2 110.7h0M470.2 147.3h0M457.9 130.2h0M499.9 155.8h0M487.4 146.7h0M483.6 129.2h0M456 132.8h0M454.8 114.2h0M478.6 152.1h0M473.1 134h0M460.7 138.9h0M497 156.2h0M457.1 121.1h0M476.3 132.2h0M497.3 143.8h0M482.3 118.1h0M486 133.4h0M486.5 109.9h0M472.5 125.2h0M473.5 133.8h0M491.4 134.7h0M464.2 132.7h0M481.2 112.2h0M481.8 136.4h0M484.6 141.6h0M489.9 114h0M469.3 122.7h0M484.1 151.8h0M471.6 146.8h0M455.3 121.8h0M479.8 152.1h0M488.7 151.9h0M499.5 122.6h0M498.3 117.5h0M481.5 119.5h0M459.7 125h0" stroke="#80402a" stroke-width="3.0" stroke-linecap="round" opacity="0.85"/>
<path d="M487.3 142.5h0M462 126.4h0M499.6 137.9h0M492.7 157h0M460 112.3h0M493 148.3h0M469.2 148h0M486.9 125.7h0M486.8 147h0M478.4 135.3h0M464 113.4h0M457.6 147.3h0M500.8 148.1h0M494.9 131.9h0M459.6 153h0M479.9 137.6h0M488.2 120.8h0M498.2 136.4h0M483 126.1h0M481.1 154.7h0M462.5 120.1h0M487.2 143.3h0M477.5 145.4h0M479.3 119.6h0M469 124.6h0M471.7 117.1h0M496.8 126h0M463.6 115.5h0M476.8 113.2h0M475.3 116.5h0M476.8 116.1h0M465.9 155h0M456.8 133.8h0M492.9 145.8h0M461.3 124.3h0M480.9 144.4h0M497.4 135.3h0M461 111.5h0M481.2 151.1h0M466.5 142.6h0M489.6 110h0M463.6 133h0M465.2 114.9h0M485 116.9h0M483.4 156.8h0M456.2 121.5h0M459.3 132.3h0M491.1 145.6h0M469.3 125.2h0M479.9 135.4h0M458.2 152.8h0M492 144.7h0M458.6 136h0M461.1 153.6h0M463.1 114.7h0M478.6 133.1h0M475.3 144.2h0M480.7 129.7h0M495.5 119.7h0M479.1 113.1h0M491.4 119.4h0M481 143h0M458.4 114.1h0M478 138.5h0M463.7 125.9h0M498.5 140.4h0M462.7 138.8h0M467 111.5h0M455 147.6h0M499.5 121h0M488.7 146h0M462 155.1h0M496 112.2h0M465.8 144.2h0M472.7 116.1h0M456 151.9h0M498.4 131h0M489.1 141.5h0M500.9 123.9h0M477 138.5h0M498.3 153.1h0M491 134.9h0M470.3 156.1h0M489.2 155.4h0M467.8 131.8h0M475.9 129.8h0M495.8 132.9h0M488.9 133.8h0M496.8 149.1h0M468.7 156.9h0M494.5 147.5h0M486.4 130.6h0M461.1 114.6h0M471.3 139.5h0M495.3 127.8h0M487.3 138h0M496.6 153.2h0M455.1 144.6h0M468.1 154.3h0M457.7 127.5h0M456.3 138.9h0M456.8 113.9h0M481.7 117.1h0M455 151.3h0M493.6 133.4h0M494.2 137.6h0M495.3 114.8h0M456.4 142h0M468.5 136.8h0M489.2 134h0" stroke="#ecd0c0" stroke-width="3.0" stroke-linecap="round" opacity="0.85"/>
<path d="M468.3 154.6h0M472.5 131h0M478.8 111.6h0M479.9 138.8h0M462.5 142.9h0M475.6 154.4h0M472.3 113.9h0M497.5 123.2h0M499.2 141.1h0M470.8 133.5h0M491.9 151.2h0M461 123.7h0M459 134.2h0M467.5 123.1h0M485.2 155.6h0M464.1 134.6h0M474.4 136.7h0M470 118.5h0M468.2 153h0M477.7 154.7h0M455.4 118.8h0M497.6 115.1h0M481.8 118.2h0M460.9 132.3h0M495.2 136.3h0M455.3 119.9h0M500.8 146.9h0M478.9 125.1h0M469.3 111.6h0M465.3 149.8h0M471.6 150h0M499.2 142h0M468.2 130.5h0M460.2 120.8h0M470.9 111.7h0M494.4 133.5h0M471.1 139.3h0M475.7 124.9h0M472.5 130.8h0M468.9 127.2h0M476.3 150.4h0M492.2 150.6h0M476.4 154.8h0M457.3 149.8h0M485.9 111.2h0M494 125.4h0M482.9 112.5h0M484.8 141h0M471.1 125.6h0M491.6 152.9h0M454.7 123.9h0M479.1 124.8h0M469.9 136.5h0M494.1 147.8h0M472.6 151h0M500.2 116.8h0M463.1 155.8h0M459.1 121.9h0M501.1 148.4h0M463.8 129.1h0M501 121.8h0M490.7 121.8h0M474.4 154.1h0M485.3 130h0M499.5 152.2h0M498.6 134.7h0M460.3 124.8h0M463 123.2h0M461.7 141.6h0M490.8 110.9h0M492.6 147.8h0M478.3 156.1h0M459.3 111.6h0M460.1 116.7h0M490.3 139.5h0M460.3 148.8h0M487.9 137h0M467.1 128h0M500.3 138.4h0M457.2 130.3h0M480.9 142.4h0M479.5 120h0M486.3 133.6h0M485.7 156.3h0M496.9 124.9h0M490.1 119.8h0M470.7 112.6h0M491.3 120.4h0M493.3 138.2h0M492.9 142.6h0" stroke="#d09070" stroke-width="2.4" stroke-linecap="round" opacity="0.8"/>
<path d="M463.1 144.5h0M492.4 130.4h0M491.2 125h0M459 133.8h0M458 127.1h0M497.7 150.3h0M489.5 128.6h0M461.5 134.4h0M458.6 146.1h0M492 114h0M469.4 134.8h0M472.6 142.7h0M456.3 145.5h0M485.5 120.5h0M458.3 116.2h0M461.8 131.7h0M461.8 110.5h0M472 111.9h0M455.8 148.3h0M482.5 122.2h0M468 129.4h0M474.4 138.9h0M462.6 138.4h0M484.3 150.4h0M492.5 146h0M481.9 112.3h0M496.4 140.6h0M482.7 126.9h0M458.7 115.2h0M496.9 131.7h0M473.1 152.2h0M477.2 125.3h0M473.3 133.3h0M483.2 143.3h0M456.5 145.3h0M487.8 153.3h0M471 115.7h0M500.1 123.5h0M494 153.2h0M488.6 123.3h0M478.4 136.7h0M467.4 137.2h0M500.4 137.5h0M482.6 131h0M466.5 149.9h0M458.8 132.2h0M483.3 156.4h0M462.6 154.7h0M484.7 112.2h0M469.5 116.5h0" stroke="#5a2818" stroke-width="1.6" stroke-linecap="round" opacity="0.85"/>
<path d="M495.5 140.8h0M496.1 112.1h0M475 150.3h0M461.1 125.9h0M483.3 150.7h0M464.8 120.4h0M456.5 136.7h0M484.6 111.9h0M460.6 131.8h0M483.9 112.1h0M495.7 135.9h0M483.4 140.1h0M472.2 137.9h0M472.8 144.7h0M478.5 112.4h0M472.1 112.9h0M496.1 113.5h0M475.2 144.4h0M474 111h0M464 129.3h0M466.3 148.9h0M464.7 154.7h0M486.4 120.8h0M474.2 137.3h0M462.2 152.5h0M461.2 142h0M478.3 149.5h0M458.7 116.5h0M480.8 121.9h0M466.2 124.8h0M490.3 135h0M461.4 140.3h0M462.1 110h0M467.2 128.1h0M477.4 121.1h0M461.5 148.7h0M459.7 134.6h0M492.2 126.5h0M485.4 122.8h0M484.9 113.4h0M499.4 154.3h0M499.3 141.8h0M475.9 139h0M492.1 151.7h0M477.6 125.5h0M463.5 123.6h0M487.4 113.9h0M483.2 112.2h0M491 120.4h0M475.5 150.3h0M489.3 115.4h0M485.8 128h0M500.7 120.8h0M483.3 132h0M478 139.9h0M474.1 146.7h0M483.7 121.9h0M464.3 140.6h0M480.3 117.5h0M474.7 153.3h0" stroke="#f6e4da" stroke-width="1.8" stroke-linecap="round" opacity="0.85"/>
</g>
</g>
<rect x="456.6" y="111.9" width="42.7" height="43.2" fill="none" stroke="#000" stroke-width="1.9" />
<rect x="459.8" y="113.8" width="35.6" height="6.2" fill="#fff" stroke="#444" stroke-width="0.5" />
<text x="477.6" y="119" font-size="6.0" font-weight="bold" text-anchor="middle" fill="#1a1a1a" textLength="33.8" lengthAdjust="spacingAndGlyphs" >CD279<tspan dy="-2.1" font-size="3.6">+</tspan><tspan dy="2.1"> </tspan>T cells</text>
<rect x="476" y="121" width="19.4" height="6.2" fill="#fff" stroke="#444" stroke-width="0.5" />
<text x="485.7" y="126.2" font-size="6.0" font-weight="bold" text-anchor="middle" fill="#1a1a1a" textLength="17.6" lengthAdjust="spacingAndGlyphs" >DLBCL</text>
<rect x="458" y="147.4" width="41.2" height="6.4" fill="#fff" stroke="#444" stroke-width="0.5" />
<text x="478.6" y="152.8" font-size="6.0" font-weight="bold" text-anchor="middle" fill="#1a1a1a" textLength="39.4" lengthAdjust="spacingAndGlyphs" >Transformation</text>
<path d="M446 24L458 24" stroke="#000" stroke-width="1.8" />
<path d="M455.5 20L467 24L455.5 28Z"/>
<path d="M446 132.5L458 132.5" stroke="#000" stroke-width="1.8" />
<path d="M455.5 128.5L467 132.5L455.5 136.5Z"/>
<rect x="427.8" y="49.8" width="55.8" height="6.8" fill="#fff" stroke="#444" stroke-width="0.7" />
<text x="455.7" y="55.6" font-size="6.8" font-weight="bold" text-anchor="middle" fill="#1a1a1a" textLength="54" lengthAdjust="spacingAndGlyphs" >CD270<tspan dy="-2.3" font-size="4.0">+</tspan><tspan dy="2.3"> </tspan>CD20<tspan dy="-2.3" font-size="4.0">+</tspan><tspan dy="2.3"> </tspan>cells</text>
<rect x="427.7" y="159.4" width="59.6" height="7.4" fill="#fff" stroke="#444" stroke-width="0.7" />
<text x="457.5" y="165.8" font-size="6.8" font-weight="bold" text-anchor="middle" fill="#1a1a1a" textLength="57.8" lengthAdjust="spacingAndGlyphs" >CD279<tspan dy="-2.3" font-size="4.0">+</tspan><tspan dy="2.3"> </tspan>CD3<tspan dy="-2.3" font-size="4.0">+</tspan><tspan dy="2.3"> </tspan>T cells</text>
<path d="M433.3 61.2L433.3 104.3" stroke="#000" stroke-width="1.4" />
<path d="M431.9 103.7L433.3 103.7" stroke="#000" stroke-width="1.26" />
<text x="432.3" y="105.9" font-size="6.2" text-anchor="end" fill="#222" >80</text>
<path d="M431.9 89.7L433.3 89.7" stroke="#000" stroke-width="1.26" />
<text x="432.3" y="92" font-size="6.2" text-anchor="end" fill="#222" >100</text>
<path d="M431.9 75.8L433.3 75.8" stroke="#000" stroke-width="1.26" />
<text x="432.3" y="78" font-size="6.2" text-anchor="end" fill="#222" >120</text>
<path d="M431.9 61.8L433.3 61.8" stroke="#000" stroke-width="1.26" />
<text x="432.3" y="64" font-size="6.2" text-anchor="end" fill="#222" >140</text>
<path d="M432.7 103.7L481 103.7" stroke="#000" stroke-width="1.4" />
<path d="M447.7 68.8L475.4 75.1M447.7 98.2L475.4 92.3M447.7 97L475.4 89.4M447.7 95.2L475.4 91.4M447.7 94.5L475.4 87.4M447.7 92.7L475.4 86M447.7 90.5L475.4 85.3M447.7 90.4L475.4 84.3M447.7 88.8L475.4 82.3M447.7 87.1L475.4 80.2M447.7 85.9L475.4 75.9M447.7 84.8L475.4 77.5M447.7 82.7L475.4 79.2M447.7 81.2L475.4 74.7M447.7 80.6L475.4 73.6M447.7 78.3L475.4 71.3M447.7 77.1L475.4 70.2" stroke="#333" stroke-width="0.6"/>
<path d="M447.7 68.8h0M475.4 75.1h0M447.7 98.2h0M475.4 92.3h0M447.7 97h0M475.4 89.4h0M447.7 95.2h0M475.4 91.4h0M447.7 94.5h0M475.4 87.4h0M447.7 92.7h0M475.4 86h0M447.7 90.5h0M475.4 85.3h0M447.7 90.4h0M475.4 84.3h0M447.7 88.8h0M475.4 82.3h0M447.7 87.1h0M475.4 80.2h0M447.7 85.9h0M475.4 75.9h0M447.7 84.8h0M475.4 77.5h0M447.7 82.7h0M475.4 79.2h0M447.7 81.2h0M475.4 74.7h0M447.7 80.6h0M475.4 73.6h0M447.7 78.3h0M475.4 71.3h0M447.7 77.1h0M475.4 70.2h0" stroke="#000" stroke-width="3.2" stroke-linecap="round"/>
<text x="448.7" y="67.6" font-size="8.2" font-weight="bold" text-anchor="middle" fill="#111" textLength="9.2" lengthAdjust="spacingAndGlyphs" >FL</text>
<text x="481.2" y="67.6" font-size="8.2" font-weight="bold" text-anchor="middle" fill="#111" textLength="26" lengthAdjust="spacingAndGlyphs" >DLBCL</text>
<text x="480.2" y="74.6" font-size="6.5" font-weight="bold" fill="#333" >**</text>
<text x="485.8" y="74.6" font-size="6.5" fill="#333" textLength="31" lengthAdjust="spacingAndGlyphs" ><tspan font-weight="bold" font-style="italic">P</tspan> = 0.0025</text>
<path d="M433.8 172.2L433.8 215.9" stroke="#000" stroke-width="1.4" />
<path d="M432.4 215.3L433.8 215.3" stroke="#000" stroke-width="1.26" />
<text x="432.8" y="217.5" font-size="6.2" text-anchor="end" fill="#222" >140</text>
<path d="M432.4 201.1L433.8 201.1" stroke="#000" stroke-width="1.26" />
<text x="432.8" y="203.4" font-size="6.2" text-anchor="end" fill="#222" >160</text>
<path d="M432.4 187L433.8 187" stroke="#000" stroke-width="1.26" />
<text x="432.8" y="189.2" font-size="6.2" text-anchor="end" fill="#222" >180</text>
<path d="M432.4 172.8L433.8 172.8" stroke="#000" stroke-width="1.26" />
<text x="432.8" y="175" font-size="6.2" text-anchor="end" fill="#222" >200</text>
<path d="M433.2 215.3L478.7 215.3" stroke="#000" stroke-width="1.4" />
<path d="M446.0 207.5L475.0 203.2M446.0 206.2L475.0 201.5M446.0 204.9L475.0 200M446.0 202.5L475.0 199M446.0 201.2L475.0 197.8M446.0 200.1L475.0 194M446.0 199.3L475.0 190.4M446.0 197.1L475.0 195.8M446.0 196.2L475.0 191.9M446.0 194.7L475.0 195.3M446.0 193.2L475.0 190.3M446.0 191.8L475.0 186.2M446.0 190.1L475.0 188.2M446.0 188.5L475.0 185.3" stroke="#333" stroke-width="0.6"/>
<path d="M446.0 207.5h0M475.0 203.2h0M446.0 206.2h0M475.0 201.5h0M446.0 204.9h0M475.0 200h0M446.0 202.5h0M475.0 199h0M446.0 201.2h0M475.0 197.8h0M446.0 200.1h0M475.0 194h0M446.0 199.3h0M475.0 190.4h0M446.0 197.1h0M475.0 195.8h0M446.0 196.2h0M475.0 191.9h0M446.0 194.7h0M475.0 195.3h0M446.0 193.2h0M475.0 190.3h0M446.0 191.8h0M475.0 186.2h0M446.0 190.1h0M475.0 188.2h0M446.0 188.5h0M475.0 185.3h0" stroke="#000" stroke-width="3.2" stroke-linecap="round"/>
<text x="447" y="182.3" font-size="8.2" font-weight="bold" text-anchor="middle" fill="#111" textLength="9.2" lengthAdjust="spacingAndGlyphs" >FL</text>
<text x="480.8" y="182.3" font-size="8.2" font-weight="bold" text-anchor="middle" fill="#111" textLength="26" lengthAdjust="spacingAndGlyphs" >DLBCL</text>
<text x="480.2" y="188.3" font-size="6.5" font-weight="bold" fill="#333" >**</text>
<text x="485.8" y="188.3" font-size="6.5" fill="#333" textLength="31" lengthAdjust="spacingAndGlyphs" ><tspan font-weight="bold" font-style="italic">P</tspan> = 0.0033</text>
<text x="413.7" y="81.6" font-size="6.6" text-anchor="middle" fill="#222" textLength="43" lengthAdjust="spacingAndGlyphs" transform="rotate(-90 413.7 81.6)" >Mean intensity</text>
<text x="420" y="81.9" font-size="6.6" text-anchor="middle" fill="#222" textLength="31.5" lengthAdjust="spacingAndGlyphs" transform="rotate(-90 420 81.9)" >expression</text>
<text x="413.7" y="193" font-size="6.6" text-anchor="middle" fill="#222" textLength="43" lengthAdjust="spacingAndGlyphs" transform="rotate(-90 413.7 193)" >Mean intensity</text>
<text x="420" y="193.3" font-size="6.6" text-anchor="middle" fill="#222" textLength="31.5" lengthAdjust="spacingAndGlyphs" transform="rotate(-90 420 193.3)" >expression</text>
<rect x="26.8" y="215.6" width="10" height="9.2" fill="#ffffff" stroke="#000" stroke-width="1.6" />
<text x="38.6" y="224.2" font-size="9.6" fill="#222" textLength="56" lengthAdjust="spacingAndGlyphs" >Tumor cell <tspan font-size="6.5">(IgG)</tspan></text>
<rect x="26.8" y="229.1" width="10" height="9.2" fill="#3b5ca6" stroke="#000" stroke-width="1.6" />
<text x="38.6" y="237.7" font-size="9.6" fill="#222" textLength="30" lengthAdjust="spacingAndGlyphs" >&#945;CD200</text>
<rect x="26.8" y="242.4" width="10" height="9.2" fill="#d2323f" stroke="#000" stroke-width="1.6" />
<text x="38.6" y="251" font-size="9.6" fill="#222" textLength="30" lengthAdjust="spacingAndGlyphs" >&#945;CD274</text>
<rect x="102.3" y="215.6" width="10" height="9.2" fill="#3cb44b" stroke="#000" stroke-width="1.6" />
<text x="114.1" y="224.2" font-size="9.6" fill="#222" textLength="30" lengthAdjust="spacingAndGlyphs" >&#945;CD276</text>
<rect x="102.3" y="229.1" width="10" height="9.2" fill="#f2ee62" stroke="#000" stroke-width="1.6" />
<text x="114.1" y="237.7" font-size="9.6" fill="#222" textLength="30" lengthAdjust="spacingAndGlyphs" >&#945;CD270</text>
<rect x="102.3" y="242.4" width="10" height="9.2" fill="#9b86c8" stroke="#000" stroke-width="1.6" />
<text x="114.1" y="251" font-size="9.6" fill="#222" textLength="64" lengthAdjust="spacingAndGlyphs" >&#945;CD200/274/276</text>
<rect x="181.5" y="215.6" width="10" height="9.2" fill="#f7941d" stroke="#000" stroke-width="1.6" />
<text x="193.3" y="224.2" font-size="9.6" fill="#222" textLength="80" lengthAdjust="spacingAndGlyphs" >&#945;CD200/274/276/270</text>
<rect x="181.5" y="229.1" width="10" height="9.2" fill="#dcdcdc" stroke="#000" stroke-width="1.6" />
<text x="193.3" y="237.7" font-size="9.6" fill="#222" textLength="64" lengthAdjust="spacingAndGlyphs" >&#945;CD274/276/270</text>
<rect x="181.5" y="242.4" width="10" height="9.2" fill="#1c1c1c" stroke="#000" stroke-width="1.6" />
<text x="193.3" y="251" font-size="9.6" fill="#222" textLength="47" lengthAdjust="spacingAndGlyphs" >&#945;CD274/276</text>
<path d="M38 285.4L38 377.9" stroke="#000" stroke-width="1.6" />
<path d="M34.4 377.1L38 377.1" stroke="#000" stroke-width="1.4400000000000002" />
<text x="31.2" y="380.1" font-size="8.4" text-anchor="end" fill="#222" >0</text>
<path d="M34.4 361.9L38 361.9" stroke="#000" stroke-width="1.4400000000000002" />
<text x="31.2" y="364.9" font-size="8.4" text-anchor="end" fill="#222" >1</text>
<path d="M34.4 346.7L38 346.7" stroke="#000" stroke-width="1.4400000000000002" />
<text x="31.2" y="349.7" font-size="8.4" text-anchor="end" fill="#222" >2</text>
<path d="M34.4 331.6L38 331.6" stroke="#000" stroke-width="1.4400000000000002" />
<text x="31.2" y="334.6" font-size="8.4" text-anchor="end" fill="#222" >3</text>
<path d="M34.4 316.4L38 316.4" stroke="#000" stroke-width="1.4400000000000002" />
<text x="31.2" y="319.4" font-size="8.4" text-anchor="end" fill="#222" >4</text>
<path d="M34.4 301.2L38 301.2" stroke="#000" stroke-width="1.4400000000000002" />
<text x="31.2" y="304.2" font-size="8.4" text-anchor="end" fill="#222" >5</text>
<path d="M34.4 286L38 286" stroke="#000" stroke-width="1.4400000000000002" />
<text x="31.2" y="289" font-size="8.4" text-anchor="end" fill="#222" >6</text>
<path d="M45.9 359.6V355.1M42.9 355.1h6" stroke="#000" stroke-width="1.3"/>
<rect x="40.6" y="360.4" width="10.6" height="16.7" fill="#ffffff" stroke="#000" stroke-width="1.6" />
<path d="M63.4 342.2V337.6M60.4 337.6h6" stroke="#000" stroke-width="1.3"/>
<rect x="58.1" y="343" width="10.6" height="34.1" fill="#3b5ca6" stroke="#000" stroke-width="1.6" />
<text x="63.4" y="337" font-size="9.0" font-weight="bold" text-anchor="middle" >*</text>
<path d="M80 337.6V332.3M77 332.3h6" stroke="#000" stroke-width="1.3"/>
<rect x="74.8" y="338.4" width="10.4" height="38.7" fill="#d2323f" stroke="#000" stroke-width="1.6" />
<text x="80" y="331.7" font-size="9.0" font-weight="bold" text-anchor="middle" >*</text>
<path d="M97 341.4V336.9M94 336.9h6" stroke="#000" stroke-width="1.3"/>
<rect x="91.8" y="342.2" width="10.4" height="34.9" fill="#3cb44b" stroke="#000" stroke-width="1.6" />
<text x="97" y="336.3" font-size="9.0" font-weight="bold" text-anchor="middle" >*</text>
<path d="M113.8 359.6V355.1M110.8 355.1h6" stroke="#000" stroke-width="1.3"/>
<rect x="108.5" y="360.4" width="10.5" height="16.7" fill="#f2ee62" stroke="#000" stroke-width="1.6" />
<path d="M132.2 304.2V297.4M129.2 297.4h6" stroke="#000" stroke-width="1.3"/>
<rect x="127.3" y="305" width="9.8" height="72.1" fill="#9b86c8" stroke="#000" stroke-width="1.6" />
<text x="132.2" y="296.8" font-size="9.0" font-weight="bold" text-anchor="middle" >*</text>
<path d="M150.7 365V360.4M147.7 360.4h6" stroke="#000" stroke-width="1.3"/>
<rect x="145.8" y="365.8" width="9.8" height="11.3" fill="#ffffff" stroke="#000" stroke-width="1.6" />
<path d="M166.8 343.7V339.9M163.8 339.9h6" stroke="#000" stroke-width="1.3"/>
<rect x="161.5" y="344.5" width="10.7" height="32.6" fill="#3b5ca6" stroke="#000" stroke-width="1.6" />
<text x="166.8" y="339.3" font-size="9.0" font-weight="bold" text-anchor="middle" >*</text>
<path d="M183.4 328.5V324M180.4 324h6" stroke="#000" stroke-width="1.3"/>
<rect x="177.8" y="329.3" width="11.2" height="47.8" fill="#d2323f" stroke="#000" stroke-width="1.6" />
<text x="183.4" y="323.4" font-size="9.0" font-weight="bold" text-anchor="middle" >*</text>
<path d="M199.2 342.9V338.4M196.2 338.4h6" stroke="#000" stroke-width="1.3"/>
<rect x="193.8" y="343.7" width="10.9" height="33.4" fill="#3cb44b" stroke="#000" stroke-width="1.6" />
<text x="199.2" y="337.8" font-size="9.0" font-weight="bold" text-anchor="middle" >*</text>
<path d="M215.3 342.2V337.6M212.3 337.6h6" stroke="#000" stroke-width="1.3"/>
<rect x="209.8" y="343" width="11" height="34.1" fill="#f2ee62" stroke="#000" stroke-width="1.6" />
<text x="215.3" y="337" font-size="9.0" font-weight="bold" text-anchor="middle" >*</text>
<path d="M231.6 298.1V293.6M228.6 293.6h6" stroke="#000" stroke-width="1.3"/>
<rect x="226.4" y="298.9" width="10.4" height="78.2" fill="#f7941d" stroke="#000" stroke-width="1.6" />
<text x="231.6" y="293" font-size="9.0" font-weight="bold" text-anchor="middle" >*</text>
<path d="M247.9 297.4V292.8M244.9 292.8h6" stroke="#000" stroke-width="1.3"/>
<rect x="242.2" y="298.2" width="11.5" height="78.9" fill="#878787" stroke="#000" stroke-width="1.6" />
<path d="M37.2 377.1L257 377.1" stroke="#000" stroke-width="1.8" />
<text x="13.3" y="328.6" font-size="8.3" font-weight="bold" text-anchor="middle" fill="#111" textLength="102" lengthAdjust="spacingAndGlyphs" transform="rotate(-90 13.3 328.6)" >Mean area of T cell F-actin</text>
<text x="22" y="328.6" font-size="8.3" font-weight="bold" text-anchor="middle" fill="#111" textLength="97" lengthAdjust="spacingAndGlyphs" transform="rotate(-90 22 328.6)" >immune synapses (&#956;M<tspan dy="-3" font-size="5.5">2</tspan><tspan dy="3">)</tspan></text>
<text x="87.2" y="269" font-size="9.4" font-weight="bold" text-anchor="middle" fill="#111" textLength="94.8" lengthAdjust="spacingAndGlyphs" >Follicular lymphoma (FL)</text>
<text x="87.2" y="277.4" font-size="6.6" font-weight="bold" text-anchor="middle" fill="#111" textLength="94.8" lengthAdjust="spacingAndGlyphs" >Autologous functional screening</text>
<path d="M41.7 284.4L136.8 284.4" stroke="#222" stroke-width="1.2" />
<text x="190.8" y="277.6" font-size="9.4" font-weight="bold" text-anchor="middle" fill="#111" textLength="51" lengthAdjust="spacingAndGlyphs" >DLBCL (t-FL)</text>
<path d="M145 284.4L236 284.4" stroke="#222" stroke-width="1.2" />
<text x="249.2" y="269.6" font-size="8.6" text-anchor="middle" fill="#333" textLength="27.6" lengthAdjust="spacingAndGlyphs" >Healthy</text>
<text x="248.7" y="277.2" font-size="8.6" text-anchor="middle" fill="#333" textLength="23.4" lengthAdjust="spacingAndGlyphs" >B cells</text>
<path d="M242.8 284.4L253.6 284.4" stroke="#222" stroke-width="1.2" />
<path d="M47 321.8V319.8H114.4V321.8" fill="none" stroke="#666" stroke-width="0.9"/>
<text x="80.7" y="319" font-size="9.0" font-weight="bold" text-anchor="middle" fill="#999" >**</text>
<path d="M80.8 302V300H128V302" fill="none" stroke="#666" stroke-width="0.9"/>
<text x="105" y="299.2" font-size="9.0" font-weight="bold" text-anchor="middle" fill="#222" >*</text>
<path d="M150.4 315.3V313.3H215.6V315.3" fill="none" stroke="#666" stroke-width="0.9"/>
<text x="183" y="312.5" font-size="9.0" font-weight="bold" text-anchor="middle" fill="#222" >*</text>
<path d="M183 296.3V294.3H225V296.3" fill="none" stroke="#666" stroke-width="0.9"/>
<text x="205" y="293.5" font-size="9.0" font-weight="bold" text-anchor="middle" fill="#222" >*</text>
<clipPath id="c20"><rect x="269.5" y="252" width="59.5" height="59.8"/></clipPath><g clip-path="url(#c20)">
<rect x="269.5" y="252" width="59.5" height="59.8" fill="#10051a" />
<g filter="url(#bl)">
<path d="M315.9 269.9h0M311.6 259h0M278.9 266.9h0M298.9 273.3h0M285.7 274.9h0M273 291.7h0M275.9 307.9h0M282.4 306.6h0M306.3 296.5h0M297.4 274.9h0M327 302.6h0M321.6 281.3h0M283.7 275.3h0M301.1 272.3h0M325.7 273.1h0M313.1 292.7h0M326.6 283.7h0M279.4 300.2h0M278.7 255.2h0M303.5 307.8h0M270.7 310.6h0M276 305.9h0M319 285.1h0M310.7 290.5h0M278.5 255.8h0M319.5 259.9h0M277.1 289h0M295.3 273.8h0M308.6 301.9h0M281.2 290h0M274.4 293.9h0M304.1 265.3h0M271.4 251.5h0M282.2 270.9h0M301.1 274.2h0M311.6 286.1h0M304.1 251.5h0M277 296.1h0M296.3 270.5h0M306.5 254.1h0M298.3 296.1h0M303.2 265.8h0M294.3 278.6h0M299.3 296.3h0M317.7 294.5h0M295.1 296.1h0M323.2 270.8h0M269.1 283.7h0M275.2 280.7h0M279.8 278.9h0M279.6 295.1h0M276 279.1h0M311.5 282.6h0M288.9 292h0M295.9 253.5h0M313 296h0M276.8 255.9h0M278.7 295.5h0M315.5 273.8h0M297 287h0M321.4 288.9h0M327.1 259.2h0M275.9 288.7h0M304.9 305h0M280.2 280.2h0M323.8 256.1h0M272.5 262.5h0M269.5 271.2h0M298 299.9h0" stroke="#4a1020" stroke-width="5.0" stroke-linecap="round" opacity="0.55"/>
<path d="M295 300h0M282.7 305.6h0M274.2 298.4h0M277.2 306.9h0M296.1 285h0M287.9 297.5h0M295.4 309.6h0M285.3 297.2h0M278.7 297.8h0M271.6 295.7h0M284.8 308.2h0M285.8 274.8h0M281.9 307.3h0M277.9 289.7h0M288.8 285.5h0M294.1 298.4h0M284.5 294.4h0M292.1 289h0M273.8 301.4h0M271.6 282.6h0M276.2 301.9h0M290.9 272.4h0M290.4 295.5h0M277.9 272.9h0M282.8 292.7h0M270.3 288.6h0M277.9 311.7h0M289.3 280.6h0M288.8 307.4h0M273.9 270.2h0M283 290.2h0M280.7 284.2h0M284.5 287.7h0M273 273.8h0M274.8 309.3h0M286.9 306.3h0M288.7 290.7h0" stroke="#4a1020" stroke-width="5.0" stroke-linecap="round" opacity="0.55"/>
<path d="M279.8 253.7h0M269.4 275.9h0M279.5 263.3h0M307.1 279.4h0M329.4 264.5h0M283.4 304.6h0M310 298.5h0M320.1 266.1h0M294.3 274.4h0M281.1 284h0M305.2 283.9h0M323.5 253.5h0M281.2 257.8h0M292.1 258.6h0M305.3 267.4h0M269.9 304.9h0M315.1 271.6h0M317.1 300.9h0M302.2 298.7h0M318.1 265.7h0M302.8 259.2h0M269.9 268h0M284.6 270.3h0M284.2 266.7h0M268.8 260.8h0M283.9 257.9h0M277.6 291.6h0M281.5 291.6h0M283.1 281.6h0M274.6 261h0M303.4 256.8h0M282.2 269.7h0M292.5 270.4h0M301.2 255.7h0M311.8 302h0M313.4 295.7h0M273.5 303.1h0M329 278.2h0M310.5 296.3h0M297.2 282.7h0M295.2 298.2h0M272 287.4h0M278.1 284.9h0M322.8 282.2h0M290.7 277.5h0M326.7 280.7h0M285.6 263.2h0M303.2 273.4h0M292.1 282.9h0M296.1 272h0M322.2 299h0M284.4 251.3h0M325.6 274.7h0M323.1 302.4h0M323.1 293h0M319 297.1h0M316.5 280.4h0M316.1 277h0M320.7 269.5h0M319.6 279.8h0M283.3 289.2h0M326.5 261.3h0M291 271.7h0M269.3 277.5h0M318 305.2h0M272 259.9h0M312.7 273.5h0M323.1 251.3h0M311.1 273.3h0M316.1 268.9h0M322.1 297.9h0M310.4 301.3h0M308.6 251h0M309.1 287.7h0M329.9 301.8h0M272.2 283.5h0M278.4 274.6h0M275.7 272.2h0M318.1 311.7h0M315.5 284.6h0M328.5 301.9h0M304.1 291.7h0M299.4 262.4h0M285.2 312.1h0M322.4 293h0M297.6 279.7h0M329.7 263.1h0M317.9 261.7h0M290.6 258.1h0M293.7 272.7h0M284.2 275h0M325.6 311.3h0M295.2 307.7h0M288.1 306h0M315.4 287.6h0M298.9 255.6h0M313.3 301.5h0M325.2 302.6h0M272.5 281.4h0M320.4 304.8h0M302.5 290.4h0M319.4 285.6h0M302.5 298.6h0M282.2 280h0M299.4 301h0M276.7 251.2h0M283.1 304.3h0M273.6 311.6h0M307.7 264.4h0M301.2 262.2h0M329.3 272.2h0M281.7 291.1h0M274.2 278.9h0M280.9 291h0M270.4 302.1h0M302.9 252.7h0M328.6 309.6h0M281.9 300.2h0M315.8 279.3h0M289.7 281.6h0M308.3 275.6h0M269.7 283.3h0M313.6 283.1h0M272 256.9h0M329.2 295h0M283.8 281.3h0M276.3 297h0M275.7 252h0M283.1 265.9h0M328.3 287.1h0M302.5 279.8h0M276.7 300.7h0M326.5 291h0M297 260.6h0M311.8 306.6h0M315.7 262.1h0M272.1 298.7h0M301.8 305.2h0M318 273.1h0M307.9 301.8h0M312.2 310.8h0M304.3 309h0M302 257.8h0M286.2 252.9h0M329.2 293.1h0M298.1 254.5h0M327.1 278.2h0M269.6 264.9h0M280.6 252.4h0M275.6 263h0M279.5 277.9h0" stroke="#8478e0" stroke-width="2.4" stroke-linecap="round" opacity="0.85"/>
<path d="M288.6 304.6h0M282 300.1h0M283.4 288.6h0M281.6 311.7h0M271.5 283.1h0M282.1 274.9h0M286 280.8h0M287.5 270.3h0M292.1 303.6h0M293.4 285.2h0M289.1 280.4h0M287.5 307.3h0M280.9 307.7h0M274.9 297.7h0M283.6 290.7h0M274.6 305.2h0M284.5 285.3h0M284.7 310.4h0M286.2 298.2h0M287.5 302h0M286.7 276.5h0M274.3 303.8h0M295.7 270.8h0M277.2 282.5h0M271.8 297.4h0M295 295h0M272.4 304.7h0M283.3 298.4h0M275.2 291.6h0M294.4 282h0M270.7 299.7h0M272 299.5h0M276.1 308.1h0M275.6 286h0M269.6 301.3h0M286.5 291.4h0M295.3 309.4h0M279.1 303.9h0M276.8 291.2h0M271.4 300.8h0M281.2 308.3h0M284.9 285.6h0M282.1 302.4h0M288.8 296.9h0M287 283.3h0M282.6 305.2h0M294.6 276.9h0M287.7 295.5h0M278.7 277.3h0M274.7 307.1h0M292.3 303.6h0M282.9 310.1h0M295.3 293.9h0M288.8 281.7h0M270.5 290.7h0M281.7 289.5h0M283.5 273.9h0M286.5 292.2h0M287.4 305.4h0M277.3 300.7h0M281.2 271.4h0M283.8 297.8h0M283.5 273.9h0M269.8 309.6h0M295.8 308.1h0M285.6 311.6h0M272.9 289.6h0M286.9 279h0M292 286.2h0M292 280.2h0M287.2 294.6h0M284.9 282.7h0M276.7 308.5h0M270.2 305.1h0M279.6 291.6h0M282.2 277.3h0M282.8 291h0M270 293.6h0M271.2 273.7h0M278.2 273.2h0" stroke="#8478e0" stroke-width="2.4" stroke-linecap="round" opacity="0.85"/>
<path d="M297.1 287.8h0M279.6 258.8h0M303.7 306.1h0M315.8 290.5h0M287.9 302.9h0M295.2 275.6h0M325 293.4h0M302.1 294.9h0M269.4 283.1h0M327.3 306.2h0M276 280.1h0M287.4 279.2h0M271.1 272.8h0M321.8 277.3h0M313.3 296.4h0M307.9 271.5h0M310.2 270h0M304.1 312.1h0M303.6 303.7h0M284.3 260h0M296.6 267.3h0M305.1 263.7h0M319.4 285.6h0M303.8 282.6h0M307.6 295.5h0M294.7 278.9h0M327.3 259.3h0M324.5 301.7h0M292.1 291.6h0M287.2 294.5h0M286.3 272.9h0M317 304h0M276.9 258.1h0M311.3 264.2h0M313.2 256.6h0M274.6 270.1h0M305.4 287.9h0M284.9 296.9h0M289.4 265.1h0M329.8 307.8h0M321.6 303.2h0M321.8 277.6h0M328.2 299.8h0M286.8 300.9h0M281.1 265.9h0M271.3 303.1h0M272.7 264.2h0M281 276.1h0M293.7 274.7h0M272 296.2h0M323 273.7h0M282.2 308.9h0M299.8 293.4h0M299.5 298.9h0M287.1 289.6h0M301.1 281.2h0M325.5 263h0M302.8 312.5h0" stroke="#a08af0" stroke-width="1.6" stroke-linecap="round" opacity="0.85"/>
<path d="M283.1 297.7h0M287.6 270.2h0M290.2 283.7h0M277 287.5h0M273.8 302.1h0M272.2 287.4h0M277.1 291.9h0M277 311.6h0M277 284.7h0M293.2 298.9h0M275.3 285.7h0M283.8 289.1h0M279.2 310.3h0M290 303.2h0M296.1 271h0M280.8 279.4h0M292.7 307.8h0M276.2 275.6h0M286.5 297.4h0M270.1 311.6h0M290.1 296.5h0M276.9 271.9h0M274.7 273.3h0M274.5 295.6h0M278.1 282.8h0M280.7 286.7h0M288.2 308.5h0M295.7 272.7h0M281.6 293.6h0M292.7 273.8h0" stroke="#a08af0" stroke-width="1.6" stroke-linecap="round" opacity="0.85"/>
<path d="M320.8 266.5h0M270.9 287.3h0M280.8 298h0M328.9 261.6h0M317.6 293.7h0M269.5 303.1h0M310.5 311.4h0M288.1 283.9h0M312.4 251.1h0M309.1 253.6h0M293.8 291.1h0M281.8 261.4h0M324.6 295.8h0M309.9 256.3h0M304.8 280.3h0M276.5 297.3h0M277.9 279.7h0M273.1 269.9h0M328.6 267.2h0M304.7 274.7h0M271.2 290.5h0M301.1 295.2h0M326.9 253.9h0M308.4 254.9h0M291 267h0M304.6 303.5h0M284.8 261.8h0M296.5 291.8h0M287.1 292.7h0M301.3 278.1h0M311.6 260.5h0M308.6 261.4h0M329.5 296.3h0M310.7 256.4h0M303.5 282.9h0M314.7 293.3h0M269 254.2h0M291.4 272.9h0M292 266.5h0M328.1 290.4h0M308.6 269.7h0M307.5 277.5h0M287.3 292.9h0M305.4 282.6h0M325.2 274.3h0M279 278.3h0M281.2 301.3h0" stroke="#902848" stroke-width="2.0" stroke-linecap="round" opacity="0.7"/>
<path d="M282.1 294.2h0M280.2 272.6h0M291.8 286.2h0M272.5 303.7h0M288.3 309.4h0M279.4 300.3h0M287.9 284.5h0M283.7 293.4h0M294.7 291.9h0M275.3 273.4h0M293 310.6h0M290.8 272.9h0M277.5 290.3h0M285.1 307.5h0M271.8 305.1h0M275.5 305.7h0M291.4 303.4h0M288.7 278.4h0M273.4 270.9h0M270.4 285.6h0M294.8 297.6h0M286.1 274h0M288.2 280.9h0M282.4 311.4h0" stroke="#902848" stroke-width="2.0" stroke-linecap="round" opacity="0.7"/>
</g>
<rect x="297" y="279" width="30.5" height="29.5" fill="#10051a" />
<g filter="url(#bl)">
<path d="M309 295.3h0M311.5 301.1h0M315.4 282.7h0M310.5 285.7h0M307.5 286h0M323.8 280.7h0M301.2 292.3h0M316.8 292.2h0M322.3 288.9h0M315.7 295.2h0M303.5 280.1h0M306.4 307h0M300.7 281.3h0M324.4 289.9h0M300.3 297.8h0M308.6 304.3h0M323.2 281.4h0" stroke="#501424" stroke-width="6.0" stroke-linecap="round" opacity="0.8"/>
<path d="M301.6 283.5h0M312.5 283.7h0M313.2 298.8h0M313.3 294.1h0M318.3 301.9h0M299.8 300.8h0M297.7 287.2h0M310.1 300.2h0M319.8 307.6h0M311.5 292.1h0M297.7 286.2h0M305.3 286.4h0M321.9 294.2h0" stroke="#8a80e8" stroke-width="7.0" stroke-linecap="round" opacity="0.95"/>
<path d="M302.4 286.8h0M311.3 286.7h0M317.7 301.1h0M320.4 287.9h0M298.4 283.5h0M310.3 304.7h0M306.8 294.8h0" stroke="#a098f4" stroke-width="4.0" stroke-linecap="round" opacity="0.9"/>
</g>
<rect x="297" y="279" width="30.5" height="29.5" fill="none" stroke="#fff" stroke-width="1.4" />
</g>
<rect x="299.6" y="255.3" width="27.2" height="5.6" fill="#fff" />
<text x="313.2" y="260" font-size="5.8" font-weight="bold" text-anchor="middle" fill="#111" textLength="25.7" lengthAdjust="spacingAndGlyphs" >FL &#945;IgG</text>
<clipPath id="c21"><rect x="269.5" y="318" width="59.5" height="59.6"/></clipPath><g clip-path="url(#c21)">
<rect x="269.5" y="318" width="59.5" height="59.6" fill="#16061a" />
<g filter="url(#bl)">
<path d="M283.9 378.5h0M317.9 341.1h0M327.1 333.2h0M282.1 332.5h0M281.7 339.3h0M268.5 335.6h0M275.5 335.7h0M322.9 361.5h0M304.5 324.7h0M318 347.3h0M287.7 323h0M293.1 348.3h0M290 357.6h0M305.3 326.9h0M283.3 318.8h0M285.5 343.5h0M314.9 367h0M310.1 374.3h0M304.5 324.6h0M268.9 359.5h0M271.3 336.4h0M284.7 325.5h0M281.2 323.4h0M287 351.6h0M295.1 330h0M313.9 337.2h0M314.2 372.6h0M311.8 324.3h0M302.9 344.6h0M313.9 361.9h0M285.3 361.5h0M295.9 340.3h0M284 373.6h0M286.2 346.7h0M321.3 346.9h0M327.2 341.2h0M322.4 345.7h0M298.2 345.1h0M305.2 330.5h0M302.6 350.2h0M299.6 320.6h0M275 326.4h0M279.2 363.6h0M310.2 351.1h0M281.7 322.7h0M288.7 321.5h0M329.1 345.9h0M328.6 320.9h0M290.8 376.4h0M320.9 344.7h0M274.1 351.2h0M270 342.6h0M313 317.9h0M298.6 334.1h0M321.1 322.2h0M294.2 367h0M288.4 377.1h0M327.5 343.9h0M271 359.1h0M318.8 338.1h0M281.8 367.8h0M283.6 318.7h0M313.9 363.7h0M289 372.9h0M285.8 360.6h0M285.3 375.7h0M269.8 368h0M271.1 366.6h0M324.3 369.4h0M297.3 326.7h0M283.5 332.6h0M295.5 368.5h0M272.7 349.6h0M285.5 337.7h0M320.8 331.4h0M323.8 347.3h0M280.5 322.9h0M288.2 331.6h0M291 375.1h0M299.5 328.5h0M299.7 346.4h0M300.2 348.1h0M316 324h0M316.7 331.6h0M328.4 356.5h0M286.6 365.8h0M303.3 353h0M287.3 336.2h0M291.9 344.7h0M318.7 329.5h0M312.6 336h0M288.5 333.1h0M277.8 352.4h0M316.9 325h0M289.1 369.4h0M312.3 324.7h0M271.5 370.7h0M284.3 365.4h0M298 374.9h0M294.1 371.5h0M287.4 377.4h0M316.3 372.5h0M301 345.8h0M320 371.2h0M312.7 377h0M301 333.6h0M278.4 323.6h0M298.3 372.3h0M326.5 362h0M295 377.6h0M328.1 343.4h0M290.9 369.6h0M329.9 366.2h0M318.8 373.9h0M322.2 353.3h0M277.5 320.1h0M315.1 321h0M309.5 339.3h0M273.9 340.5h0M329.8 336.2h0M329 370.7h0M325.4 368.6h0M299.7 352.4h0M276 361.5h0M285.8 332.9h0M275 367.2h0M283.3 340.8h0M288.9 325h0M305.5 362.6h0M282.8 347.1h0M329.2 343.3h0M294.1 345.2h0M310.2 342.9h0M316.7 378h0M270.8 348.2h0M300.7 343.5h0M324.8 353.2h0M307.3 356.4h0M286.8 330.6h0M307.9 353.2h0M271.3 358.2h0" stroke="#801838" stroke-width="4.5" stroke-linecap="round" opacity="0.65"/>
<path d="M275.9 347.4h0M299.6 362.1h0M289 339.6h0M308.8 352.1h0M304.1 356.6h0M321.1 360.6h0M325.4 350.9h0M296.6 353.7h0M327.5 321.9h0M288.4 317.1h0M288.5 374.7h0M297.5 365.1h0M298.4 320.8h0M322.6 324.4h0M317.6 353.5h0M302.4 376.6h0M275.5 343.3h0M294.2 318.8h0M278.3 374.3h0M328.2 373.6h0M324.6 373h0M315.1 375.2h0M327.5 346.6h0M276 326.9h0M283.7 341.5h0M302.2 348.3h0M299.2 318.5h0M308.4 355.2h0M283 329.8h0M310.8 372h0M328.1 348.9h0M308.9 372.9h0M319.3 377.9h0M283.3 329.4h0M272.4 366.8h0M274.7 361.2h0M268.7 331.6h0M287.3 372.1h0M315.8 325h0M316.1 333.4h0M292.3 340.5h0M307.2 356.1h0M314.3 343.9h0M319.6 372.1h0M294.7 338.8h0M309.8 323.6h0M282.1 334.3h0M290.7 327h0M282.6 363.9h0M309.5 333.4h0M313 350.4h0M305.5 346.9h0M325 335.1h0M317.8 336.9h0M329.3 359h0M296.7 322.2h0M313.3 327.3h0M302.5 372.9h0M287.5 338.7h0M295.2 356.4h0M301 350.8h0M280.5 363.3h0M316.7 358.3h0M306.3 340.3h0M315.5 331h0M271.5 342.1h0M277.7 373.6h0M315.7 362.9h0M273.1 349h0M270.3 368.6h0M269.5 318.5h0M272.6 354h0M283.2 360.9h0M311.9 318.8h0M278.2 376.8h0M310.5 330.2h0M298.2 374.9h0M305.9 366.6h0M307.5 345.7h0M271.8 355.5h0M298.3 340.5h0M286.6 361.5h0M304.8 325.1h0M272 332h0M277.5 349.8h0M280.1 321.9h0M280.4 321.4h0M302.8 321.4h0M320 373.4h0M313.9 360.2h0M287.9 353.6h0M272.8 344.4h0M316.5 336.7h0M293.7 371.4h0M296.3 323.5h0M309.5 327.7h0M322.3 367.9h0M322.2 377.5h0M292 349.3h0M323.9 333.8h0M279.8 358h0M281.1 346h0M295.6 365.9h0M316 370.9h0M322.5 365.4h0M284.5 352.3h0M316.7 356.4h0M302.3 324.2h0M285.7 319.3h0M291.3 364.3h0M299.9 347.7h0M289.6 345.9h0M288.1 358.2h0M269.4 348.6h0M292 327.2h0M279.6 371.5h0M270 348.7h0M273.9 359.4h0M324.9 350.4h0M314.2 375.3h0M274.4 335.6h0M277.2 376.5h0M309.2 342.1h0M327.7 356.7h0M296 351.5h0M304.1 328.1h0M307.2 334.4h0M269.8 325h0M296.1 332.5h0M321.8 336.6h0M320.8 357.3h0M322.6 354.7h0M269.9 357.5h0M268.6 357h0M282.9 357.8h0M322.3 368.9h0M302.3 350.2h0M292.5 377h0M309.5 320.2h0M307.5 364.5h0M306.7 318.2h0M285.9 332.9h0M317.5 330.2h0M296.4 358.6h0M282.9 378.3h0M282 358.2h0M285.3 332h0M281.7 330.9h0M325.8 329.6h0M322 334.6h0M318.4 362.5h0M310.9 328.3h0M296.9 336.4h0M310 326.8h0M297.6 346.6h0M309.4 368.3h0M278.7 378.5h0M281.3 341.8h0M290.7 323.8h0M326.8 322.3h0M313.5 317.8h0M283.8 349.7h0M269 356.5h0M277.1 357.6h0M314.4 322.3h0M294.8 352h0M273.8 346.6h0M279 318.1h0M306.5 349.4h0M275.9 342.1h0M304.8 341.9h0M303.5 332.7h0M281.7 332.1h0M313.6 364.5h0M309.2 334.5h0M285.6 349.5h0M320.9 327.5h0M314.9 376.6h0M317.7 324.6h0M323.6 362.6h0M303.8 331h0M284.7 324.1h0M291 360.5h0M280.2 361.4h0M299.9 355.9h0M327.1 338.7h0M299.8 324.6h0M323 361.4h0M304.9 365.4h0M311.6 341.4h0M298.6 348.4h0M283 345.4h0M269.3 363.3h0M319.8 327.3h0M274.9 338.8h0M327 378.2h0M329.7 339.5h0M284.4 338.6h0M284.1 345.6h0M292.8 345h0M302.1 317.6h0M294.4 377.1h0M318.4 332h0M308.1 344.9h0M328.8 374.9h0M317.7 364.5h0M281.6 361.1h0M278.8 326.8h0M323.4 337.2h0M325.6 342.8h0M286.8 322.8h0M284.7 343.3h0M310.9 333.6h0M320.2 331.6h0M312.5 340.2h0M272.1 323.1h0M270.6 337h0M272.9 345h0M271.8 350.8h0M274.8 359.4h0M306.5 351.5h0M301.2 357.2h0M291.3 342.4h0M319 335.9h0M320.3 377.3h0M303.1 355.9h0M318.5 330.3h0M326.7 332.2h0M270.9 376.1h0M328.3 359.1h0M283.1 334.1h0M277.8 338.5h0M327.4 321.1h0M274.9 375.9h0M327.2 356.5h0M298.2 333h0M316.4 355.2h0M326.3 343.7h0M292.5 319h0M316 323.6h0M324.3 317.5h0M299.9 338.7h0M277.4 354h0M299.3 372.6h0M269.5 364.4h0M294.9 335.1h0M288.5 374.8h0M276.1 344.7h0M313.2 372.9h0M319.5 321.1h0M278.3 378.3h0M312.1 365.9h0M299.1 323.6h0M293.9 339.7h0M276.8 319.2h0M277 352h0M279.5 350.5h0M321.2 347h0M273.3 340.2h0M280.9 358.9h0M291 360h0M327.4 339.1h0M272.3 354.1h0M275.7 337.8h0M300.5 321.2h0" stroke="#8060d0" stroke-width="2.4" stroke-linecap="round" opacity="0.85"/>
<path d="M296.3 341.1h0M315.6 335.3h0M309.6 320.1h0M292.4 356h0M329.9 318.6h0M281.6 333.5h0M314.9 325.1h0M305.6 363.5h0M301.6 336.4h0M319.3 333.4h0M279.1 340.3h0M289.4 334h0M268.8 367.5h0M282.2 377.2h0M304.3 360.9h0M285.7 335.3h0M282.5 374.7h0M295.9 345.2h0M279.5 371.1h0M269.2 358.6h0M315.4 346.6h0M325.3 349h0M304.2 378.3h0M314.5 356.8h0M280.7 333.8h0M299.2 354.8h0M294.5 318h0M317.8 367.8h0M307.3 365.5h0M306.9 320.7h0M285.3 319.4h0M309.6 355.9h0M272.9 324.3h0M268.9 354.3h0M310.7 343.1h0M277.6 342.7h0M318.3 326.5h0M310 358.4h0M294 372.6h0M296.4 363.6h0M282.6 378h0M305.7 378.4h0M298.6 338.4h0M316.5 319.3h0M305.7 327.9h0M284.4 326.7h0M299.7 331.8h0M277.4 371h0M311.8 370h0M284.2 364.7h0M298.3 376.6h0M288.6 361.9h0M310 336.6h0M317.4 343.1h0M277.9 340.3h0M283.7 354.6h0M276.6 322.6h0M278.6 328.1h0M274.1 373.2h0M289.1 352.7h0M305.8 358.6h0M316.6 335.9h0M296.9 368h0M290.9 371.6h0M285.4 330.3h0M298.4 322.8h0M282.4 318.6h0M274.3 328.7h0M327.4 369.4h0M303.8 320h0M324.6 339.2h0M317.7 359.3h0M327.5 367.6h0M288.8 341.6h0M289.8 374.3h0M288.8 364.3h0M273.6 359.6h0M290.3 321.9h0M328.6 376.4h0M321.1 360.2h0M282.7 349.5h0M270.1 320.4h0M282.1 373.4h0M297.9 352.6h0M312.9 321.5h0M309.1 376.1h0M303.1 350.5h0M312.8 356h0M285.3 360.6h0M284.1 333.8h0M278.6 377.3h0M328.4 323.2h0M312.4 370.8h0M324.5 376.6h0M281.5 366h0M309.2 358.8h0M289 345.6h0M271 318.2h0M278.6 372.4h0M309.8 373.3h0M323.5 350.3h0M303.2 360.4h0M285.8 350.9h0M311.3 336.4h0M282 328.2h0M311.8 325.2h0M325.3 351.7h0M299.4 353.7h0M284.1 378.5h0M304.9 367.4h0M277.3 362.5h0M320.7 337.5h0M278.2 356.4h0M293.7 371.9h0M320.1 353.2h0M318.8 365.6h0M322.6 368.2h0M295 347.7h0M282.8 330h0M309.1 366.8h0M296.4 378.5h0M327.9 360.8h0M322.4 340.9h0M324.4 373.1h0M319.8 353.1h0M298.8 377h0M278.9 359.3h0M295.3 361.6h0M312.7 368.6h0M286.4 323.2h0M328.4 375.6h0M313.6 317.7h0M292.9 335.7h0M307.3 375.7h0M273.6 318.1h0M278.4 350.7h0M309.6 334.1h0M299.8 371.5h0M299 368.1h0M297.2 323h0M295.1 318.6h0M323.8 329.3h0M284.3 318.5h0M277.8 360.3h0M269.9 340.4h0M295.4 362.3h0M272.3 377.3h0M322.6 366.3h0M306.3 364h0M311.3 346.8h0M273.4 369.3h0M268.7 349.4h0M281.1 353.5h0M304.4 341.2h0M291 377.9h0M303.8 335.9h0M292.8 357.8h0M319.5 336.7h0M301.3 353.7h0M303.9 368.2h0M289.5 359.8h0M270 342h0M287 352.4h0M287.4 339.9h0M282.6 332.1h0M309.8 318h0M295.6 365.9h0M317.8 351h0M268.5 328.3h0M315.6 319.2h0M274.6 323.6h0M297.3 322.1h0M270.6 359h0M282.8 359.1h0M320.1 365.4h0M321.8 344h0M320.4 331.8h0M327.8 353.9h0M327.1 358.4h0M323.1 363.7h0M322.1 327.1h0M297.6 367.4h0M304.4 355.2h0M320.7 370.4h0M323.3 337.9h0M320.2 320.9h0M294.2 353.9h0M313 318.8h0M323.6 351h0M269 342.9h0M285.9 345h0M282.4 377.3h0M327.8 376.3h0M298.6 363.2h0M274.1 322.5h0" stroke="#d03060" stroke-width="2.0" stroke-linecap="round" opacity="0.85"/>
<path d="M309.5 378h0M294.7 357h0M323.9 319.1h0M320.5 376.6h0M272.4 377.8h0M277.2 345.8h0M271.4 320.8h0M286.4 357.8h0M322.3 351.7h0M316 365h0M305.9 328.8h0M296.6 348.9h0M278.5 370.3h0M281.8 372h0M280 317.6h0M288.7 332.1h0M280.7 376.3h0M306.2 322.9h0M271.4 319.8h0M290.7 373.6h0M297.8 335.7h0M308.5 363.5h0M292.1 372.5h0M318.5 347.7h0M298.3 350.6h0M285.4 343.1h0M316.9 361.5h0M316.6 340.3h0M299 330.8h0M303 361.6h0M329.1 363h0M268.6 332.4h0M303.9 359.4h0M283.8 365.9h0M328.3 324.5h0M285.9 343.6h0M278.8 352.3h0M288.4 376.6h0M315.1 376.5h0M308.3 374.8h0M311.5 355.6h0M294.7 357.4h0M307.1 342.7h0M326.7 320.7h0M286.9 325.4h0M279.1 373.8h0M305 326.7h0M300.1 340.8h0M301.6 372.8h0M315.5 361.3h0M315.1 374.1h0M313.3 365.1h0M288.8 333.9h0M303.2 363.8h0M270 335.5h0M318.1 361.3h0M324.7 325.4h0M282.3 377.6h0M307.2 327.3h0M298.8 363.3h0M271.3 353.3h0M323.4 347.5h0M269.5 338.3h0M322.3 347.3h0M287.4 373.8h0M302.1 367.6h0M312.6 377.6h0M291.3 347.7h0M313.3 344.3h0M300.9 326.6h0M320.7 344.3h0M305.6 326.8h0M282.6 375.4h0M270.6 365.4h0M279.7 336.9h0M316 328.5h0M314.8 376.9h0M311.9 337h0M306.6 345.8h0M279.6 322.1h0M272.2 353.2h0M284.7 378.6h0M269.8 320.5h0M322.3 347.7h0M288.5 345.1h0M308.8 325.3h0M301.1 322.6h0M290.4 325.5h0" stroke="#e04070" stroke-width="1.4" stroke-linecap="round" opacity="0.8"/>
<path d="M316 318.8h0M317.4 353.7h0M276.9 320h0M309 354.7h0M284.3 356.3h0M291.8 364.4h0M315.4 346.6h0M271.7 347.6h0M269.9 365.7h0M279.6 320.5h0M270.3 377.8h0M315.7 377.1h0M320.8 351.8h0M271.5 340.5h0M297.7 361.7h0M291.2 339.9h0M290.8 341.6h0M316.1 371.8h0M312.4 337.9h0M273.6 331.9h0M276.7 371.1h0M309.6 348.8h0M295.5 347.9h0M290.5 375.8h0M281.5 357.7h0M308.1 339.6h0M316.2 356.5h0M328.1 363.6h0M292.4 329.5h0M316.2 357.1h0M329 371.1h0M303.2 319.9h0M322.1 332.5h0M270.9 357.1h0M309.9 369.6h0M302.7 341.1h0M326.7 326.8h0M292.8 338.6h0M308.9 360.4h0M275.3 346.5h0M297.2 351.1h0M306.6 338.3h0M316.9 362.4h0M302.7 336.8h0M308.4 355.7h0M293.2 331.4h0M326.5 318.3h0M309.6 336h0M323.9 377.6h0M307 337.2h0M286 375h0M269.6 321.9h0M326.2 374.8h0M306.9 369.4h0M320.1 363.2h0M313.9 328.5h0M285.3 337.1h0M313.3 341.4h0M301.2 321.7h0M298.3 317.2h0M306.5 376.2h0M270.6 326.9h0M316.4 364.5h0M294.3 360.8h0M294.8 347.2h0M304.1 374.3h0M310.3 372.7h0M270.9 325.1h0M281.6 340.6h0M288.5 321.8h0M314.8 345.9h0M272 346.3h0M315 353.1h0M287.4 336.3h0M325 372.1h0M324.5 364.2h0M275.7 326h0M299.7 371.9h0M309.5 335.7h0M278.1 337.3h0M311.1 378h0M299.4 341.6h0M303.9 369.6h0M321.4 344.3h0M317.3 347.9h0M326.6 360.9h0M302.1 347h0M287.7 354.3h0M317.7 319.2h0M316.7 328.5h0M303.1 352.6h0M280.4 360.1h0M283.8 354.5h0M269.3 330.7h0M303.9 377.5h0M320.7 346.3h0M272.1 330.7h0M282.8 328.7h0M320.8 335.8h0M298.9 352h0M282.6 371h0M292 339.2h0M289.9 372.3h0M327 326.4h0M274 358.9h0M275.5 326.3h0" stroke="#a050c8" stroke-width="1.8" stroke-linecap="round" opacity="0.8"/>
</g>
<rect x="297" y="345.4" width="30.5" height="29.5" fill="#16061a" />
<g filter="url(#bl)">
<path d="M307.4 370.1h0M322.9 360.6h0M301.4 363.6h0M322.6 373.9h0M298.4 361.8h0M301.1 362.6h0M304.3 364.2h0M323.5 350.2h0M323 352.9h0M297.3 345.5h0M305.7 370.6h0M325.1 348.8h0M310.6 365.6h0" stroke="#701830" stroke-width="6" stroke-linecap="round" opacity="0.8"/>
<path d="M299.8 365.5h0M324.9 366.5h0M326 372.4h0M327.2 348.4h0M315.9 360.2h0M300.3 366.1h0M313.3 354h0M303.2 365.3h0M309.3 352.2h0M300.2 350.8h0M318.9 372.4h0M319.9 373.8h0M326.8 359.5h0M303.7 354.1h0M308.2 355.7h0M307.1 352.8h0M310.5 350.8h0M325.6 365.4h0M309.7 365.1h0" stroke="#9070e0" stroke-width="7.0" stroke-linecap="round" opacity="0.95"/>
<path d="M311.5 369.8h0M314.6 372h0M314.3 368.6h0M326.4 364.5h0M302.5 366.7h0M307.5 355.3h0M314.2 356.9h0M318.7 367.9h0M302.1 346.8h0M315 369.8h0M318.1 349.6h0M324.4 360.4h0M304.2 360.8h0M307.4 347.2h0" stroke="#e03050" stroke-width="5.5" stroke-linecap="round" opacity="0.9"/>
<path d="M318.5 372.2h0M299.1 364.5h0M304.5 349.1h0M307.2 360.3h0M298.8 348.3h0M323.6 353.2h0M313.9 372.1h0" stroke="#c050c0" stroke-width="5" stroke-linecap="round" opacity="0.9"/>
</g>
<rect x="297" y="345.4" width="30.5" height="29.5" fill="none" stroke="#fff" stroke-width="1.4" />
</g>
<rect x="276.8" y="321.4" width="49.6" height="5.6" fill="#fff" />
<text x="301.6" y="326.1" font-size="5.8" font-weight="bold" text-anchor="middle" fill="#111" textLength="48.1" lengthAdjust="spacingAndGlyphs" >&#945;CD200/274/276</text>
<rect x="314.7" y="328.6" width="12.3" height="5.9" fill="#fff" />
<text x="320.8" y="333.6" font-size="5.8" font-weight="bold" text-anchor="middle" fill="#111" textLength="10.8" lengthAdjust="spacingAndGlyphs" >FL</text>
<clipPath id="c22"><rect x="377.8" y="223.3" width="45.2" height="45.2"/></clipPath><g clip-path="url(#c22)">
<rect x="377.8" y="223.3" width="45.2" height="45.2" fill="#12060e" />
<g filter="url(#bl)">
<path d="M419.3 229.8h0M378 243h0M407.3 235.9h0M381.8 253.3h0M383.1 251.1h0M412.5 248.4h0M380.8 245.7h0M403.4 257.4h0M393.4 260.5h0M378.2 225.5h0M414.1 248.6h0M387.9 265.9h0M380.3 239.3h0M391.3 230h0M386 259.4h0M407.1 225.6h0M381.5 258.8h0M401.3 247.9h0M396.1 252.2h0M409.6 268.6h0M419.2 235.8h0M419.1 260.8h0M420.3 237.4h0M409.7 264.2h0M410.3 258.7h0M384.2 228.8h0M423.2 249.2h0M418.4 224.5h0M385.5 244.9h0M399.9 235.2h0M390.8 225.2h0M418.6 266.9h0M415.4 231.3h0M380.3 267h0M418.6 257.4h0M408 230.2h0M421.7 241.3h0M385.7 260.2h0M409.5 255.3h0M419.3 225.1h0M417.4 248.3h0M381.7 254.7h0M377.4 267h0M410.3 258.4h0M397.2 237.2h0M396 257.6h0M387.2 266.6h0M379.1 250.7h0M385.1 236.4h0M396.8 243.7h0M411.9 229.6h0M423.7 268.7h0M422.3 250.2h0M384.1 222.8h0M418.7 264.7h0M404.5 267.3h0M404.7 249.2h0M423.1 259h0M411.2 232.1h0M388.2 249.4h0M411.6 243.2h0M415.1 250.3h0M414.9 253.6h0M391.3 229.6h0M417.4 259.9h0M419.3 265.1h0M398.3 244.3h0M398.4 229.1h0M406 243.6h0M396.4 226.4h0M380.4 260.8h0M394.5 235.9h0M384.9 258h0M395.9 238.1h0M418.3 253.3h0M403.3 244.5h0M400.5 228.9h0M408.1 230.1h0M405.6 256.6h0M386.4 261.1h0M416.7 259.6h0" stroke="#5a1830" stroke-width="3.5" stroke-linecap="round" opacity="0.6"/>
<path d="M422.3 260.2h0M412.1 264.1h0M412.4 239.9h0M383.4 267.7h0M382.2 268.2h0M385.8 256.7h0M395.3 244h0M407.4 227.6h0M383.1 231.5h0M423.7 254h0M396.4 250.8h0M398.3 250h0M384.2 265.5h0M378 266.4h0M392.5 260.2h0M380.6 246.1h0M404.4 249.9h0M415 229.2h0M416.7 268.5h0M380.4 232.9h0M403.5 233.6h0M390.6 224.5h0M385.9 227.2h0M420 224.7h0M413.8 261.3h0M400.7 226.4h0M390.5 250.7h0M412.6 253.4h0M408.7 255.5h0M411.9 263.8h0M418.1 260h0M394 242.7h0M393.9 244.1h0M411 240.3h0M398.2 255.5h0M398.5 253.6h0M405.3 252.4h0M395.8 246.3h0M400 252.6h0M378.6 223.2h0M423.6 260.6h0M414.6 253h0M416.1 225.3h0M404.5 262.2h0M379.5 256.5h0M412 262.6h0M402.8 264.5h0M398.8 245.5h0M418.4 264h0M385.9 229.9h0M385.4 268.5h0M402.3 257.5h0M422.1 256.2h0M400.9 234.8h0M404 239.8h0M416.5 259.6h0M410.4 248.6h0M401.7 242.8h0M412.3 268.7h0M408.6 246.8h0M379.7 240.3h0M383.6 223.3h0M406.1 233.7h0M411.9 254.4h0M412.2 261.6h0M393.6 225.7h0M420.9 249.8h0M401.3 243.5h0M415.7 266.7h0M382.2 229.7h0M396.4 245.8h0M379.7 232.2h0M386.5 223.8h0M401 255.7h0M391.3 268.4h0M409.7 232.1h0M398.3 264.2h0M379.7 260.1h0M395.9 226.9h0M402.9 242.6h0M407.4 224.7h0M414.4 261.9h0M404 243.2h0M417.4 237.8h0M379.9 253.7h0M392.9 268h0M377.2 245.5h0M394.3 232.9h0M395.6 253.1h0M389.5 258.1h0M380.3 235.3h0M393.5 230.6h0M393.2 242.8h0M401 249.3h0M409.5 265.9h0M397.7 254.7h0M399.5 257.8h0M390.1 248.2h0M407.1 242.9h0M393.4 230.6h0M414 261.7h0M413.2 222.7h0M410.1 229.1h0M419.5 237.6h0M406.9 233.8h0M423.8 250.3h0M383.8 232.7h0M383.1 252.2h0M400.1 236h0M410.8 240.1h0M384.9 245.5h0M392.4 225.2h0M386 228.2h0M377.9 263.6h0M389 267.1h0M381.3 228.9h0M408.2 242.7h0M409 247.5h0M416 232.7h0M380.9 258.7h0M391.5 230.6h0M384.9 261.8h0M407.8 265.3h0M415.7 225.6h0M398.6 259.6h0M388 235.6h0M381.2 241.1h0M420.1 227h0M395.3 224.5h0M421.5 246.4h0M403.2 235h0M404.5 222.9h0M395.9 252.3h0M402.1 232.5h0M421.1 242.8h0M403.2 263.9h0M414.6 260h0M392 223h0M420.3 240.8h0M401.9 224.8h0M378.9 264h0M377.8 248.1h0M377.1 234.5h0M402.9 234.2h0M397.8 234.4h0M387.1 255.9h0M377.6 240.7h0M403.5 242.8h0M402.9 225.5h0M420.7 241.2h0M407.7 233.7h0M421.3 261.7h0M421.8 225h0M383 240.4h0M423 235.3h0M421.4 223h0M397.1 265.5h0M401.5 233.3h0M407.9 238.2h0M381.7 260.4h0M401.9 256.7h0M387.3 264.8h0M381 230h0M391.5 262.5h0M418.9 256.1h0M405.9 254.5h0M377.9 254.8h0M409.4 224.9h0M415 224.2h0M389.6 252.5h0M420.4 236.1h0M398.3 261.6h0M386.1 238.1h0M394.7 245.9h0M385.1 227.3h0M396.2 233.2h0M377 255.3h0M390.7 260.5h0M404.9 239.7h0M380.9 225.4h0M413.5 264.8h0M383.1 249.9h0M398.1 223.7h0M389.5 245.7h0M384.2 236.6h0M385.5 263.7h0M392.7 228.6h0M396.6 269.2h0M412.5 249.6h0M421.3 254.4h0M396.4 233.5h0M387.4 246.2h0M398.8 263.3h0M405.4 268.3h0M387.2 243.1h0M400.1 259.8h0M418.5 259.2h0M378 247.2h0M394.8 252.5h0M390 231.7h0M400 244.8h0M399.6 252.5h0M409.6 252.8h0M382.6 264h0M400.7 227.7h0M379.1 247.3h0M382.8 237.8h0M390.1 265.6h0M420.6 262.4h0M400.8 258h0M401.8 267.3h0M398.9 222.8h0M423.3 244h0M420.7 241.2h0M422.6 253.3h0M389.7 237.5h0M416.6 235.6h0M407.5 256.9h0M408.2 241.3h0M398.9 223.3h0M390.7 239.2h0M403.7 231h0M412 262.9h0M418.6 266.8h0M398.8 231.1h0M379.1 245.8h0M415.1 238.2h0M417.2 246.5h0M423.5 229.9h0M393.5 245h0M416.2 249.5h0M396.8 265.2h0M406.2 249.9h0M381.4 222.3h0M413.9 247.6h0M389.9 230h0M415.8 248.8h0M413.7 242.5h0M395.8 249.7h0M387.9 261.9h0M412 237.1h0M388.6 239.4h0M400.2 227.8h0M412.9 261.6h0M395.1 268.8h0" stroke="#8a3a9a" stroke-width="1.8" stroke-linecap="round" opacity="0.85"/>
<path d="M406.6 238.4h0M417.4 224.1h0M406.9 249.1h0M412.1 252.4h0M418.8 263.7h0M421.2 225.9h0M393.3 232.3h0M381 241.9h0M393.5 244.9h0M381.3 268.4h0M423.5 243h0M381.5 245.1h0M387.8 251.1h0M378.6 256.7h0M407.2 244.9h0M411.7 230.7h0M418.6 238.6h0M415.3 251.5h0M390.9 264.4h0M390.4 258.4h0M414.1 245h0M390 223.3h0M407.8 266.1h0M417.9 235h0M423.1 264.7h0M399.4 257.5h0M381.4 260h0M413.8 251.1h0M390.8 255h0M378.7 267.5h0M417.3 239.4h0M382 267.9h0M422.8 240.3h0M382.8 252.8h0M407.1 260.2h0M416.3 244.3h0M412.6 227.4h0M405.7 225.4h0M403.7 264.8h0M384.8 265.9h0M383.6 261.3h0M377.4 259h0M405.8 253.2h0M394.5 246.1h0M387 229.9h0M418.7 233.3h0M411.5 236.2h0M389.6 262h0M414.9 264.4h0M397.3 254.7h0M416.1 232.7h0M387.4 256.9h0M380.8 224.7h0M401.4 256.7h0M411.7 250h0M407.6 252.7h0M417.2 237.9h0M393.4 244.2h0M392.8 268.2h0M397.8 251.5h0M399.2 257.7h0M393.8 239.5h0M416.6 239.4h0M377.7 247.2h0M416.9 252.2h0M398.3 236.6h0M397.7 251.2h0M381.2 226h0M421.4 247.5h0M381.1 267.7h0M395.6 251.2h0M414.6 259h0M391.2 227.7h0M405.3 265.7h0M409.8 250.7h0M410.5 258.7h0M403.9 255.3h0M398.8 263.5h0M417.7 269.3h0M423.3 254h0M394.5 230.6h0M393.2 226.6h0M413.7 263.8h0M422.4 255.4h0M412.3 254.7h0M392.6 256.3h0M413.7 245.5h0M392.1 261.2h0M389.6 243.4h0M418.9 255.3h0M412.2 252h0M382.8 258.1h0M410.5 239.2h0M403.2 268.2h0M410.9 222.8h0M393.3 243h0M413.9 235.4h0M384.7 236.3h0M388.4 261.8h0M410.6 226.3h0M417.1 227.3h0M406.9 234.7h0" stroke="#b02840" stroke-width="1.6" stroke-linecap="round" opacity="0.85"/>
<path d="M411 242.8h0M390.3 241.9h0M420.6 250.9h0M387.1 262.6h0M419.1 224h0M394.2 260h0M410.1 225.1h0M389.4 262.5h0M382.6 264.4h0M395.9 244.9h0M402.7 227.3h0M387.2 236.3h0M381.3 262.9h0M396.1 237.9h0M384.2 232.5h0M401.4 227.4h0M409.8 232.3h0M406 254.8h0M380.5 254.8h0M379.9 262.1h0M418.4 255.1h0M416.8 231.7h0M412.4 236.3h0M394.2 247h0M383.6 236.1h0M419 240.8h0M418.5 231.6h0M389.2 246.9h0M380.1 235.5h0M410.7 238.5h0M377.9 261.8h0M412 255.4h0M410.6 266h0M387.4 229.2h0M405.2 250.8h0M422.4 226.6h0M394.7 261.3h0M381.9 232.8h0M382 264.1h0M418.5 242.9h0M409.1 251.4h0M380.7 249.9h0M388.6 228h0M393.5 259.2h0M382.3 224.9h0M392.3 249.6h0M400.1 259.5h0M398.8 245.4h0M423 242h0M381.4 229.1h0M421.4 244.1h0M398.9 266h0M388.3 234.2h0M410.5 223.3h0M380.1 227.2h0M418.8 258.1h0M423.7 256.4h0M382.3 224.2h0M405.4 252.4h0M412.5 263.7h0M378.6 247.7h0M415.6 226.2h0M383.1 253.9h0M423.7 231.8h0M413.9 223.3h0M393.4 228.1h0M398.6 232.2h0M404 267.7h0M379.9 231.5h0M388.4 230.6h0M407.4 241.1h0M376.9 244.6h0M399.3 255.8h0M404 250.9h0M395.4 258.8h0M415 237.4h0M402.2 222.3h0M377.6 254.3h0M410.4 229.3h0M376.9 260.4h0M414 249.5h0M411.5 224h0M404.3 254.6h0M387.3 236.9h0M379.3 248.9h0M417.7 246.7h0M384.1 239.2h0M410.9 231.8h0M421.7 255h0M405.2 222.7h0M403.8 259.3h0M388.5 238.1h0M401.6 232.9h0M415.3 241.8h0M393.9 229.7h0M381.2 253.9h0M406.9 261.5h0M382.8 259.6h0M391.4 259.7h0M402.2 233.2h0M397.8 239.9h0M392.9 250.5h0M396 224.9h0M397.5 257.6h0M413.4 269.1h0M383 264.4h0M377.1 248.7h0M409.9 264.2h0M413.5 257h0M419 241.7h0M387.4 228.9h0M418.5 231.7h0M381.1 234.9h0M411.3 265.8h0M416.8 231.9h0M377.5 269.1h0M420.6 251.3h0M399.1 264.9h0M390 246.5h0M394.9 230.8h0M422.2 241.3h0M396.3 239.9h0" stroke="#7060c8" stroke-width="1.6" stroke-linecap="round" opacity="0.85"/>
</g>
<rect x="398.8" y="243.8" width="22" height="21.5" fill="#12060e" />
<g filter="url(#bl)">
<path d="M418 248h0M415.5 260.5h0M417.1 244.2h0M407.7 263.4h0M409.7 253.1h0M403.2 258.2h0M413.4 249.2h0M404.1 254.3h0M404.6 262.2h0" stroke="#501828" stroke-width="5.0" stroke-linecap="round" opacity="0.7"/>
<path d="M406.6 244.1h0M416.4 247.4h0M412.1 263.1h0M413.3 262.6h0M420.5 251.3h0M406.8 265.1h0M401.4 252.8h0" stroke="#7a6cd8" stroke-width="5.5" stroke-linecap="round" opacity="0.95"/>
<path d="M412.1 245.8h0M417.7 259.7h0M400.6 264.5h0M407.2 252.4h0" stroke="#6a4ab0" stroke-width="4.0" stroke-linecap="round" opacity="0.85"/>
</g>
<rect x="398.8" y="243.8" width="22" height="21.5" fill="none" stroke="#fff" stroke-width="1.4" />
</g>
<rect x="390" y="226.3" width="22.9" height="5.3" fill="#fff" />
<text x="401.4" y="230.7" font-size="5.4" font-weight="bold" text-anchor="middle" fill="#111" textLength="21.4" lengthAdjust="spacingAndGlyphs" >MM &#945;IgG</text>
<clipPath id="c23"><rect x="424.9" y="223.3" width="45.1" height="45.2"/></clipPath><g clip-path="url(#c23)">
<rect x="424.9" y="223.3" width="45.1" height="45.2" fill="#12060e" />
<g filter="url(#bl)">
<path d="M433.7 257.4h0M456.3 255.7h0M432.9 231.1h0M467.4 246.9h0M427.3 246.8h0M451.6 262h0M463.4 239.5h0M447.6 256h0M443.9 265.4h0M459.8 227.2h0M425.7 258.5h0M464.1 231.2h0M443.6 226.9h0M453.4 232.5h0M453.3 240.1h0M442.3 254h0M448.7 224.3h0M467.6 225.1h0M447.7 234.3h0M443.8 262.2h0M464.7 235.6h0M434.9 250.5h0M448.1 265.5h0M438.1 235.3h0M439.4 233h0M456 222.5h0M451.1 268.4h0M454.5 250.2h0M466.6 264.5h0M462.9 226.7h0M451.8 261.5h0M457 237h0M460.5 247.9h0M435.1 263.1h0M437.9 234.1h0M470 251.4h0M451 230.6h0M459.6 232.8h0M459.2 230.5h0M435.3 249.9h0M436 225.8h0M447 243.1h0M442.5 227.3h0M445.8 245.3h0M470.1 257.7h0M467.9 230.9h0M448.1 252h0M439.1 237.2h0M466.5 255.4h0M442.4 260.4h0M428.4 252.5h0M429.4 257.1h0M442.5 261.1h0M464.5 249.4h0M443.5 243h0M450.5 266.9h0M453.3 238.7h0" stroke="#601838" stroke-width="3.5" stroke-linecap="round" opacity="0.6"/>
<path d="M444.3 225.7h0M443.3 232.8h0M438.8 245.9h0M425.6 235.2h0M427.3 239.1h0M428.8 225.8h0M427.8 231h0M441.4 242.9h0M439.3 230.9h0M444.9 233.2h0M429.6 227.3h0M446.2 228.9h0M432.9 242.7h0M428.3 227.8h0M440.1 241.8h0M438.1 225.6h0M430.9 245h0M425.2 232.8h0M439.7 226.4h0M437.7 245h0M441.1 244.9h0M436.8 225.9h0M438.8 233.1h0M435.1 244.9h0" stroke="#601838" stroke-width="3.5" stroke-linecap="round" opacity="0.6"/>
<path d="M452.3 247.1h0M467.8 224.9h0M431.8 242.6h0M435.4 226h0M428.3 250.8h0M459.6 243.8h0M429.2 267.7h0M439.6 253.4h0M454.2 257.6h0M449.8 258.8h0M425.5 267.6h0M454.8 258.3h0M460.2 242.7h0M448.4 238h0M425.1 224.3h0M441.7 242.8h0M462.8 241.1h0M445 247h0M434.4 250.9h0M450.9 251.2h0M437.5 259.2h0M441.9 229.3h0M434.4 248.2h0M434.1 257.3h0M433.2 240.7h0M434 265.2h0M447.4 223h0M465.8 248.7h0M447.8 266.1h0M451.2 249.7h0M430.9 243.5h0M445.3 245.1h0M446.8 241.1h0M465.3 245.9h0M468.9 263.4h0M439.6 227.6h0M448 268.8h0M452.4 265.3h0M456.2 257.8h0M460.8 226h0M464.4 229.7h0M470.6 261.1h0M438.6 231.9h0M462.3 244.2h0M459.7 229.3h0M430.8 228h0M458.7 262.6h0M455 244.2h0M424.9 256.2h0M437.8 263.6h0M449.7 266.8h0M425.4 235.6h0M424.4 269.2h0M449.3 244.4h0M429.1 225.3h0M447.3 226.8h0M429.6 260.4h0M438.6 237.5h0M424.5 258.4h0M442.7 265.5h0M452.6 253.9h0M436.5 228.4h0M429.9 248.4h0M448.5 235.2h0M452.5 257.4h0M463.3 241.2h0M430.5 239h0M441.5 241.8h0M434.2 264.1h0M431.6 258.6h0M426.9 236.1h0M428.4 258.8h0M465.2 263.6h0M437.7 255.3h0M454.7 228.2h0M424.6 236.6h0M465.1 224.3h0M463.1 236.7h0M463.1 250h0M435.7 263.2h0M435 250.1h0M425.4 269.3h0M465.5 234.1h0M430.8 262.6h0M470.2 254h0M438.9 237.3h0M430.2 260.4h0M452.9 233.7h0M452.3 261.4h0M428.5 228.9h0M461.4 260.6h0M445.1 253.3h0M467 230.2h0M453.6 243.8h0M424.5 242.6h0M451.1 267.5h0M469.5 233.4h0M451.4 245.8h0M429.1 262.1h0M445.7 252.7h0M442.3 238.5h0M429.7 265h0M465.5 239.1h0M454.6 260h0M444.1 242.4h0M450.2 249.8h0M447.3 227.5h0M452.8 239.4h0M446.4 253.9h0M458.2 239.7h0M453.5 230.2h0M425.2 225.3h0M433.3 247.1h0M427.4 228.9h0M443.3 237.8h0M428.3 246.3h0M469.7 244.3h0M429.6 249.2h0M458.9 250h0M458 224.6h0M436.8 228h0M437.2 257h0M443.1 250h0M436.3 259.2h0M447.9 263.6h0M439.2 262.7h0M442.3 235.8h0M463.8 237.4h0M445.2 228.8h0M461.8 250.6h0M434 261.4h0M432.5 260.9h0M467.3 261.8h0M436.5 243.4h0M460.8 225.7h0M432.1 254.7h0M446.5 258.6h0M437.6 239.7h0M455.8 248.2h0M458.2 252.8h0M430.8 241.7h0M431.7 258.2h0M439.3 252.7h0M462.8 268.3h0M460.5 253.5h0M453.9 253.7h0M447.7 263.7h0M444.8 255h0M465.7 237.9h0M460.6 248.8h0M452.6 245.9h0M452.1 249.5h0M431.5 241.9h0M445.6 233.5h0M425 254.6h0M443.9 249.5h0M470.1 234.6h0M455.3 246.1h0M469.8 265.3h0M462.7 259h0M462.4 242h0M426.1 225.9h0M429.3 246.3h0M440.1 254.8h0M451.9 237.8h0M451.5 222.9h0M425.4 264.5h0M453.7 249h0M464 229.4h0M437 247.5h0M456.2 247.2h0M451.4 257.2h0M460.9 232.5h0M446.6 252.4h0M427.8 228.7h0M436.2 242.8h0M437.4 267.3h0M454.8 256.3h0M437.6 262.5h0M456 266.1h0M460.6 262.3h0M427 257.6h0M463.1 243h0M456.3 239h0M429 236.9h0M458.8 235.8h0" stroke="#c04880" stroke-width="1.8" stroke-linecap="round" opacity="0.85"/>
<path d="M431.8 230.5h0M427.7 233.1h0M430.5 232h0M435.9 225.4h0M441 226.6h0M438.5 237.6h0M440 241.5h0M443.2 234.6h0M428.6 237.8h0M443.9 238.1h0M439.1 239.3h0M441.2 238.5h0M442.2 241.5h0M443.4 235h0M428.7 245h0M436.4 227.7h0M432.6 240.2h0M427 223.6h0M433.3 245h0M446.4 236h0M446.5 235.2h0M433.8 224.4h0M425 242.2h0M435.9 245.1h0M439 225.5h0M426.8 243.7h0M430.8 235.5h0M429.8 236.2h0M444.2 223.4h0M424.9 238.4h0M428.1 241.1h0M439.6 238.4h0M437.3 245h0M446.2 243.8h0M444.6 225.8h0M428.5 238.7h0M434.9 236.6h0M429.5 224.2h0M446.7 225.2h0M426.5 240.3h0M435.5 244h0M445.6 231.2h0M446.5 238.1h0M447.1 236.3h0M434.7 231.8h0M441.2 242.6h0M429.2 237h0M426 236.6h0M441.1 239.4h0M431.6 224.7h0M438.9 240.9h0M445.1 238.6h0M429.5 229.1h0M432.4 230h0M445.7 229.4h0M439.1 233.5h0M439 233.4h0M444.6 226h0M431.6 233.4h0M431.6 232.2h0M446.5 240.3h0M426.6 245.9h0M444.5 229.9h0M432.5 230.8h0M427.8 236.8h0M445.7 239.3h0M431.5 244.9h0M429.9 244.3h0M432.8 228.9h0M439.7 231.8h0M447.3 245.2h0M440.2 224.5h0M444.2 242.4h0M439.8 229.7h0M433.5 237.2h0M444.5 236.4h0M435 237.2h0M442.9 224.8h0M436.2 236h0" stroke="#c04880" stroke-width="1.8" stroke-linecap="round" opacity="0.85"/>
<path d="M434.8 252.9h0M432.8 232.8h0M468.9 230.7h0M464.6 262.5h0M467 222.9h0M443.6 253.6h0M460.3 229.4h0M447.9 260.7h0M429.8 266.8h0M447.3 246.7h0M449.1 244.2h0M425.9 229.5h0M442.6 261.4h0M455.1 244.7h0M445.9 235.9h0M437.1 268.7h0M426.5 226.9h0M445.5 241.3h0M435.6 255.8h0M439.9 235.2h0M468.5 235.5h0M449 223h0M444.4 249h0M457.4 229.8h0M451.4 231h0M465.8 261h0M458 253.9h0M429 262.5h0M463.2 244.3h0M455.8 262.4h0M446.5 266.6h0M427.3 236h0M427.8 234.3h0M438.7 257.8h0M458.6 232.9h0M439.8 265h0M427.6 246.2h0M425.5 249.9h0M466.7 266.9h0M448.7 243.2h0M434.8 224.1h0M428.2 238.9h0M467.2 269.2h0M436.4 255h0M439.6 269.2h0M442.6 235.6h0M466.4 260.5h0M454.9 223.3h0M456.2 245h0M454.9 251.7h0M434.1 230.2h0M442.4 266.4h0M450.8 256.5h0M436.4 230.9h0M428.2 236.5h0M440.5 251.9h0M444.4 229.7h0M447.1 235.2h0M447.8 228h0M444 261.6h0M435.9 259.2h0M445.9 247.9h0M442 263.8h0M468.9 223.7h0M434 232.2h0M432.2 265.9h0M429.5 226.4h0M465.9 240.8h0M427.9 248h0M462.4 225.8h0M428.4 222.4h0M466.5 226.4h0M470.2 238.7h0M434.1 240.8h0M439.4 225.5h0M438.2 252.6h0M451.4 255.6h0M427.7 262h0M464.2 241.1h0M449.5 242.1h0M448.3 231.1h0M462.2 231.9h0M435.1 263.3h0M433.3 230.5h0M449.8 261.7h0M428.4 244h0" stroke="#8a3a9a" stroke-width="1.6" stroke-linecap="round" opacity="0.85"/>
<path d="M444.8 234.4h0M446.7 240.5h0M444.6 245.7h0M429.2 238.8h0M438.2 245.9h0M443.5 235.5h0M443.1 244.6h0M440.3 236.6h0M432.2 245.2h0M430.4 236.2h0M437.5 235.9h0M425.6 235.8h0M446.7 227.9h0M436.5 244.4h0M436.9 232.7h0M445.2 241h0M429.8 238h0M426.3 237.1h0M442.3 242.2h0M434.3 243.3h0M429.2 227h0M434.2 230.4h0M441.3 245.9h0M434 244h0M431.9 240.2h0M432 226.1h0M434 238.2h0M429.1 239.8h0M427.7 227.9h0M438.8 245.4h0M443.8 228.4h0M426.6 223.5h0M434 228.9h0M433.1 229h0M426.8 237.7h0M441.6 231.8h0" stroke="#8a3a9a" stroke-width="1.6" stroke-linecap="round" opacity="0.85"/>
<path d="M460.4 253.7h0M466.6 223.6h0M429.8 244.4h0M445.2 252.5h0M465.6 264.8h0M461.9 228.2h0M434.2 255.9h0M462.3 231.6h0M467.5 225.2h0M462 231.9h0M470.5 250.1h0M458.5 223.6h0M462.3 266.7h0M469.2 234.6h0M427.5 241.4h0M425.1 250.2h0M466.6 241.8h0M440.8 237.5h0M440.3 262h0M464 241.3h0M455.9 251.8h0M441.9 225.6h0M439.2 239.7h0M458.9 245.5h0M454.2 242.3h0M467.3 264.9h0M450.4 231h0M449.4 240.9h0M447 232.2h0M427.9 259.8h0M425.2 232.9h0M438.4 228.8h0M458.7 237.7h0M427.8 266.4h0M450 246.3h0M429 264.7h0M468.7 227.4h0M459.9 225.2h0M454.8 241h0M433.5 224.5h0M441.8 266.4h0M467.2 227.1h0M444.4 252.5h0M455 261h0M456.4 268.5h0M427 254.8h0M453.9 256.1h0M450.4 241h0M457.6 233.4h0M428.7 249.9h0M435.6 258.3h0M431.3 258.7h0M456.6 255.2h0M428.8 243.8h0M450 260.9h0M450.7 242.4h0M446.7 245.5h0" stroke="#e070a0" stroke-width="1.2" stroke-linecap="round" opacity="0.85"/>
<path d="M435 240.4h0M428.8 243h0M442.1 240.8h0M436.6 228.9h0M433 224.4h0M444.2 230.5h0M444.5 225.7h0M426.2 233.6h0M437.8 226.4h0M441.2 245.7h0M429 231h0M436.2 245.1h0M434.9 236.9h0M443.9 223.8h0M434.5 227.4h0M427.3 227.4h0M443.4 231.8h0M435.9 240.3h0M442.9 232.4h0M426.5 245.6h0M435.7 236.1h0M446.4 235.6h0M442 224.8h0M429 234.1h0" stroke="#e070a0" stroke-width="1.2" stroke-linecap="round" opacity="0.85"/>
<path d="M469.9 267.7h0M444.4 241.7h0M465.9 254.9h0M448.2 269.4h0M441.9 261.7h0M470.4 253.1h0M450.3 233h0M438 268h0M454.5 257.1h0M424.1 229.5h0M455.3 236.9h0M435.8 269.2h0M467 231.8h0M425.8 230.1h0M428.6 257.5h0M439.3 243h0M433.8 269.4h0M464.1 254.2h0M450 231h0M443.7 250.8h0M449.9 268.2h0M440.5 259.3h0M430.9 227.8h0M460.7 249.2h0M466.1 234.4h0M444.3 248.9h0M449.1 243.2h0M451.1 244.5h0M454.5 250h0M437.6 241.3h0M468.6 267.2h0M460.8 227.9h0M431.7 236.3h0M446.3 252.5h0M427.5 263.1h0M447.6 250.3h0M469.8 263.4h0M457.7 223.2h0M469.7 224.4h0M457.3 226.6h0M426.2 230.6h0M462.8 244.5h0M449.1 243.2h0" stroke="#c02838" stroke-width="1.6" stroke-linecap="round" opacity="0.85"/>
<path d="M426.4 226.6h0M446.3 235.7h0M443.7 236.7h0M436.7 223.7h0M428.1 226.5h0M442 245.1h0M439.4 230.4h0M445.2 236.9h0M437.3 230.7h0M432.2 241.6h0M439.4 240.5h0M431.9 225.7h0M444 231.8h0M431.7 229h0M425.9 227.1h0M429.6 224.6h0M437.5 244.8h0M437.1 238h0" stroke="#c02838" stroke-width="1.6" stroke-linecap="round" opacity="0.85"/>
</g>
<rect x="445.3" y="243.8" width="22.3" height="21.5" fill="#12060e" />
<g filter="url(#bl)">
<path d="M451.2 244.9h0M465.3 258.5h0M457.8 254.4h0M459.7 249.4h0M466.6 262h0M453.3 248.6h0M448.2 264.9h0M463.4 259.5h0M461.9 244.1h0" stroke="#8878e0" stroke-width="5.4" stroke-linecap="round" opacity="0.95"/>
<path d="M458.3 247.9h0M461.8 250.5h0M462.4 246.3h0M463.6 252.7h0M453 254.7h0M448.1 261.2h0M465.4 248.4h0M447.9 250.7h0M454 247.5h0M462.4 244.9h0" stroke="#d02030" stroke-width="4.2" stroke-linecap="round" opacity="0.9"/>
</g>
<rect x="445.3" y="243.8" width="22.3" height="21.5" fill="none" stroke="#fff" stroke-width="1.4" />
</g>
<rect x="429.3" y="226.3" width="37.8" height="5.3" fill="#fff" />
<text x="448.2" y="230.7" font-size="5.4" font-weight="bold" text-anchor="middle" fill="#111" textLength="36.3" lengthAdjust="spacingAndGlyphs" >&#945;CD274/276/270</text>
<text x="423" y="277.4" font-size="9.0" font-weight="bold" text-anchor="middle" fill="#111" textLength="87" lengthAdjust="spacingAndGlyphs" >Multiple Myeloma (MM)</text>
<text x="422.8" y="287" font-size="9.0" font-weight="bold" text-anchor="middle" fill="#111" textLength="70.5" lengthAdjust="spacingAndGlyphs" >RPMI8226 cell line</text>
<path d="M375.3 286L375.3 378" stroke="#000" stroke-width="1.6" />
<path d="M371.7 377.2L375.3 377.2" stroke="#000" stroke-width="1.4400000000000002" />
<text x="369.3" y="380.2" font-size="8.4" text-anchor="end" fill="#222" >0</text>
<path d="M371.7 362.1L375.3 362.1" stroke="#000" stroke-width="1.4400000000000002" />
<text x="369.3" y="365.1" font-size="8.4" text-anchor="end" fill="#222" >1</text>
<path d="M371.7 347L375.3 347" stroke="#000" stroke-width="1.4400000000000002" />
<text x="369.3" y="350" font-size="8.4" text-anchor="end" fill="#222" >2</text>
<path d="M371.7 331.9L375.3 331.9" stroke="#000" stroke-width="1.4400000000000002" />
<text x="369.3" y="334.9" font-size="8.4" text-anchor="end" fill="#222" >3</text>
<path d="M371.7 316.8L375.3 316.8" stroke="#000" stroke-width="1.4400000000000002" />
<text x="369.3" y="319.8" font-size="8.4" text-anchor="end" fill="#222" >4</text>
<path d="M371.7 301.7L375.3 301.7" stroke="#000" stroke-width="1.4400000000000002" />
<text x="369.3" y="304.7" font-size="8.4" text-anchor="end" fill="#222" >5</text>
<path d="M371.7 286.6L375.3 286.6" stroke="#000" stroke-width="1.4400000000000002" />
<text x="369.3" y="289.6" font-size="8.4" text-anchor="end" fill="#222" >6</text>
<path d="M384.1 356.8V352.3M381.1 352.3h6" stroke="#000" stroke-width="1.3"/>
<rect x="378.8" y="357.6" width="10.6" height="19.6" fill="#ffffff" stroke="#000" stroke-width="1.6" />
<path d="M399.6 353V347.8M396.6 347.8h6" stroke="#000" stroke-width="1.3"/>
<rect x="394.4" y="353.8" width="10.5" height="23.4" fill="#3b5ca6" stroke="#000" stroke-width="1.6" />
<path d="M417 338.7V334.2M414 334.2h6" stroke="#000" stroke-width="1.3"/>
<rect x="411.8" y="339.5" width="10.4" height="37.7" fill="#d2323f" stroke="#000" stroke-width="1.6" />
<text x="417" y="333.6" font-size="9.0" font-weight="bold" text-anchor="middle" >*</text>
<path d="M434.2 340.2V335.7M431.2 335.7h6" stroke="#000" stroke-width="1.3"/>
<rect x="429" y="341" width="10.5" height="36.2" fill="#3cb44b" stroke="#000" stroke-width="1.6" />
<text x="434.2" y="335.1" font-size="9.0" font-weight="bold" text-anchor="middle" >*</text>
<path d="M451.6 334.2V330.4M448.6 330.4h6" stroke="#000" stroke-width="1.3"/>
<rect x="446.3" y="335" width="10.5" height="42.2" fill="#f2ee62" stroke="#000" stroke-width="1.6" />
<text x="451.6" y="329.8" font-size="9.0" font-weight="bold" text-anchor="middle" >*</text>
<path d="M468.6 300.2V296.4M465.6 296.4h6" stroke="#000" stroke-width="1.3"/>
<rect x="463.6" y="301" width="9.9" height="76.2" fill="#dcdcdc" stroke="#000" stroke-width="1.6" />
<text x="468.6" y="295.8" font-size="9.0" font-weight="bold" text-anchor="middle" >*</text>
<path d="M374.5 377.2L477.5 377.2" stroke="#000" stroke-width="1.8" />
<text x="351.2" y="328.9" font-size="8.3" font-weight="bold" text-anchor="middle" fill="#111" textLength="102" lengthAdjust="spacingAndGlyphs" transform="rotate(-90 351.2 328.9)" >Mean area of T cell F-actin</text>
<text x="360.7" y="328.9" font-size="8.3" font-weight="bold" text-anchor="middle" fill="#111" textLength="97" lengthAdjust="spacingAndGlyphs" transform="rotate(-90 360.7 328.9)" >immune synapses (&#956;M<tspan dy="-3" font-size="5.5">2</tspan><tspan dy="3">)</tspan></text>
<path d="M451.5 294.5V294.5H468.5" fill="none" stroke="#555" stroke-width="0.9"/>
<text x="452" y="293.7" font-size="9.0" font-weight="bold" text-anchor="middle" fill="#222" >*</text>
<text x="96.8" y="408.3" font-size="9.0" font-weight="bold" text-anchor="middle" fill="#111" textLength="142.6" lengthAdjust="spacingAndGlyphs" >Oral squamous cell carcinoma (SCC)</text>
<text x="95.4" y="417.4" font-size="9.0" font-weight="bold" text-anchor="middle" fill="#111" textLength="49.2" lengthAdjust="spacingAndGlyphs" >VB6 cell line</text>
<path d="M36.3 418.6L36.3 510.5" stroke="#000" stroke-width="1.6" />
<path d="M32.7 509.7L36.3 509.7" stroke="#000" stroke-width="1.4400000000000002" />
<text x="30.3" y="512.7" font-size="8.4" text-anchor="end" fill="#222" >0</text>
<path d="M32.7 494.6L36.3 494.6" stroke="#000" stroke-width="1.4400000000000002" />
<text x="30.3" y="497.6" font-size="8.4" text-anchor="end" fill="#222" >1</text>
<path d="M32.7 479.5L36.3 479.5" stroke="#000" stroke-width="1.4400000000000002" />
<text x="30.3" y="482.5" font-size="8.4" text-anchor="end" fill="#222" >2</text>
<path d="M32.7 464.4L36.3 464.4" stroke="#000" stroke-width="1.4400000000000002" />
<text x="30.3" y="467.4" font-size="8.4" text-anchor="end" fill="#222" >3</text>
<path d="M32.7 449.4L36.3 449.4" stroke="#000" stroke-width="1.4400000000000002" />
<text x="30.3" y="452.4" font-size="8.4" text-anchor="end" fill="#222" >4</text>
<path d="M32.7 434.3L36.3 434.3" stroke="#000" stroke-width="1.4400000000000002" />
<text x="30.3" y="437.3" font-size="8.4" text-anchor="end" fill="#222" >5</text>
<path d="M32.7 419.2L36.3 419.2" stroke="#000" stroke-width="1.4400000000000002" />
<text x="30.3" y="422.2" font-size="8.4" text-anchor="end" fill="#222" >6</text>
<path d="M45.1 487.8V483.3M42.1 483.3h6" stroke="#000" stroke-width="1.3"/>
<rect x="39.8" y="488.6" width="10.6" height="21.1" fill="#ffffff" stroke="#000" stroke-width="1.6" />
<path d="M61.5 484.8V481.8M58.5 481.8h6" stroke="#000" stroke-width="1.3"/>
<rect x="56" y="485.6" width="11" height="24.1" fill="#3b5ca6" stroke="#000" stroke-width="1.6" />
<path d="M78.8 464.4V458.4M75.8 458.4h6" stroke="#000" stroke-width="1.3"/>
<rect x="73.5" y="465.2" width="10.5" height="44.5" fill="#d2323f" stroke="#000" stroke-width="1.6" />
<text x="78.8" y="457.8" font-size="9.0" font-weight="bold" text-anchor="middle" >*</text>
<path d="M96.2 461.4V455.4M93.2 455.4h6" stroke="#000" stroke-width="1.3"/>
<rect x="91" y="462.2" width="10.5" height="47.5" fill="#3cb44b" stroke="#000" stroke-width="1.6" />
<text x="96.2" y="454.8" font-size="9.0" font-weight="bold" text-anchor="middle" >*</text>
<path d="M113.2 490.1V485.6M110.2 485.6h6" stroke="#000" stroke-width="1.3"/>
<rect x="108" y="490.9" width="10.5" height="18.8" fill="#f2ee62" stroke="#000" stroke-width="1.6" />
<path d="M131.3 432.8V427.5M128.3 427.5h6" stroke="#000" stroke-width="1.3"/>
<rect x="126" y="433.6" width="10.6" height="76.1" fill="#1c1c1c" stroke="#000" stroke-width="1.6" />
<text x="131.3" y="426.9" font-size="9.0" font-weight="bold" text-anchor="middle" >*</text>
<path d="M35.5 509.7L138.5 509.7" stroke="#000" stroke-width="1.8" />
<text x="12.2" y="461.4" font-size="8.3" font-weight="bold" text-anchor="middle" fill="#111" textLength="102" lengthAdjust="spacingAndGlyphs" transform="rotate(-90 12.2 461.4)" >Mean area of T cell F-actin</text>
<text x="21.7" y="461.4" font-size="8.3" font-weight="bold" text-anchor="middle" fill="#111" textLength="97" lengthAdjust="spacingAndGlyphs" transform="rotate(-90 21.7 461.4)" >immune synapses (&#956;M<tspan dy="-3" font-size="5.5">2</tspan><tspan dy="3">)</tspan></text>
<path d="M95.6 428.5V428.5H128" fill="none" stroke="#555" stroke-width="0.9"/>
<text x="110" y="427.7" font-size="9.0" font-weight="bold" text-anchor="middle" fill="#222" >*</text>
<text x="258.2" y="407" font-size="9.0" font-weight="bold" text-anchor="middle" fill="#111" textLength="78.3" lengthAdjust="spacingAndGlyphs" >Ovarian cancer (OC)</text>
<text x="259.2" y="417.6" font-size="9.0" font-weight="bold" text-anchor="middle" fill="#111" textLength="63.5" lengthAdjust="spacingAndGlyphs" >SKOV3 cell line</text>
<text x="362.6" y="407" font-size="9.0" font-weight="bold" text-anchor="middle" fill="#111" textLength="88.7" lengthAdjust="spacingAndGlyphs" >Non-malignant ovarian</text>
<text x="363.1" y="416.8" font-size="9.0" font-weight="bold" text-anchor="middle" fill="#111" textLength="89.8" lengthAdjust="spacingAndGlyphs" >epithelial IOSE cell line</text>
<path d="M211.6 424.5L306.8 424.5" stroke="#222" stroke-width="1.2" />
<path d="M316.5 424.5L413 424.5" stroke="#222" stroke-width="1.2" />
<path d="M207.4 418.2L207.4 509.9" stroke="#000" stroke-width="1.6" />
<path d="M203.8 509.1L207.4 509.1" stroke="#000" stroke-width="1.4400000000000002" />
<text x="201.4" y="512.1" font-size="8.4" text-anchor="end" fill="#222" >0</text>
<path d="M203.8 494.1L207.4 494.1" stroke="#000" stroke-width="1.4400000000000002" />
<text x="201.4" y="497.1" font-size="8.4" text-anchor="end" fill="#222" >1</text>
<path d="M203.8 479L207.4 479" stroke="#000" stroke-width="1.4400000000000002" />
<text x="201.4" y="482" font-size="8.4" text-anchor="end" fill="#222" >2</text>
<path d="M203.8 464L207.4 464" stroke="#000" stroke-width="1.4400000000000002" />
<text x="201.4" y="467" font-size="8.4" text-anchor="end" fill="#222" >3</text>
<path d="M203.8 448.9L207.4 448.9" stroke="#000" stroke-width="1.4400000000000002" />
<text x="201.4" y="451.9" font-size="8.4" text-anchor="end" fill="#222" >4</text>
<path d="M203.8 433.9L207.4 433.9" stroke="#000" stroke-width="1.4400000000000002" />
<text x="201.4" y="436.9" font-size="8.4" text-anchor="end" fill="#222" >5</text>
<path d="M203.8 418.8L207.4 418.8" stroke="#000" stroke-width="1.4400000000000002" />
<text x="201.4" y="421.8" font-size="8.4" text-anchor="end" fill="#222" >6</text>
<path d="M216.4 490V485.5M213.4 485.5h6" stroke="#000" stroke-width="1.3"/>
<rect x="211.4" y="490.8" width="10" height="18.3" fill="#ffffff" stroke="#000" stroke-width="1.6" />
<path d="M233.1 465.3V460M230.1 460h6" stroke="#000" stroke-width="1.3"/>
<rect x="227.8" y="466.1" width="10.5" height="43" fill="#3b5ca6" stroke="#000" stroke-width="1.6" />
<text x="233.1" y="459.4" font-size="9.0" font-weight="bold" text-anchor="middle" >*</text>
<path d="M250 478.5V474.8M247 474.8h6" stroke="#000" stroke-width="1.3"/>
<rect x="244.8" y="479.3" width="10.4" height="29.8" fill="#d2323f" stroke="#000" stroke-width="1.6" />
<text x="250" y="474.2" font-size="9.0" font-weight="bold" text-anchor="middle" >*</text>
<path d="M267 460.5V457.5M264 457.5h6" stroke="#000" stroke-width="1.3"/>
<rect x="261.8" y="461.3" width="10.4" height="47.8" fill="#3cb44b" stroke="#000" stroke-width="1.6" />
<text x="267" y="456.9" font-size="9.0" font-weight="bold" text-anchor="middle" >*</text>
<path d="M283.9 477.5V473.7M280.9 473.7h6" stroke="#000" stroke-width="1.3"/>
<rect x="278.6" y="478.3" width="10.6" height="30.8" fill="#f2ee62" stroke="#000" stroke-width="1.6" />
<text x="283.9" y="473.1" font-size="9.0" font-weight="bold" text-anchor="middle" >*</text>
<path d="M301 435.7V432.6M298 432.6h6" stroke="#000" stroke-width="1.3"/>
<rect x="296" y="436.5" width="10" height="72.6" fill="#f7941d" stroke="#000" stroke-width="1.6" />
<text x="301" y="432" font-size="9.0" font-weight="bold" text-anchor="middle" >*</text>
<path d="M320.9 444.8V440.3M317.9 440.3h6" stroke="#000" stroke-width="1.3"/>
<rect x="315.8" y="445.6" width="10.1" height="63.5" fill="#ffffff" stroke="#000" stroke-width="1.6" />
<path d="M337.9 441.5V437.8M334.9 437.8h6" stroke="#000" stroke-width="1.3"/>
<rect x="332.4" y="442.3" width="11" height="66.8" fill="#3b5ca6" stroke="#000" stroke-width="1.6" />
<path d="M354.6 436.7V432.9M351.6 432.9h6" stroke="#000" stroke-width="1.3"/>
<rect x="349.4" y="437.5" width="10.5" height="71.6" fill="#d2323f" stroke="#000" stroke-width="1.6" />
<path d="M371.9 439.1V435.4M368.9 435.4h6" stroke="#000" stroke-width="1.3"/>
<rect x="366.4" y="439.9" width="11" height="69.2" fill="#3cb44b" stroke="#000" stroke-width="1.6" />
<path d="M389.1 446V440.8M386.1 440.8h6" stroke="#000" stroke-width="1.3"/>
<rect x="383.8" y="446.8" width="10.6" height="62.3" fill="#f2ee62" stroke="#000" stroke-width="1.6" />
<path d="M405.9 438.2V432.9M402.9 432.9h6" stroke="#000" stroke-width="1.3"/>
<rect x="400.4" y="439" width="11" height="70.1" fill="#f7941d" stroke="#000" stroke-width="1.6" />
<path d="M206.6 509.1L418.5 509.1" stroke="#000" stroke-width="1.8" />
<text x="183.3" y="461" font-size="8.3" font-weight="bold" text-anchor="middle" fill="#111" textLength="102" lengthAdjust="spacingAndGlyphs" transform="rotate(-90 183.3 461)" >Mean area of T cell F-actin</text>
<text x="192.8" y="461" font-size="8.3" font-weight="bold" text-anchor="middle" fill="#111" textLength="97" lengthAdjust="spacingAndGlyphs" transform="rotate(-90 192.8 461)" >immune synapses (&#956;M<tspan dy="-3" font-size="5.5">2</tspan><tspan dy="3">)</tspan></text>
<path d="M267.3 431.5V431.5H296.3" fill="none" stroke="#555" stroke-width="0.9"/>
<text x="281.4" y="430.7" font-size="9.0" font-weight="bold" text-anchor="middle" fill="#222" >*</text>
<clipPath id="c24"><rect x="441" y="386.2" width="61" height="59.6"/></clipPath><g clip-path="url(#c24)">
<rect x="441" y="386.2" width="61" height="59.6" fill="#060206" />
<g filter="url(#bl)">
<g fill="#5a4ac0" stroke="#d82838" stroke-width="0.9"><circle cx="450.3" cy="443.4" r="3.2"/><circle cx="480.9" cy="403.1" r="2.9"/><circle cx="453.1" cy="426.9" r="2.7"/><circle cx="451" cy="415.2" r="2.4"/><circle cx="486.9" cy="399.4" r="3.2"/><circle cx="496.5" cy="385.4" r="3.3"/><circle cx="485" cy="438.7" r="2.8"/><circle cx="447.9" cy="422.1" r="2.8"/><circle cx="459.1" cy="435.4" r="2.6"/><circle cx="481.2" cy="419" r="3.4"/><circle cx="443.2" cy="400.9" r="3.2"/><circle cx="477.4" cy="412.3" r="2.3"/><circle cx="494.7" cy="402.8" r="2.8"/><circle cx="491.1" cy="414.8" r="2.5"/><circle cx="499.5" cy="427.1" r="2.3"/><circle cx="458.7" cy="390.4" r="3.1"/><circle cx="458.5" cy="444.8" r="2.7"/><circle cx="475" cy="432.1" r="2.6"/></g>
<g fill="#5a4ac0"><circle cx="468" cy="393.6" r="2.4"/><circle cx="490.4" cy="433.9" r="3"/><circle cx="457.2" cy="409.4" r="2.8"/><circle cx="451.8" cy="389.6" r="2.7"/><circle cx="501.2" cy="407.8" r="2.8"/><circle cx="484.5" cy="393.6" r="2.3"/><circle cx="466.9" cy="446.7" r="3"/><circle cx="500.2" cy="414.1" r="2.8"/><circle cx="466.3" cy="422.1" r="3.1"/><circle cx="504" cy="443.4" r="2.7"/><circle cx="494.3" cy="395.5" r="3"/><circle cx="491.4" cy="445.8" r="3"/><circle cx="444.1" cy="441.2" r="2.9"/><circle cx="500.7" cy="400.8" r="2.9"/><circle cx="485.4" cy="387" r="2.7"/></g>
<g fill="none" stroke="#d82838" stroke-width="0.9"><circle cx="442.1" cy="416.1" r="2.5"/><circle cx="443.7" cy="390.2" r="2.3"/><circle cx="473.1" cy="405.8" r="2.8"/><circle cx="481.4" cy="447.8" r="2.3"/><circle cx="467.7" cy="411" r="3"/><circle cx="502.6" cy="434.2" r="3"/><circle cx="466.2" cy="400.3" r="3.3"/><circle cx="489.9" cy="421.4" r="3"/><circle cx="482.6" cy="428.8" r="2.8"/></g>
</g>
<rect x="469" y="412.6" width="30.4" height="29.8" fill="#060206" />
<g filter="url(#bl)">
<g fill="#6a58d0" stroke="#d82838" stroke-width="1.2"><circle cx="495.5" cy="433.5" r="3.8"/><circle cx="484.5" cy="437.5" r="5.4"/><circle cx="475.8" cy="420.3" r="4.6"/><circle cx="497.8" cy="421.1" r="4.1"/></g>
<g fill="#6a58d0"></g>
<g fill="none" stroke="#d82838" stroke-width="1.2"><circle cx="473.9" cy="435.1" r="5.4"/><circle cx="487.7" cy="417.2" r="4.8"/></g>
</g>
<rect x="469" y="412.6" width="30.4" height="29.8" fill="none" stroke="#fff" stroke-width="1.4" />
</g>
<rect x="444" y="389.5" width="28.8" height="6.4" fill="#fff" />
<text x="458.4" y="395.2" font-size="7.4" font-weight="bold" text-anchor="middle" fill="#000" textLength="27.8" lengthAdjust="spacingAndGlyphs" >SKOV3</text>
<clipPath id="c25"><rect x="441" y="451" width="61" height="59.6"/></clipPath><g clip-path="url(#c25)">
<rect x="441" y="451" width="61" height="59.6" fill="#060206" />
<g filter="url(#bl)">
<g fill="#5a4ac0" stroke="#d82838" stroke-width="0.9"><circle cx="452.5" cy="501.1" r="3.2"/><circle cx="473.4" cy="454.1" r="2.3"/><circle cx="443.4" cy="492.9" r="3"/><circle cx="473" cy="495.8" r="2.3"/><circle cx="475.4" cy="466.8" r="2.4"/><circle cx="489.2" cy="452.6" r="2.9"/><circle cx="484.1" cy="509" r="2.8"/><circle cx="454" cy="491.1" r="2.3"/><circle cx="457.8" cy="480.5" r="2.5"/><circle cx="478.1" cy="483.1" r="2.6"/><circle cx="469.5" cy="470.9" r="2.4"/><circle cx="486.8" cy="466.3" r="3.2"/><circle cx="455.8" cy="474.2" r="2.4"/><circle cx="486.8" cy="482.4" r="2.6"/><circle cx="463.7" cy="468.5" r="3.1"/><circle cx="443.5" cy="450.5" r="2.5"/><circle cx="495.7" cy="504.4" r="2.8"/><circle cx="493.7" cy="479.5" r="2.9"/><circle cx="501.6" cy="509" r="2.4"/><circle cx="440.2" cy="478.8" r="2.4"/><circle cx="501.3" cy="452.9" r="2.7"/><circle cx="461.9" cy="460.2" r="2.7"/><circle cx="468.5" cy="482.9" r="2.8"/><circle cx="479.2" cy="497.1" r="3.1"/><circle cx="465.6" cy="509.5" r="3.2"/><circle cx="481" cy="449.3" r="2.3"/><circle cx="502.6" cy="501.1" r="2.9"/><circle cx="501.4" cy="484.5" r="2.6"/><circle cx="473.9" cy="502.7" r="2.5"/><circle cx="490.5" cy="498.9" r="3.3"/><circle cx="503.7" cy="461.6" r="2.9"/><circle cx="467.9" cy="499.5" r="3.1"/><circle cx="456.8" cy="457.7" r="3.3"/><circle cx="462.6" cy="486.6" r="2.9"/></g>
<g fill="#5a4ac0"><circle cx="440.1" cy="468.5" r="3.1"/><circle cx="495.2" cy="456" r="2.4"/><circle cx="449.4" cy="461" r="2.8"/><circle cx="496.5" cy="463" r="2.5"/><circle cx="443.8" cy="510.7" r="3.3"/><circle cx="503.2" cy="490.8" r="3.2"/><circle cx="486.2" cy="489.8" r="2.7"/><circle cx="486.1" cy="475.3" r="3.3"/><circle cx="454.7" cy="467.3" r="3.1"/><circle cx="439" cy="486.9" r="2.7"/><circle cx="480.9" cy="471.8" r="3.3"/><circle cx="490.9" cy="510.5" r="2.7"/><circle cx="496.9" cy="512.6" r="3.2"/><circle cx="463.1" cy="479.2" r="2.4"/><circle cx="444.1" cy="464" r="2.4"/></g>
<g fill="none" stroke="#d82838" stroke-width="0.9"><circle cx="481.5" cy="457.8" r="2.8"/><circle cx="456.6" cy="449.1" r="2.3"/><circle cx="494.9" cy="488.3" r="3.3"/><circle cx="469.6" cy="463.2" r="2.3"/><circle cx="500.2" cy="476.9" r="2.3"/><circle cx="458.5" cy="497.7" r="2.5"/><circle cx="446.3" cy="504" r="3.2"/><circle cx="471.8" cy="509.1" r="2.8"/><circle cx="491.7" cy="470.7" r="2.8"/><circle cx="460.4" cy="504.1" r="3.2"/><circle cx="463.9" cy="454.2" r="3.1"/><circle cx="472.6" cy="477.5" r="2.3"/><circle cx="449.2" cy="474.6" r="2.4"/><circle cx="449.5" cy="483.2" r="2.8"/><circle cx="456.4" cy="512.5" r="2.5"/><circle cx="466.7" cy="493.2" r="3.3"/><circle cx="440.9" cy="459.6" r="2.5"/><circle cx="502.9" cy="469.9" r="2.9"/><circle cx="475.4" cy="489.2" r="3"/><circle cx="461.3" cy="473.8" r="2.3"/><circle cx="480.1" cy="504.9" r="2.3"/></g>
</g>
<rect x="469" y="477.6" width="30.4" height="30.2" fill="#060206" />
<g filter="url(#bl)">
<g fill="#6a58d0" stroke="#d82838" stroke-width="1.2"><circle cx="470.2" cy="491.5" r="4.4"/><circle cx="480.6" cy="493.7" r="4.1"/><circle cx="492.8" cy="494.7" r="4.3"/><circle cx="483.1" cy="480.1" r="5"/><circle cx="496.3" cy="506.1" r="5"/></g>
<g fill="#6a58d0"></g>
<g fill="none" stroke="#d82838" stroke-width="1.2"><circle cx="477.9" cy="506.1" r="4.2"/><circle cx="495.9" cy="483.6" r="5.4"/></g>
</g>
<rect x="469" y="477.6" width="30.4" height="30.2" fill="none" stroke="#fff" stroke-width="1.4" />
</g>
<rect x="444" y="454.3" width="22" height="6.4" fill="#fff" />
<text x="455" y="460" font-size="7.4" font-weight="bold" text-anchor="middle" fill="#000" textLength="21" lengthAdjust="spacingAndGlyphs" >IOSE</text>
</svg></body></html>
